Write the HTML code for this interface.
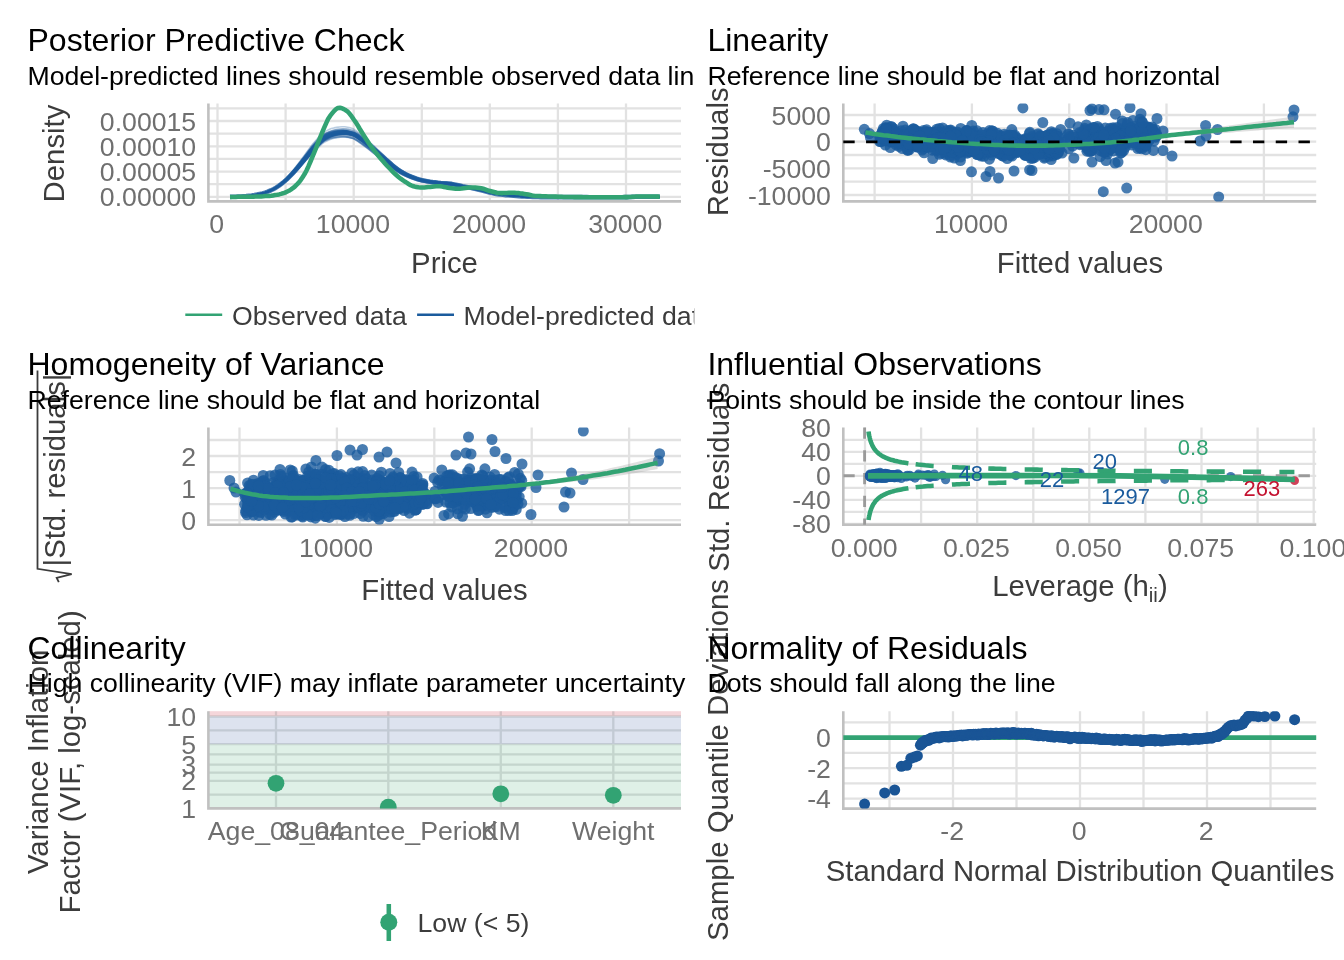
<!DOCTYPE html>
<html><head><meta charset="utf-8"><title>Model check</title>
<style>html,body{margin:0;padding:0;background:#fff}svg{display:block;will-change:transform}text{font-family:"Liberation Sans",Arial,Helvetica,sans-serif}</style>
</head><body>
<svg width="1344" height="960" viewBox="0 0 1344 960">
<rect width="1344" height="960" fill="#fff"/>
<defs><clipPath id="colL"><rect x="0" y="0" width="694.3" height="960"/></clipPath></defs>
<clipPath id="c1"><rect x="208.4" y="103.6" width="472.6" height="97.80000000000001"/></clipPath>
<path d="M217.5 103.6V201.4M285.6 103.6V201.4M353.7 103.6V201.4M421.8 103.6V201.4M489.8 103.6V201.4M557.9 103.6V201.4M626 103.6V201.4M208.4 196.9H681M208.4 184.2H681M208.4 171.6H681M208.4 158.9H681M208.4 146.3H681M208.4 133.7H681M208.4 121H681M208.4 108.4H681" stroke="#e2e2e2" stroke-width="2.3" fill="none"/>
<path d="M208.4 103.6V202.70000000000002M207.1 201.4H681" stroke="#c0c0c0" stroke-width="2.6" fill="none"/>
<g clip-path="url(#c1)" fill="none" stroke-linejoin="round" stroke-linecap="butt">
<path d="M230 196.8 L232.7 196.8 L235.4 196.7 L238.1 196.6 L240.8 196.4 L243.5 196.2 L246.2 196 L248.9 195.8 L251.6 195.5 L254.3 195.1 L257 194.6 L259.8 194 L262.5 193.3 L265.2 192.6 L267.9 191.6 L270.6 190.5 L273.3 189.2 L276 187.7 L278.7 185.9 L281.5 183.9 L284.2 181.7 L286.9 179.3 L289.6 176.7 L292.4 173.8 L295.1 170.9 L297.8 167.8 L300.5 164.5 L303.3 161.2 L306 157.9 L308.7 154.6 L311.5 151.2 L314.2 148.1 L316.9 145.2 L319.6 142.4 L322.4 139.8 L325.1 137.8 L327.8 136.3 L330.5 135.1 L333.2 134.2 L335.9 133.5 L338.6 133.1 L341.3 132.8 L344 132.6 L346.7 132.6 L349.4 133.1 L352.1 133.7 L354.8 134.6 L357.5 136.2 L360.2 138.1 L362.9 140.1 L365.6 142.2 L368.3 144.3 L371 146.6 L373.6 148.9 L376.3 151.2 L379 153.6 L381.7 156 L384.4 158.4 L387.1 160.7 L389.8 163 L392.4 165.3 L395.1 167.5 L397.8 169.5 L400.5 171.3 L403.2 172.8 L405.9 174.3 L408.6 175.5 L411.3 176.7 L414 177.8 L416.7 178.7 L419.4 179.5 L422.1 180.2 L424.8 180.7 L427.5 181.2 L430.2 181.7 L432.9 182 L435.6 182.4 L438.3 182.7 L441 182.9 L443.7 183.1 L446.4 183.3 L449.1 183.5 L451.8 183.9 L454.5 184.4 L457.2 184.9 L459.9 185.5 L462.6 186.1 L465.3 186.6 L467.9 187.1 L470.6 187.7 L473.3 188.3 L476 188.9 L478.7 189.6 L481.4 190.3 L484.1 191 L486.8 191.8 L489.5 192.5 L492.2 193.1 L494.9 193.6 L497.6 194.1 L500.3 194.5 L503 194.8 L505.7 195.1 L508.4 195.3 L511.1 195.5 L513.8 195.7 L516.5 195.9 L519.2 196.1 L521.9 196.3 L524.6 196.5 L527.3 196.6 L530 196.7 L532.7 196.8 L535.4 196.9 L538.2 197 L540.9 197.1 L543.6 197.1 L546.3 197.1 L549 197.1 L551.7 197.1 L554.4 197.1 L557.1 197.1 L559.8 197.1 L562.5 197.1 L565.2 197.1 L567.9 197.1 L570.6 197.1 L573.3 197.1 L576 197.1 L578.7 197.1 L581.4 197.1 L584.1 197.1 L586.8 197.1 L589.5 197.2 L592.2 197.2 L594.9 197.2 L597.6 197.2 L600.3 197.3 L603 197.3 L605.7 197.3 L608.4 197.3 L611.1 197.3 L613.8 197.3 L616.5 197.2 L619.2 197.2 L621.9 197.2 L624.6 197.1 L627.4 197.1 L630.1 197 L632.8 196.9 L635.5 196.8 L638.2 196.7 L640.9 196.7 L643.6 196.7 L646.3 196.7 L649 196.7 L651.7 196.7 L654.4 196.7 L657.1 196.7 L659.8 196.7" stroke="#1a5b9d" stroke-opacity="0.3" stroke-width="1.6"/>
<path d="M230 196.9 L232.7 196.8 L235.4 196.8 L238.1 196.6 L240.8 196.5 L243.5 196.3 L246.2 196.1 L248.9 195.8 L251.6 195.5 L254.3 195.1 L257 194.6 L259.7 194.1 L262.3 193.4 L265 192.7 L267.7 191.7 L270.4 190.6 L273 189.3 L275.7 187.9 L278.4 186.1 L281 184.1 L283.7 182 L286.3 179.7 L288.9 177 L291.6 174.2 L294.2 171.4 L296.8 168.3 L299.4 165.1 L302 161.8 L304.7 158.6 L307.3 155.3 L309.9 152 L312.5 148.8 L315.1 146 L317.8 143.2 L320.4 140.7 L323 138.6 L325.7 137.2 L328.4 136 L331.1 135 L333.7 134.3 L336.4 133.9 L339.1 133.6 L341.8 133.4 L344.5 133.5 L347.2 133.9 L350 134.5 L352.7 135.3 L355.4 136.9 L358.2 138.9 L360.9 140.8 L363.7 142.8 L366.5 145 L369.2 147.2 L372 149.5 L374.8 151.8 L377.5 154.1 L380.3 156.5 L383.1 158.8 L385.8 161.1 L388.6 163.4 L391.3 165.7 L394.1 167.9 L396.9 169.9 L399.6 171.6 L402.4 173.2 L405.1 174.6 L407.8 175.8 L410.6 177 L413.3 178 L416 179 L418.8 179.8 L421.5 180.4 L424.2 181 L426.9 181.5 L429.6 181.9 L432.3 182.3 L435.1 182.6 L437.8 182.9 L440.5 183.2 L443.2 183.4 L445.9 183.6 L448.6 183.8 L451.3 184.1 L454 184.6 L456.7 185.2 L459.5 185.8 L462.2 186.3 L464.9 186.8 L467.6 187.4 L470.3 187.9 L473.1 188.5 L475.8 189.1 L478.5 189.8 L481.2 190.4 L483.9 191.1 L486.7 191.9 L489.4 192.6 L492.1 193.2 L494.8 193.7 L497.5 194.2 L500.2 194.6 L503 194.9 L505.7 195.1 L508.4 195.4 L511.1 195.6 L513.8 195.8 L516.5 196 L519.2 196.2 L521.9 196.4 L524.6 196.5 L527.3 196.7 L530 196.8 L532.7 196.9 L535.5 196.9 L538.2 197 L540.9 197.1 L543.6 197.1 L546.3 197.1 L549 197.1 L551.7 197.1 L554.4 197.1 L557.1 197.1 L559.8 197.1 L562.5 197.1 L565.2 197.1 L567.9 197.1 L570.6 197.1 L573.3 197.1 L576 197.1 L578.7 197.1 L581.4 197.1 L584.1 197.1 L586.8 197.1 L589.5 197.2 L592.2 197.2 L594.9 197.2 L597.6 197.2 L600.3 197.3 L603 197.3 L605.7 197.3 L608.4 197.3 L611.1 197.3 L613.8 197.3 L616.6 197.2 L619.3 197.2 L622 197.2 L624.7 197.1 L627.4 197.1 L630.1 197 L632.8 196.9 L635.5 196.8 L638.2 196.7 L640.9 196.7 L643.6 196.7 L646.3 196.7 L649 196.7 L651.7 196.7 L654.4 196.7 L657.1 196.7 L659.8 196.7" stroke="#1a5b9d" stroke-opacity="0.3" stroke-width="1.6"/>
<path d="M230 196.9 L232.7 196.9 L235.4 196.8 L238.1 196.7 L240.8 196.5 L243.5 196.3 L246.2 196.1 L248.9 195.9 L251.6 195.6 L254.3 195.2 L257 194.7 L259.7 194.1 L262.4 193.5 L265.1 192.7 L267.8 191.8 L270.4 190.7 L273.1 189.4 L275.8 187.9 L278.5 186.2 L281.1 184.2 L283.8 182 L286.5 179.7 L289.1 177 L291.8 174.2 L294.4 171.3 L297.1 168.2 L299.7 165 L302.4 161.7 L305 158.4 L307.7 155.1 L310.3 151.7 L313 148.6 L315.6 145.7 L318.3 142.9 L321 140.3 L323.6 138.2 L326.3 136.7 L329 135.5 L331.7 134.6 L334.4 133.9 L337.1 133.4 L339.8 133.1 L342.5 132.9 L345.2 132.9 L347.9 133.3 L350.6 134 L353.3 134.8 L356 136.4 L358.8 138.4 L361.5 140.3 L364.2 142.4 L367 144.6 L369.7 146.9 L372.5 149.1 L375.2 151.5 L378 153.9 L380.7 156.2 L383.4 158.6 L386.2 161 L388.9 163.3 L391.7 165.6 L394.4 167.8 L397.1 169.8 L399.9 171.6 L402.6 173.1 L405.3 174.6 L408 175.8 L410.8 177 L413.5 178.1 L416.2 179 L418.9 179.8 L421.6 180.5 L424.4 181.1 L427.1 181.6 L429.8 182 L432.5 182.4 L435.2 182.7 L437.9 183 L440.6 183.3 L443.3 183.5 L446 183.7 L448.7 184 L451.4 184.3 L454.2 184.8 L456.9 185.4 L459.6 185.9 L462.3 186.5 L465 187 L467.7 187.5 L470.4 188.1 L473.1 188.6 L475.9 189.3 L478.6 189.9 L481.3 190.6 L484 191.3 L486.7 192 L489.4 192.7 L492.1 193.3 L494.8 193.8 L497.6 194.2 L500.3 194.6 L503 194.9 L505.7 195.2 L508.4 195.4 L511.1 195.6 L513.8 195.8 L516.5 196 L519.2 196.2 L521.9 196.4 L524.6 196.6 L527.3 196.7 L530 196.8 L532.7 196.9 L535.5 196.9 L538.2 197 L540.9 197.1 L543.6 197.1 L546.3 197.1 L549 197.1 L551.7 197.1 L554.4 197.1 L557.1 197 L559.8 197 L562.5 197.1 L565.2 197.1 L567.9 197.1 L570.6 197.1 L573.3 197.1 L576 197.1 L578.7 197.1 L581.4 197.1 L584.1 197.1 L586.8 197.1 L589.5 197.2 L592.2 197.2 L594.9 197.2 L597.6 197.2 L600.3 197.3 L603 197.3 L605.7 197.3 L608.4 197.3 L611.1 197.3 L613.8 197.3 L616.5 197.2 L619.3 197.2 L622 197.2 L624.7 197.1 L627.4 197.1 L630.1 197 L632.8 196.9 L635.5 196.8 L638.2 196.7 L640.9 196.7 L643.6 196.7 L646.3 196.7 L649 196.7 L651.7 196.7 L654.4 196.7 L657.1 196.7 L659.8 196.7" stroke="#1a5b9d" stroke-opacity="0.3" stroke-width="1.6"/>
<path d="M230 196.9 L232.7 196.8 L235.4 196.8 L238.1 196.6 L240.8 196.5 L243.5 196.3 L246.2 196.1 L248.9 195.8 L251.6 195.5 L254.3 195.1 L257 194.6 L259.7 194 L262.3 193.3 L265 192.6 L267.7 191.6 L270.4 190.5 L273.1 189.2 L275.7 187.7 L278.4 185.9 L281 183.9 L283.7 181.7 L286.3 179.3 L289 176.6 L291.6 173.8 L294.2 170.8 L296.9 167.7 L299.5 164.4 L302.1 161.1 L304.7 157.8 L307.3 154.4 L310 151 L312.6 147.8 L315.2 145 L317.8 142.1 L320.5 139.5 L323.1 137.4 L325.8 135.9 L328.5 134.7 L331.2 133.7 L333.8 133 L336.5 132.6 L339.2 132.3 L341.9 132.1 L344.6 132.1 L347.3 132.5 L350.1 133.2 L352.8 134 L355.5 135.6 L358.3 137.6 L361 139.6 L363.8 141.7 L366.5 143.9 L369.3 146.2 L372.1 148.5 L374.8 150.8 L377.6 153.2 L380.4 155.6 L383.1 158 L385.9 160.4 L388.6 162.7 L391.4 165 L394.2 167.3 L396.9 169.3 L399.7 171.1 L402.4 172.7 L405.1 174.1 L407.9 175.4 L410.6 176.6 L413.3 177.6 L416.1 178.6 L418.8 179.4 L421.5 180.1 L424.2 180.7 L426.9 181.2 L429.7 181.6 L432.4 182 L435.1 182.3 L437.8 182.6 L440.5 182.9 L443.2 183.1 L445.9 183.3 L448.6 183.5 L451.3 183.9 L454 184.4 L456.8 185 L459.5 185.6 L462.2 186.1 L464.9 186.6 L467.6 187.2 L470.3 187.7 L473.1 188.3 L475.8 189 L478.5 189.6 L481.2 190.3 L483.9 191 L486.7 191.8 L489.4 192.5 L492.1 193.1 L494.8 193.7 L497.5 194.1 L500.3 194.5 L503 194.8 L505.7 195.1 L508.4 195.3 L511.1 195.5 L513.8 195.7 L516.5 195.9 L519.2 196.2 L521.9 196.4 L524.6 196.5 L527.3 196.7 L530 196.8 L532.7 196.9 L535.5 196.9 L538.2 197 L540.9 197.1 L543.6 197.1 L546.3 197.1 L549 197.1 L551.7 197.1 L554.4 197.1 L557.1 197.1 L559.8 197.1 L562.5 197.1 L565.2 197.1 L567.9 197.1 L570.6 197.1 L573.3 197.1 L576 197.1 L578.7 197.1 L581.4 197.1 L584.1 197.1 L586.8 197.1 L589.5 197.2 L592.2 197.2 L594.9 197.2 L597.6 197.3 L600.3 197.3 L603 197.3 L605.7 197.3 L608.4 197.3 L611.1 197.3 L613.8 197.3 L616.6 197.2 L619.3 197.2 L622 197.2 L624.7 197.1 L627.4 197.1 L630.1 197 L632.8 196.9 L635.5 196.8 L638.2 196.7 L640.9 196.7 L643.6 196.7 L646.3 196.7 L649 196.7 L651.7 196.7 L654.4 196.7 L657.1 196.7 L659.8 196.7" stroke="#1a5b9d" stroke-opacity="0.3" stroke-width="1.6"/>
<path d="M230 196.9 L232.7 196.8 L235.4 196.8 L238.1 196.6 L240.8 196.4 L243.5 196.2 L246.2 196 L248.9 195.8 L251.6 195.4 L254.3 195 L257 194.5 L259.7 193.9 L262.4 193.3 L265.1 192.5 L267.8 191.6 L270.5 190.4 L273.2 189.2 L275.8 187.7 L278.5 185.9 L281.2 183.9 L283.9 181.8 L286.6 179.5 L289.2 176.8 L291.9 174 L294.6 171.2 L297.2 168.1 L299.9 164.9 L302.5 161.6 L305.2 158.4 L307.9 155.2 L310.5 151.9 L313.2 148.8 L315.9 146.1 L318.5 143.4 L321.2 140.9 L323.9 138.9 L326.6 137.6 L329.3 136.5 L331.9 135.7 L334.6 135.1 L337.3 134.8 L340 134.6 L342.7 134.6 L345.4 134.8 L348.2 135.3 L350.9 136 L353.6 137 L356.3 138.7 L359 140.7 L361.8 142.7 L364.5 144.8 L367.2 147 L369.9 149.2 L372.7 151.5 L375.4 153.8 L378.1 156.2 L380.9 158.5 L383.6 160.8 L386.3 163.1 L389.1 165.3 L391.8 167.5 L394.5 169.6 L397.3 171.6 L400 173.2 L402.7 174.8 L405.4 176.1 L408.1 177.3 L410.9 178.4 L413.6 179.4 L416.3 180.3 L419 181.1 L421.7 181.7 L424.4 182.2 L427.1 182.7 L429.8 183.1 L432.6 183.4 L435.3 183.7 L438 184 L440.7 184.2 L443.4 184.4 L446.1 184.5 L448.8 184.7 L451.5 185 L454.2 185.4 L456.9 185.9 L459.6 186.5 L462.3 187 L465 187.4 L467.8 187.9 L470.5 188.4 L473.2 188.9 L475.9 189.5 L478.6 190.1 L481.3 190.7 L484 191.3 L486.7 192 L489.4 192.7 L492.2 193.3 L494.9 193.7 L497.6 194.1 L500.3 194.5 L503 194.8 L505.7 195 L508.4 195.2 L511.1 195.4 L513.8 195.6 L516.5 195.8 L519.2 196 L521.9 196.2 L524.6 196.3 L527.3 196.4 L530 196.5 L532.7 196.6 L535.4 196.7 L538.2 196.8 L540.9 196.8 L543.6 196.8 L546.3 196.8 L549 196.8 L551.7 196.8 L554.4 196.8 L557.1 196.8 L559.8 196.8 L562.5 197.1 L565.2 197.1 L567.9 197.1 L570.6 197.1 L573.3 197.1 L576 197.1 L578.7 197.1 L581.4 197.1 L584.1 197.1 L586.8 197.1 L589.5 197.2 L592.2 197.2 L594.9 197.2 L597.6 197.2 L600.3 197.3 L603 197.3 L605.7 197.3 L608.4 197.3 L611.1 197.3 L613.8 197.2 L616.5 197.2 L619.2 197.2 L622 197.2 L624.7 197.1 L627.4 197.1 L630.1 197 L632.8 196.9 L635.5 196.8 L638.2 196.7 L640.9 196.7 L643.6 196.7 L646.3 196.7 L649 196.7 L651.7 196.7 L654.4 196.7 L657.1 196.7 L659.8 196.7" stroke="#1a5b9d" stroke-opacity="0.3" stroke-width="1.6"/>
<path d="M230 196.8 L232.7 196.8 L235.4 196.7 L238.1 196.6 L240.8 196.4 L243.5 196.2 L246.2 196 L248.9 195.8 L251.6 195.5 L254.3 195.1 L257 194.6 L259.7 194 L262.4 193.4 L265.1 192.7 L267.8 191.7 L270.5 190.6 L273.2 189.4 L275.9 188 L278.6 186.3 L281.3 184.3 L284 182.3 L286.7 180 L289.3 177.5 L292 174.8 L294.7 172 L297.4 169 L300.1 165.9 L302.8 162.8 L305.4 159.7 L308.1 156.5 L310.8 153.4 L313.5 150.4 L316.2 147.7 L318.9 145.1 L321.5 142.7 L324.2 140.8 L326.9 139.5 L329.6 138.4 L332.3 137.6 L335 137.1 L337.7 136.7 L340.4 136.5 L343.1 136.4 L345.8 136.6 L348.5 137.1 L351.2 137.7 L353.9 138.6 L356.7 140.2 L359.4 142.2 L362.1 144 L364.8 146 L367.5 148.1 L370.2 150.3 L373 152.5 L375.7 154.7 L378.4 157 L381.1 159.2 L383.8 161.4 L386.6 163.6 L389.3 165.8 L392 167.9 L394.7 170 L397.4 171.9 L400.1 173.5 L402.8 175 L405.6 176.3 L408.3 177.5 L411 178.5 L413.7 179.5 L416.4 180.4 L419.1 181.1 L421.8 181.7 L424.5 182.2 L427.2 182.7 L429.9 183 L432.6 183.4 L435.3 183.7 L438 183.9 L440.8 184.1 L443.5 184.3 L446.2 184.5 L448.9 184.7 L451.6 184.9 L454.3 185.4 L457 185.9 L459.7 186.4 L462.4 186.9 L465.1 187.4 L467.8 187.9 L470.5 188.4 L473.2 188.9 L475.9 189.5 L478.6 190.1 L481.3 190.7 L484.1 191.3 L486.8 192 L489.5 192.7 L492.2 193.3 L494.9 193.7 L497.6 194.2 L500.3 194.5 L503 194.8 L505.7 195.1 L508.4 195.3 L511.1 195.5 L513.8 195.7 L516.5 195.8 L519.2 196 L521.9 196.2 L524.6 196.4 L527.3 196.5 L530 196.6 L532.7 196.7 L535.4 196.8 L538.2 196.8 L540.9 196.9 L543.6 196.9 L546.3 196.9 L549 196.9 L551.7 196.9 L554.4 196.9 L557.1 196.9 L559.8 196.9 L562.5 197.1 L565.2 197.1 L567.9 197.1 L570.6 197.1 L573.3 197.1 L576 197.1 L578.7 197.1 L581.4 197.1 L584.1 197.1 L586.8 197.1 L589.5 197.2 L592.2 197.2 L594.9 197.2 L597.6 197.2 L600.3 197.2 L603 197.3 L605.7 197.3 L608.4 197.3 L611.1 197.3 L613.8 197.2 L616.5 197.2 L619.2 197.2 L622 197.1 L624.7 197.1 L627.4 197.1 L630.1 197 L632.8 196.9 L635.5 196.8 L638.2 196.7 L640.9 196.7 L643.6 196.7 L646.3 196.7 L649 196.7 L651.7 196.7 L654.4 196.7 L657.1 196.7 L659.8 196.7" stroke="#1a5b9d" stroke-opacity="0.3" stroke-width="1.6"/>
<path d="M230 197 L232.7 197 L235.4 196.9 L238.1 196.7 L240.8 196.6 L243.5 196.3 L246.2 196.1 L248.9 195.8 L251.6 195.5 L254.3 195.1 L257 194.5 L259.7 193.9 L262.4 193.2 L265.1 192.4 L267.8 191.4 L270.5 190.2 L273.2 188.8 L275.9 187.3 L278.6 185.4 L281.3 183.3 L284 181 L286.7 178.5 L289.4 175.7 L292.1 172.7 L294.7 169.6 L297.4 166.3 L300.1 162.9 L302.8 159.4 L305.5 155.9 L308.2 152.4 L310.9 148.9 L313.6 145.5 L316.2 142.6 L318.9 139.6 L321.6 136.9 L324.3 134.8 L327 133.3 L329.7 132.1 L332.4 131.2 L335.1 130.6 L337.8 130.2 L340.5 130 L343.2 129.9 L345.9 130.1 L348.6 130.7 L351.3 131.5 L354 132.5 L356.7 134.3 L359.5 136.5 L362.2 138.6 L364.9 140.9 L367.6 143.3 L370.3 145.7 L373 148.2 L375.7 150.7 L378.5 153.3 L381.2 155.8 L383.9 158.3 L386.6 160.8 L389.3 163.2 L392 165.6 L394.7 167.9 L397.5 170 L400.2 171.8 L402.9 173.4 L405.6 174.9 L408.3 176.2 L411 177.4 L413.7 178.5 L416.4 179.4 L419.1 180.3 L421.8 180.9 L424.5 181.5 L427.2 182 L430 182.5 L432.7 182.9 L435.4 183.2 L438.1 183.5 L440.8 183.7 L443.5 184 L446.2 184.1 L448.9 184.3 L451.6 184.6 L454.3 185.1 L457 185.7 L459.7 186.2 L462.4 186.7 L465.1 187.2 L467.8 187.7 L470.5 188.2 L473.2 188.8 L475.9 189.4 L478.6 190 L481.4 190.6 L484.1 191.3 L486.8 192 L489.5 192.7 L492.2 193.2 L494.9 193.7 L497.6 194.2 L500.3 194.5 L503 194.8 L505.7 195.1 L508.4 195.3 L511.1 195.5 L513.8 195.6 L516.5 195.8 L519.2 196 L521.9 196.2 L524.6 196.3 L527.3 196.5 L530 196.5 L532.7 196.6 L535.4 196.7 L538.2 196.7 L540.9 196.8 L543.6 196.8 L546.3 196.8 L549 196.8 L551.7 196.8 L554.4 196.8 L557.1 196.8 L559.8 196.8 L562.5 197.1 L565.2 197.1 L567.9 197.1 L570.6 197.1 L573.3 197.1 L576 197.1 L578.7 197.1 L581.4 197.1 L584.1 197.1 L586.8 197.2 L589.5 197.2 L592.2 197.2 L594.9 197.2 L597.6 197.3 L600.3 197.3 L603 197.3 L605.7 197.3 L608.4 197.3 L611.1 197.3 L613.8 197.3 L616.5 197.2 L619.2 197.2 L621.9 197.2 L624.7 197.1 L627.4 197.1 L630.1 197 L632.8 196.9 L635.5 196.8 L638.2 196.7 L640.9 196.7 L643.6 196.7 L646.3 196.7 L649 196.7 L651.7 196.7 L654.4 196.7 L657.1 196.7 L659.8 196.7" stroke="#1a5b9d" stroke-opacity="0.3" stroke-width="1.6"/>
<path d="M230 196.7 L232.7 196.6 L235.4 196.6 L238.1 196.4 L240.8 196.3 L243.5 196.1 L246.2 195.8 L248.9 195.6 L251.6 195.3 L254.3 194.9 L257 194.4 L259.7 193.8 L262.4 193.2 L265.2 192.4 L267.9 191.5 L270.6 190.3 L273.3 189 L276 187.6 L278.7 185.8 L281.4 183.8 L284.1 181.6 L286.8 179.3 L289.5 176.7 L292.2 173.9 L295 171 L297.7 168 L300.4 164.8 L303.1 161.5 L305.8 158.3 L308.5 155.1 L311.2 151.8 L313.9 148.7 L316.7 146 L319.4 143.3 L322.1 140.8 L324.8 138.8 L327.5 137.4 L330.2 136.3 L332.9 135.4 L335.6 134.8 L338.3 134.5 L341 134.2 L343.7 134 L346.4 134.1 L349.1 134.5 L351.8 135.2 L354.5 136 L357.2 137.6 L359.9 139.5 L362.6 141.4 L365.3 143.4 L368 145.5 L370.7 147.7 L373.4 149.9 L376.1 152.2 L378.8 154.5 L381.5 156.8 L384.2 159.1 L386.9 161.4 L389.6 163.6 L392.3 165.8 L395 167.9 L397.7 169.9 L400.4 171.6 L403.1 173.1 L405.8 174.5 L408.5 175.7 L411.2 176.8 L413.9 177.8 L416.6 178.8 L419.3 179.5 L422 180.1 L424.7 180.7 L427.4 181.1 L430.1 181.5 L432.8 181.9 L435.5 182.2 L438.2 182.5 L440.9 182.7 L443.6 182.9 L446.3 183.1 L449 183.3 L451.7 183.6 L454.4 184.1 L457.1 184.6 L459.8 185.2 L462.5 185.8 L465.2 186.3 L467.9 186.8 L470.6 187.4 L473.3 188 L476 188.6 L478.7 189.3 L481.4 190 L484.1 190.7 L486.8 191.5 L489.5 192.2 L492.2 192.9 L494.9 193.4 L497.6 193.9 L500.3 194.3 L503 194.6 L505.7 194.9 L508.4 195.2 L511.1 195.4 L513.8 195.6 L516.5 195.8 L519.2 196 L521.9 196.2 L524.6 196.4 L527.3 196.6 L530 196.7 L532.7 196.8 L535.4 196.9 L538.2 197 L540.9 197 L543.6 197.1 L546.3 197.1 L549 197.1 L551.7 197.1 L554.4 197.1 L557.1 197.1 L559.8 197.2 L562.5 197.1 L565.2 197.1 L567.9 197.1 L570.6 197.1 L573.3 197.1 L576 197.1 L578.7 197.1 L581.4 197.1 L584.1 197.1 L586.8 197.1 L589.5 197.2 L592.2 197.2 L594.9 197.2 L597.6 197.2 L600.3 197.3 L603 197.3 L605.7 197.3 L608.4 197.3 L611.1 197.3 L613.8 197.3 L616.5 197.2 L619.2 197.2 L621.9 197.2 L624.7 197.1 L627.4 197.1 L630.1 197 L632.8 196.9 L635.5 196.8 L638.2 196.7 L640.9 196.7 L643.6 196.7 L646.3 196.7 L649 196.7 L651.7 196.7 L654.4 196.7 L657.1 196.7 L659.8 196.7" stroke="#1a5b9d" stroke-opacity="0.3" stroke-width="1.6"/>
<path d="M230 196.8 L232.7 196.7 L235.4 196.7 L238.1 196.5 L240.8 196.3 L243.5 196.1 L246.2 195.9 L248.9 195.7 L251.6 195.4 L254.3 195 L257 194.5 L259.7 193.9 L262.3 193.2 L265 192.4 L267.7 191.5 L270.4 190.3 L273 189 L275.7 187.5 L278.4 185.7 L281 183.7 L283.7 181.5 L286.3 179.1 L288.9 176.5 L291.6 173.6 L294.2 170.7 L296.8 167.6 L299.4 164.3 L302.1 161 L304.7 157.7 L307.3 154.4 L309.9 151 L312.5 147.9 L315.1 145.1 L317.8 142.3 L320.4 139.7 L323.1 137.7 L325.7 136.3 L328.4 135.1 L331.1 134.2 L333.8 133.5 L336.5 133.2 L339.1 132.9 L341.8 132.7 L344.5 132.8 L347.3 133.2 L350 133.9 L352.7 134.8 L355.5 136.4 L358.2 138.4 L361 140.3 L363.7 142.4 L366.5 144.6 L369.2 146.8 L372 149.1 L374.8 151.4 L377.5 153.8 L380.3 156.2 L383.1 158.5 L385.8 160.9 L388.6 163.1 L391.4 165.4 L394.1 167.6 L396.9 169.6 L399.6 171.3 L402.4 172.9 L405.1 174.3 L407.8 175.6 L410.6 176.7 L413.3 177.8 L416 178.7 L418.8 179.5 L421.5 180.1 L424.2 180.7 L426.9 181.2 L429.6 181.6 L432.3 182 L435.1 182.3 L437.8 182.6 L440.5 182.8 L443.2 183 L445.9 183.2 L448.6 183.4 L451.3 183.7 L454 184.2 L456.7 184.8 L459.5 185.4 L462.2 185.9 L464.9 186.5 L467.6 187 L470.3 187.5 L473.1 188.1 L475.8 188.8 L478.5 189.5 L481.2 190.1 L483.9 190.9 L486.7 191.6 L489.4 192.4 L492.1 193 L494.8 193.5 L497.5 194 L500.2 194.4 L503 194.7 L505.7 195 L508.4 195.2 L511.1 195.4 L513.8 195.6 L516.5 195.8 L519.2 196.1 L521.9 196.3 L524.6 196.4 L527.3 196.6 L530 196.7 L532.7 196.8 L535.5 196.9 L538.2 197 L540.9 197 L543.6 197 L546.3 197.1 L549 197.1 L551.7 197.1 L554.4 197.1 L557.1 197.1 L559.8 197.1 L562.5 197.1 L565.2 197.1 L567.9 197.1 L570.6 197.1 L573.3 197.1 L576 197.1 L578.7 197.1 L581.4 197.1 L584.1 197.1 L586.8 197.1 L589.5 197.2 L592.2 197.2 L594.9 197.2 L597.6 197.2 L600.3 197.3 L603 197.3 L605.7 197.3 L608.4 197.3 L611.1 197.3 L613.8 197.3 L616.6 197.2 L619.3 197.2 L622 197.2 L624.7 197.1 L627.4 197.1 L630.1 197 L632.8 196.9 L635.5 196.8 L638.2 196.7 L640.9 196.7 L643.6 196.7 L646.3 196.7 L649 196.7 L651.7 196.7 L654.4 196.7 L657.1 196.7 L659.8 196.7" stroke="#1a5b9d" stroke-opacity="0.3" stroke-width="1.6"/>
<path d="M230 197 L232.7 197 L235.4 196.9 L238.1 196.8 L240.8 196.6 L243.5 196.4 L246.2 196.2 L248.9 196 L251.6 195.7 L254.3 195.3 L257 194.8 L259.7 194.2 L262.4 193.6 L265.1 192.9 L267.8 192 L270.5 190.9 L273.2 189.6 L275.9 188.2 L278.6 186.5 L281.3 184.5 L284 182.4 L286.7 180.1 L289.5 177.5 L292.2 174.8 L294.9 171.9 L297.6 168.9 L300.3 165.7 L303 162.4 L305.7 159.2 L308.4 155.9 L311.1 152.6 L313.8 149.4 L316.5 146.6 L319.2 143.8 L321.9 141.2 L324.6 139.1 L327.3 137.6 L330 136.4 L332.7 135.4 L335.4 134.6 L338.1 134.2 L340.8 133.8 L343.5 133.5 L346.2 133.5 L348.9 133.9 L351.6 134.5 L354.3 135.3 L357 136.8 L359.7 138.7 L362.4 140.6 L365.1 142.7 L367.8 144.8 L370.5 147 L373.2 149.3 L375.9 151.6 L378.6 153.9 L381.3 156.3 L384 158.7 L386.7 161 L389.5 163.3 L392.2 165.5 L394.9 167.7 L397.6 169.8 L400.3 171.5 L403 173.1 L405.7 174.5 L408.4 175.8 L411.1 177 L413.8 178 L416.5 179 L419.2 179.8 L421.9 180.5 L424.6 181 L427.3 181.6 L430 182 L432.7 182.4 L435.4 182.7 L438.1 183.1 L440.8 183.3 L443.5 183.6 L446.2 183.8 L448.9 184 L451.6 184.4 L454.3 184.8 L457 185.4 L459.8 186 L462.5 186.6 L465.2 187.1 L467.9 187.6 L470.6 188.2 L473.3 188.8 L476 189.4 L478.7 190 L481.4 190.7 L484.1 191.4 L486.8 192.1 L489.5 192.8 L492.2 193.4 L494.9 193.9 L497.6 194.4 L500.3 194.7 L503 195.1 L505.7 195.3 L508.4 195.5 L511.1 195.7 L513.8 195.9 L516.5 196.1 L519.2 196.3 L521.9 196.5 L524.6 196.7 L527.3 196.8 L530 196.9 L532.7 197 L535.4 197 L538.2 197.1 L540.9 197.1 L543.6 197.1 L546.3 197.1 L549 197.1 L551.7 197.1 L554.4 197.1 L557.1 197.1 L559.8 197.1 L562.5 197.1 L565.2 197.1 L567.9 197.1 L570.6 197.1 L573.3 197.1 L576 197.1 L578.7 197.1 L581.4 197.1 L584.1 197.1 L586.8 197.1 L589.5 197.2 L592.2 197.2 L594.9 197.2 L597.6 197.2 L600.3 197.3 L603 197.3 L605.7 197.3 L608.4 197.3 L611.1 197.3 L613.8 197.3 L616.5 197.2 L619.2 197.2 L621.9 197.2 L624.7 197.1 L627.4 197.1 L630.1 197 L632.8 196.9 L635.5 196.8 L638.2 196.7 L640.9 196.7 L643.6 196.7 L646.3 196.7 L649 196.7 L651.7 196.7 L654.4 196.7 L657.1 196.7 L659.8 196.7" stroke="#1a5b9d" stroke-opacity="0.3" stroke-width="1.6"/>
<path d="M230 196.9 L232.7 196.8 L235.4 196.8 L238.1 196.6 L240.8 196.5 L243.5 196.3 L246.2 196 L248.9 195.8 L251.6 195.5 L254.3 195.1 L257 194.6 L259.7 194 L262.4 193.4 L265.2 192.6 L267.9 191.7 L270.6 190.5 L273.3 189.2 L276 187.8 L278.7 186 L281.4 184 L284.1 181.8 L286.8 179.5 L289.5 176.8 L292.2 174 L295 171.1 L297.7 168 L300.4 164.7 L303.1 161.4 L305.8 158.1 L308.5 154.8 L311.2 151.4 L313.9 148.2 L316.7 145.4 L319.4 142.6 L322.1 140 L324.8 137.9 L327.5 136.4 L330.2 135.2 L332.9 134.3 L335.6 133.6 L338.3 133.2 L341 132.8 L343.7 132.6 L346.4 132.7 L349.1 133.1 L351.8 133.7 L354.5 134.6 L357.2 136.2 L359.9 138.1 L362.6 140.1 L365.3 142.1 L368 144.3 L370.7 146.6 L373.4 148.9 L376.1 151.2 L378.8 153.6 L381.5 156 L384.2 158.4 L386.9 160.7 L389.6 163 L392.3 165.3 L395 167.5 L397.7 169.5 L400.4 171.3 L403.1 172.9 L405.8 174.3 L408.5 175.6 L411.2 176.7 L413.9 177.8 L416.6 178.7 L419.3 179.5 L422 180.2 L424.7 180.8 L427.4 181.3 L430.1 181.7 L432.8 182.1 L435.5 182.4 L438.2 182.7 L440.9 183 L443.6 183.2 L446.3 183.4 L449 183.6 L451.7 183.9 L454.4 184.4 L457.1 185 L459.8 185.6 L462.5 186.2 L465.2 186.7 L467.9 187.2 L470.6 187.8 L473.3 188.4 L476 189 L478.7 189.7 L481.4 190.4 L484.1 191.1 L486.8 191.8 L489.5 192.5 L492.2 193.2 L494.9 193.7 L497.6 194.1 L500.3 194.5 L503 194.9 L505.7 195.1 L508.4 195.3 L511.1 195.6 L513.8 195.8 L516.5 196 L519.2 196.2 L521.9 196.4 L524.6 196.5 L527.3 196.7 L530 196.8 L532.7 196.9 L535.4 196.9 L538.2 197 L540.9 197.1 L543.6 197.1 L546.3 197.1 L549 197.1 L551.7 197.1 L554.4 197.1 L557.1 197.1 L559.8 197.1 L562.5 197.1 L565.2 197.1 L567.9 197.1 L570.6 197.1 L573.3 197.1 L576 197.1 L578.7 197.1 L581.4 197.1 L584.1 197.1 L586.8 197.1 L589.5 197.2 L592.2 197.2 L594.9 197.2 L597.6 197.2 L600.3 197.3 L603 197.3 L605.7 197.3 L608.4 197.3 L611.1 197.3 L613.8 197.3 L616.5 197.2 L619.2 197.2 L621.9 197.2 L624.7 197.1 L627.4 197.1 L630.1 197 L632.8 196.9 L635.5 196.8 L638.2 196.7 L640.9 196.7 L643.6 196.7 L646.3 196.7 L649 196.7 L651.7 196.7 L654.4 196.7 L657.1 196.7 L659.8 196.7" stroke="#1a5b9d" stroke-opacity="0.3" stroke-width="1.6"/>
<path d="M230 196.9 L232.7 196.9 L235.4 196.8 L238.1 196.7 L240.8 196.6 L243.5 196.4 L246.2 196.2 L249 196 L251.7 195.7 L254.4 195.3 L257.1 194.8 L259.8 194.2 L262.6 193.6 L265.3 192.9 L268 191.9 L270.8 190.8 L273.5 189.6 L276.3 188.1 L279.1 186.4 L281.8 184.4 L284.6 182.3 L287.4 179.9 L290.2 177.3 L293 174.5 L295.8 171.6 L298.6 168.6 L301.5 165.3 L304.3 162 L307.1 158.7 L309.9 155.4 L312.7 152 L315.6 148.8 L318.4 145.9 L321.2 143.1 L324 140.4 L326.8 138.2 L329.5 136.7 L332.3 135.4 L335 134.3 L337.7 133.5 L340.4 133 L343.2 132.5 L345.9 132.2 L348.6 132.2 L351.3 132.5 L353.9 133 L356.6 133.7 L359.3 135.3 L361.9 137.2 L364.5 139 L367.1 141 L369.8 143.2 L372.4 145.4 L375 147.7 L377.6 150 L380.2 152.4 L382.9 154.8 L385.5 157.2 L388.1 159.6 L390.7 161.9 L393.3 164.2 L396 166.5 L398.6 168.5 L401.2 170.3 L403.9 171.9 L406.5 173.4 L409.2 174.7 L411.8 175.9 L414.5 177 L417.2 178 L419.8 178.9 L422.5 179.5 L425.2 180.2 L427.9 180.7 L430.6 181.1 L433.3 181.6 L436 181.9 L438.7 182.3 L441.3 182.6 L444 182.8 L446.7 183 L449.4 183.3 L452.1 183.6 L454.8 184.2 L457.5 184.8 L460.2 185.4 L462.9 186 L465.5 186.6 L468.2 187.2 L470.9 187.7 L473.6 188.4 L476.3 189 L478.9 189.7 L481.6 190.4 L484.3 191.2 L487 191.9 L489.7 192.7 L492.3 193.3 L495 193.8 L497.7 194.3 L500.4 194.7 L503.1 195 L505.8 195.3 L508.5 195.5 L511.2 195.7 L513.9 196 L516.6 196.2 L519.3 196.4 L522 196.6 L524.7 196.7 L527.3 196.9 L530 197 L532.7 197.1 L535.4 197.1 L538.1 197.2 L540.8 197.3 L543.6 197.3 L546.3 197.3 L549 197.3 L551.7 197.3 L554.4 197.3 L557.1 197.3 L559.8 197.2 L562.5 197.1 L565.2 197.1 L567.9 197.1 L570.6 197.1 L573.3 197.1 L576 197.1 L578.7 197.1 L581.4 197.1 L584.1 197.1 L586.8 197.1 L589.5 197.2 L592.2 197.2 L594.9 197.2 L597.6 197.3 L600.3 197.3 L603 197.3 L605.7 197.3 L608.4 197.3 L611.1 197.3 L613.8 197.3 L616.5 197.2 L619.2 197.2 L621.9 197.2 L624.6 197.1 L627.3 197.1 L630.1 197 L632.8 196.9 L635.5 196.8 L638.2 196.7 L640.9 196.7 L643.6 196.7 L646.3 196.7 L649 196.7 L651.7 196.7 L654.4 196.7 L657.1 196.7 L659.8 196.7" stroke="#1a5b9d" stroke-opacity="0.3" stroke-width="1.6"/>
<path d="M230 196.7 L232.7 196.7 L235.4 196.6 L238.1 196.4 L240.8 196.2 L243.5 196 L246.2 195.8 L248.9 195.5 L251.6 195.2 L254.3 194.8 L257 194.3 L259.7 193.6 L262.4 193 L265.1 192.2 L267.8 191.2 L270.4 190 L273.1 188.7 L275.8 187.1 L278.5 185.3 L281.1 183.2 L283.8 181 L286.5 178.6 L289.1 175.9 L291.8 173 L294.4 170 L297.1 166.9 L299.7 163.5 L302.4 160.2 L305 156.9 L307.7 153.6 L310.3 150.2 L313 147.1 L315.6 144.3 L318.3 141.5 L320.9 139 L323.6 137 L326.3 135.7 L329 134.6 L331.6 133.8 L334.3 133.2 L337 133 L339.7 132.8 L342.4 132.7 L345.1 132.9 L347.8 133.5 L350.6 134.2 L353.3 135.2 L356 136.9 L358.7 139 L361.5 141 L364.2 143.1 L367 145.4 L369.7 147.6 L372.4 149.9 L375.2 152.3 L377.9 154.7 L380.7 157.1 L383.4 159.4 L386.2 161.7 L388.9 164 L391.6 166.2 L394.4 168.4 L397.1 170.4 L399.9 172.1 L402.6 173.6 L405.3 175 L408 176.3 L410.8 177.4 L413.5 178.4 L416.2 179.3 L418.9 180.1 L421.6 180.7 L424.3 181.2 L427.1 181.7 L429.8 182.1 L432.5 182.4 L435.2 182.7 L437.9 182.9 L440.6 183.2 L443.3 183.3 L446 183.5 L448.7 183.7 L451.4 183.9 L454.1 184.4 L456.9 185 L459.6 185.5 L462.3 186 L465 186.5 L467.7 187 L470.4 187.5 L473.1 188.1 L475.8 188.7 L478.6 189.4 L481.3 190 L484 190.8 L486.7 191.5 L489.4 192.2 L492.1 192.8 L494.8 193.3 L497.6 193.8 L500.3 194.2 L503 194.5 L505.7 194.8 L508.4 195 L511.1 195.2 L513.8 195.4 L516.5 195.6 L519.2 195.9 L521.9 196.1 L524.6 196.2 L527.3 196.4 L530 196.5 L532.7 196.6 L535.5 196.7 L538.2 196.8 L540.9 196.8 L543.6 196.9 L546.3 196.9 L549 196.9 L551.7 196.9 L554.4 196.9 L557.1 196.9 L559.8 196.9 L562.5 197.1 L565.2 197.1 L567.9 197.1 L570.6 197.1 L573.3 197.1 L576 197.1 L578.7 197.1 L581.4 197.1 L584.1 197.1 L586.8 197.1 L589.5 197.2 L592.2 197.2 L594.9 197.2 L597.6 197.2 L600.3 197.3 L603 197.3 L605.7 197.3 L608.4 197.3 L611.1 197.3 L613.8 197.3 L616.5 197.2 L619.3 197.2 L622 197.2 L624.7 197.1 L627.4 197.1 L630.1 197 L632.8 196.9 L635.5 196.8 L638.2 196.7 L640.9 196.7 L643.6 196.7 L646.3 196.7 L649 196.7 L651.7 196.7 L654.4 196.7 L657.1 196.7 L659.8 196.7" stroke="#1a5b9d" stroke-opacity="0.3" stroke-width="1.6"/>
<path d="M230 196.9 L232.7 196.9 L235.4 196.8 L238.1 196.7 L240.8 196.6 L243.5 196.4 L246.2 196.2 L248.9 195.9 L251.6 195.7 L254.3 195.3 L257 194.8 L259.7 194.2 L262.4 193.6 L265.1 192.9 L267.9 192 L270.6 190.9 L273.3 189.7 L276 188.2 L278.7 186.5 L281.4 184.6 L284.1 182.5 L286.8 180.3 L289.5 177.7 L292.2 175 L294.9 172.2 L297.6 169.2 L300.3 166.1 L303.1 162.8 L305.8 159.7 L308.5 156.4 L311.2 153.2 L313.9 150.1 L316.6 147.3 L319.3 144.6 L322 142 L324.7 140 L327.4 138.5 L330.1 137.3 L332.8 136.4 L335.5 135.7 L338.3 135.2 L341 134.9 L343.7 134.6 L346.4 134.7 L349.1 135 L351.8 135.6 L354.5 136.4 L357.2 137.9 L359.9 139.8 L362.6 141.7 L365.3 143.7 L368 145.8 L370.7 148 L373.4 150.2 L376.1 152.5 L378.8 154.8 L381.5 157.1 L384.2 159.4 L386.9 161.7 L389.6 163.9 L392.2 166.1 L394.9 168.3 L397.6 170.3 L400.3 172 L403 173.5 L405.7 174.9 L408.4 176.2 L411.1 177.3 L413.8 178.4 L416.5 179.3 L419.3 180.1 L422 180.7 L424.7 181.3 L427.4 181.8 L430.1 182.2 L432.8 182.6 L435.5 183 L438.2 183.3 L440.9 183.5 L443.6 183.8 L446.3 184 L449 184.2 L451.7 184.5 L454.4 185 L457.1 185.6 L459.8 186.2 L462.5 186.7 L465.2 187.2 L467.9 187.7 L470.6 188.3 L473.3 188.8 L476 189.4 L478.7 190.1 L481.4 190.7 L484.1 191.4 L486.8 192.1 L489.5 192.8 L492.2 193.4 L494.9 193.9 L497.6 194.3 L500.3 194.7 L503 195 L505.7 195.3 L508.4 195.5 L511.1 195.7 L513.8 195.9 L516.5 196.1 L519.2 196.3 L521.9 196.5 L524.6 196.6 L527.3 196.7 L530 196.8 L532.7 196.9 L535.4 197 L538.2 197.1 L540.9 197.1 L543.6 197.1 L546.3 197.1 L549 197.1 L551.7 197.1 L554.4 197.1 L557.1 197.1 L559.8 197.1 L562.5 197.1 L565.2 197.1 L567.9 197.1 L570.6 197.1 L573.3 197.1 L576 197.1 L578.7 197.1 L581.4 197.1 L584.1 197.1 L586.8 197.1 L589.5 197.2 L592.2 197.2 L594.9 197.2 L597.6 197.2 L600.3 197.3 L603 197.3 L605.7 197.3 L608.4 197.3 L611.1 197.3 L613.8 197.2 L616.5 197.2 L619.2 197.2 L621.9 197.2 L624.7 197.1 L627.4 197.1 L630.1 197 L632.8 196.9 L635.5 196.8 L638.2 196.7 L640.9 196.7 L643.6 196.7 L646.3 196.7 L649 196.7 L651.7 196.7 L654.4 196.7 L657.1 196.7 L659.8 196.7" stroke="#1a5b9d" stroke-opacity="0.3" stroke-width="1.6"/>
<path d="M230 196.8 L232.7 196.8 L235.4 196.7 L238.1 196.6 L240.8 196.4 L243.5 196.2 L246.2 195.9 L248.9 195.7 L251.6 195.4 L254.3 195 L257 194.4 L259.7 193.8 L262.4 193.1 L265.1 192.4 L267.8 191.4 L270.5 190.2 L273.2 188.9 L275.9 187.3 L278.6 185.5 L281.3 183.4 L284 181.2 L286.7 178.7 L289.4 176 L292.1 173 L294.8 170 L297.5 166.8 L300.2 163.5 L302.9 160 L305.6 156.7 L308.3 153.2 L311 149.8 L313.7 146.6 L316.4 143.6 L319.1 140.8 L321.8 138.2 L324.5 136 L327.2 134.6 L329.9 133.4 L332.6 132.4 L335.3 131.8 L338 131.4 L340.7 131.1 L343.4 131 L346.1 131.1 L348.8 131.5 L351.5 132.2 L354.2 133.1 L356.9 134.8 L359.6 136.9 L362.4 138.9 L365.1 141 L367.8 143.3 L370.5 145.6 L373.2 148 L375.9 150.4 L378.6 152.9 L381.3 155.3 L384 157.7 L386.7 160.1 L389.4 162.5 L392.1 164.8 L394.8 167.1 L397.5 169.1 L400.2 170.9 L403 172.5 L405.7 174 L408.4 175.3 L411.1 176.4 L413.8 177.5 L416.5 178.5 L419.2 179.3 L421.9 180 L424.6 180.5 L427.3 181 L430 181.5 L432.7 181.8 L435.4 182.2 L438.1 182.5 L440.8 182.7 L443.5 182.9 L446.2 183.1 L448.9 183.3 L451.6 183.6 L454.3 184.1 L457 184.7 L459.7 185.3 L462.4 185.9 L465.2 186.4 L467.9 186.9 L470.6 187.5 L473.3 188.1 L476 188.8 L478.7 189.4 L481.4 190.1 L484.1 190.8 L486.8 191.6 L489.5 192.3 L492.2 193 L494.9 193.5 L497.6 194 L500.3 194.4 L503 194.7 L505.7 195 L508.4 195.2 L511.1 195.4 L513.8 195.6 L516.5 195.8 L519.2 196 L521.9 196.2 L524.6 196.4 L527.3 196.6 L530 196.7 L532.7 196.8 L535.4 196.9 L538.2 196.9 L540.9 197 L543.6 197 L546.3 197 L549 197 L551.7 197 L554.4 197 L557.1 197 L559.8 197 L562.5 197.1 L565.2 197.1 L567.9 197.1 L570.6 197.1 L573.3 197.1 L576 197.1 L578.7 197.1 L581.4 197.1 L584.1 197.1 L586.8 197.2 L589.5 197.2 L592.2 197.2 L594.9 197.2 L597.6 197.3 L600.3 197.3 L603 197.3 L605.7 197.3 L608.4 197.3 L611.1 197.3 L613.8 197.3 L616.5 197.2 L619.2 197.2 L621.9 197.2 L624.7 197.1 L627.4 197.1 L630.1 197 L632.8 196.9 L635.5 196.8 L638.2 196.7 L640.9 196.7 L643.6 196.7 L646.3 196.7 L649 196.7 L651.7 196.7 L654.4 196.7 L657.1 196.7 L659.8 196.7" stroke="#1a5b9d" stroke-opacity="0.3" stroke-width="1.6"/>
<path d="M230 196.8 L232.7 196.8 L235.4 196.7 L238.1 196.6 L240.8 196.4 L243.5 196.2 L246.2 196 L248.9 195.8 L251.6 195.5 L254.3 195.1 L257 194.6 L259.7 194 L262.5 193.4 L265.2 192.6 L267.9 191.7 L270.6 190.6 L273.3 189.3 L276 187.8 L278.7 186.1 L281.4 184.1 L284.1 182 L286.9 179.7 L289.6 177.1 L292.3 174.3 L295 171.4 L297.7 168.4 L300.5 165.2 L303.2 161.9 L305.9 158.7 L308.6 155.5 L311.3 152.2 L314.1 149.1 L316.8 146.3 L319.5 143.6 L322.2 141.1 L324.9 139.1 L327.6 137.7 L330.4 136.5 L333.1 135.6 L335.8 135 L338.5 134.6 L341.2 134.3 L343.9 134.1 L346.6 134.2 L349.3 134.6 L352 135.3 L354.7 136.2 L357.4 137.7 L360.1 139.7 L362.8 141.6 L365.5 143.6 L368.1 145.8 L370.8 148 L373.5 150.2 L376.2 152.5 L378.9 154.8 L381.6 157.1 L384.3 159.4 L387 161.7 L389.7 163.9 L392.4 166.2 L395 168.3 L397.7 170.3 L400.4 172 L403.1 173.5 L405.8 174.9 L408.5 176.2 L411.2 177.3 L413.9 178.3 L416.6 179.2 L419.3 180 L422 180.6 L424.7 181.2 L427.4 181.7 L430.1 182.1 L432.8 182.4 L435.5 182.8 L438.2 183 L440.9 183.3 L443.6 183.5 L446.3 183.7 L449 183.9 L451.7 184.2 L454.4 184.7 L457.1 185.2 L459.8 185.8 L462.5 186.3 L465.2 186.9 L467.9 187.4 L470.6 187.9 L473.3 188.5 L476 189.1 L478.7 189.8 L481.4 190.4 L484.1 191.1 L486.8 191.8 L489.5 192.6 L492.2 193.2 L494.9 193.7 L497.6 194.1 L500.3 194.5 L503 194.8 L505.7 195.1 L508.4 195.3 L511.1 195.5 L513.8 195.7 L516.5 195.9 L519.2 196.1 L521.9 196.3 L524.6 196.5 L527.3 196.6 L530 196.7 L532.7 196.8 L535.4 196.9 L538.2 197 L540.9 197 L543.6 197 L546.3 197 L549 197 L551.7 197.1 L554.4 197.1 L557.1 197.1 L559.8 197.1 L562.5 197.1 L565.2 197.1 L567.9 197.1 L570.6 197.1 L573.3 197.1 L576 197.1 L578.7 197.1 L581.4 197.1 L584.1 197.1 L586.8 197.1 L589.5 197.2 L592.2 197.2 L594.9 197.2 L597.6 197.2 L600.3 197.3 L603 197.3 L605.7 197.3 L608.4 197.3 L611.1 197.3 L613.8 197.2 L616.5 197.2 L619.2 197.2 L621.9 197.2 L624.7 197.1 L627.4 197.1 L630.1 197 L632.8 196.9 L635.5 196.8 L638.2 196.7 L640.9 196.7 L643.6 196.7 L646.3 196.7 L649 196.7 L651.7 196.7 L654.4 196.7 L657.1 196.7 L659.8 196.7" stroke="#1a5b9d" stroke-opacity="0.3" stroke-width="1.6"/>
<path d="M230 196.9 L232.7 196.8 L235.4 196.7 L238.1 196.6 L240.8 196.5 L243.5 196.3 L246.2 196.1 L248.9 195.8 L251.6 195.5 L254.3 195.1 L257 194.7 L259.7 194.1 L262.4 193.5 L265.1 192.7 L267.8 191.8 L270.4 190.7 L273.1 189.5 L275.8 188.1 L278.5 186.3 L281.2 184.4 L283.8 182.3 L286.5 180 L289.2 177.5 L291.8 174.7 L294.5 171.9 L297.1 168.9 L299.8 165.8 L302.4 162.6 L305.1 159.5 L307.7 156.2 L310.4 153 L313 150 L315.7 147.2 L318.4 144.5 L321 142 L323.7 140 L326.4 138.6 L329.1 137.5 L331.7 136.6 L334.4 135.9 L337.1 135.5 L339.8 135.2 L342.5 135.1 L345.2 135.1 L347.9 135.5 L350.7 136.1 L353.4 137 L356.1 138.5 L358.8 140.5 L361.6 142.3 L364.3 144.3 L367 146.4 L369.8 148.6 L372.5 150.8 L375.3 153.1 L378 155.4 L380.7 157.6 L383.5 159.9 L386.2 162.2 L389 164.4 L391.7 166.6 L394.4 168.7 L397.2 170.7 L399.9 172.4 L402.6 173.9 L405.4 175.2 L408.1 176.5 L410.8 177.6 L413.5 178.6 L416.2 179.5 L418.9 180.3 L421.7 180.9 L424.4 181.5 L427.1 181.9 L429.8 182.3 L432.5 182.7 L435.2 183 L437.9 183.3 L440.6 183.6 L443.3 183.8 L446 183.9 L448.7 184.2 L451.5 184.5 L454.2 184.9 L456.9 185.5 L459.6 186.1 L462.3 186.6 L465 187.1 L467.7 187.6 L470.4 188.1 L473.1 188.7 L475.9 189.3 L478.6 189.9 L481.3 190.6 L484 191.3 L486.7 192 L489.4 192.7 L492.1 193.3 L494.9 193.8 L497.6 194.2 L500.3 194.6 L503 194.9 L505.7 195.2 L508.4 195.4 L511.1 195.6 L513.8 195.8 L516.5 196 L519.2 196.2 L521.9 196.4 L524.6 196.5 L527.3 196.6 L530 196.7 L532.7 196.8 L535.5 196.9 L538.2 197 L540.9 197 L543.6 197.1 L546.3 197.1 L549 197.1 L551.7 197.1 L554.4 197.1 L557.1 197.1 L559.8 197.1 L562.5 197.1 L565.2 197.1 L567.9 197.1 L570.6 197.1 L573.3 197.1 L576 197.1 L578.7 197.1 L581.4 197.1 L584.1 197.1 L586.8 197.1 L589.5 197.2 L592.2 197.2 L594.9 197.2 L597.6 197.2 L600.3 197.3 L603 197.3 L605.7 197.3 L608.4 197.3 L611.1 197.3 L613.8 197.2 L616.5 197.2 L619.2 197.2 L622 197.2 L624.7 197.1 L627.4 197.1 L630.1 197 L632.8 196.9 L635.5 196.8 L638.2 196.7 L640.9 196.7 L643.6 196.7 L646.3 196.7 L649 196.7 L651.7 196.7 L654.4 196.7 L657.1 196.7 L659.8 196.7" stroke="#1a5b9d" stroke-opacity="0.3" stroke-width="1.6"/>
<path d="M230 196.8 L232.7 196.7 L235.4 196.7 L238.1 196.5 L240.8 196.4 L243.5 196.2 L246.2 195.9 L248.9 195.7 L251.6 195.4 L254.3 195 L256.9 194.4 L259.6 193.8 L262.3 193.1 L265 192.4 L267.7 191.4 L270.3 190.2 L273 188.9 L275.6 187.3 L278.3 185.5 L280.9 183.4 L283.5 181.2 L286.1 178.7 L288.8 176 L291.4 173.1 L294 170 L296.6 166.8 L299.1 163.5 L301.7 160.1 L304.3 156.7 L306.9 153.3 L309.5 149.8 L312.1 146.6 L314.7 143.6 L317.3 140.7 L319.9 138.1 L322.5 135.9 L325.2 134.5 L327.8 133.2 L330.5 132.3 L333.2 131.6 L335.9 131.1 L338.6 130.8 L341.3 130.6 L344 130.7 L346.7 131.1 L349.4 131.7 L352.1 132.6 L354.9 134.2 L357.7 136.2 L360.4 138.2 L363.2 140.3 L366 142.6 L368.8 144.9 L371.6 147.2 L374.3 149.6 L377.1 152.1 L379.9 154.5 L382.7 156.9 L385.5 159.3 L388.3 161.7 L391.1 164 L393.8 166.3 L396.6 168.4 L399.4 170.2 L402.1 171.8 L404.9 173.3 L407.6 174.6 L410.4 175.8 L413.1 176.9 L415.9 177.9 L418.6 178.7 L421.3 179.4 L424.1 179.9 L426.8 180.5 L429.5 180.9 L432.2 181.3 L434.9 181.6 L437.6 181.9 L440.3 182.2 L443.1 182.4 L445.8 182.6 L448.5 182.8 L451.2 183.2 L453.9 183.7 L456.6 184.3 L459.4 184.9 L462.1 185.5 L464.8 186 L467.5 186.6 L470.3 187.2 L473 187.8 L475.7 188.5 L478.4 189.2 L481.2 189.9 L483.9 190.7 L486.6 191.5 L489.3 192.2 L492.1 192.9 L494.8 193.4 L497.5 193.9 L500.2 194.3 L502.9 194.7 L505.7 195 L508.4 195.2 L511.1 195.4 L513.8 195.6 L516.5 195.9 L519.2 196.1 L521.9 196.3 L524.6 196.5 L527.3 196.6 L530 196.8 L532.7 196.9 L535.5 197 L538.2 197 L540.9 197.1 L543.6 197.1 L546.3 197.1 L549 197.1 L551.7 197.1 L554.4 197.1 L557.1 197.2 L559.8 197.2 L562.5 197.1 L565.2 197.1 L567.9 197.1 L570.6 197.1 L573.3 197.1 L576 197.1 L578.7 197.1 L581.4 197.1 L584.1 197.1 L586.8 197.2 L589.5 197.2 L592.2 197.2 L594.9 197.2 L597.6 197.3 L600.3 197.3 L603 197.3 L605.7 197.3 L608.4 197.3 L611.1 197.3 L613.9 197.3 L616.6 197.2 L619.3 197.2 L622 197.2 L624.7 197.1 L627.4 197.1 L630.1 197 L632.8 196.9 L635.5 196.8 L638.2 196.7 L640.9 196.7 L643.6 196.7 L646.3 196.7 L649 196.7 L651.7 196.7 L654.4 196.7 L657.1 196.7 L659.8 196.7" stroke="#1a5b9d" stroke-opacity="0.3" stroke-width="1.6"/>
<path d="M230 196.9 L232.7 196.9 L235.4 196.8 L238.1 196.7 L240.8 196.5 L243.5 196.3 L246.2 196.1 L248.9 195.9 L251.6 195.6 L254.3 195.2 L257 194.8 L259.7 194.2 L262.4 193.6 L265.1 192.9 L267.8 192 L270.5 190.9 L273.2 189.7 L275.8 188.4 L278.5 186.7 L281.2 184.8 L283.9 182.8 L286.5 180.6 L289.2 178.1 L291.9 175.4 L294.6 172.7 L297.2 169.8 L299.9 166.8 L302.5 163.6 L305.2 160.6 L307.9 157.4 L310.5 154.3 L313.2 151.3 L315.9 148.7 L318.5 146 L321.2 143.6 L323.9 141.6 L326.6 140.3 L329.2 139.1 L331.9 138.2 L334.6 137.6 L337.3 137.2 L340 136.9 L342.7 136.7 L345.4 136.8 L348.1 137.1 L350.9 137.7 L353.6 138.6 L356.3 140.1 L359 141.9 L361.7 143.7 L364.5 145.7 L367.2 147.7 L369.9 149.8 L372.7 152 L375.4 154.2 L378.1 156.4 L380.9 158.6 L383.6 160.9 L386.3 163.1 L389.1 165.2 L391.8 167.4 L394.5 169.4 L397.3 171.3 L400 173 L402.7 174.5 L405.4 175.8 L408.1 177 L410.9 178.1 L413.6 179.1 L416.3 180 L419 180.7 L421.7 181.3 L424.4 181.9 L427.1 182.4 L429.8 182.8 L432.5 183.1 L435.3 183.4 L438 183.7 L440.7 184 L443.4 184.2 L446.1 184.3 L448.8 184.6 L451.5 184.9 L454.2 185.3 L456.9 185.9 L459.6 186.4 L462.3 186.9 L465 187.4 L467.8 187.9 L470.5 188.4 L473.2 189 L475.9 189.6 L478.6 190.2 L481.3 190.8 L484 191.5 L486.7 192.2 L489.4 192.9 L492.2 193.4 L494.9 193.9 L497.6 194.3 L500.3 194.7 L503 195 L505.7 195.2 L508.4 195.5 L511.1 195.6 L513.8 195.8 L516.5 196 L519.2 196.2 L521.9 196.4 L524.6 196.6 L527.3 196.7 L530 196.8 L532.7 196.9 L535.4 196.9 L538.2 197 L540.9 197 L543.6 197.1 L546.3 197.1 L549 197.1 L551.7 197.1 L554.4 197.1 L557.1 197.1 L559.8 197.1 L562.5 197.1 L565.2 197.1 L567.9 197.1 L570.6 197.1 L573.3 197.1 L576 197.1 L578.7 197.1 L581.4 197.1 L584.1 197.1 L586.8 197.1 L589.5 197.2 L592.2 197.2 L594.9 197.2 L597.6 197.2 L600.3 197.2 L603 197.3 L605.7 197.3 L608.4 197.3 L611.1 197.3 L613.8 197.2 L616.5 197.2 L619.2 197.2 L622 197.1 L624.7 197.1 L627.4 197.1 L630.1 197 L632.8 196.9 L635.5 196.8 L638.2 196.7 L640.9 196.7 L643.6 196.7 L646.3 196.7 L649 196.7 L651.7 196.7 L654.4 196.7 L657.1 196.7 L659.8 196.7" stroke="#1a5b9d" stroke-opacity="0.3" stroke-width="1.6"/>
<path d="M230 196.8 L232.7 196.8 L235.4 196.7 L238.1 196.6 L240.8 196.4 L243.5 196.2 L246.2 196 L248.9 195.7 L251.6 195.4 L254.3 195 L257 194.5 L259.7 193.9 L262.4 193.2 L265.1 192.4 L267.8 191.4 L270.5 190.3 L273.2 188.9 L275.9 187.4 L278.6 185.6 L281.2 183.5 L283.9 181.3 L286.6 178.8 L289.3 176.1 L292 173.2 L294.6 170.2 L297.3 167 L300 163.7 L302.7 160.2 L305.3 156.9 L308 153.5 L310.7 150 L313.4 146.8 L316 143.9 L318.7 141 L321.4 138.3 L324.1 136.2 L326.8 134.8 L329.5 133.5 L332.2 132.6 L334.9 131.9 L337.6 131.5 L340.3 131.2 L343 131 L345.7 131.1 L348.4 131.5 L351.1 132.2 L353.8 133.1 L356.5 134.7 L359.2 136.8 L362 138.8 L364.7 140.9 L367.4 143.1 L370.1 145.5 L372.8 147.8 L375.6 150.2 L378.3 152.7 L381 155.1 L383.7 157.5 L386.5 159.9 L389.2 162.3 L391.9 164.6 L394.6 166.9 L397.4 169 L400.1 170.7 L402.8 172.3 L405.5 173.8 L408.2 175.1 L410.9 176.3 L413.6 177.4 L416.4 178.3 L419.1 179.2 L421.8 179.8 L424.5 180.4 L427.2 180.9 L429.9 181.4 L432.6 181.7 L435.3 182.1 L438 182.4 L440.7 182.6 L443.4 182.8 L446.1 183 L448.8 183.3 L451.5 183.6 L454.2 184.1 L457 184.7 L459.7 185.3 L462.4 185.8 L465.1 186.4 L467.8 186.9 L470.5 187.5 L473.2 188.1 L475.9 188.8 L478.6 189.4 L481.3 190.1 L484 190.8 L486.7 191.6 L489.5 192.4 L492.2 193 L494.9 193.5 L497.6 194 L500.3 194.4 L503 194.7 L505.7 195 L508.4 195.2 L511.1 195.5 L513.8 195.7 L516.5 195.9 L519.2 196.1 L521.9 196.3 L524.6 196.5 L527.3 196.6 L530 196.7 L532.7 196.8 L535.4 196.9 L538.2 197 L540.9 197 L543.6 197.1 L546.3 197.1 L549 197.1 L551.7 197.1 L554.4 197.1 L557.1 197.1 L559.8 197.1 L562.5 197.1 L565.2 197.1 L567.9 197.1 L570.6 197.1 L573.3 197.1 L576 197.1 L578.7 197.1 L581.4 197.1 L584.1 197.1 L586.8 197.2 L589.5 197.2 L592.2 197.2 L594.9 197.2 L597.6 197.3 L600.3 197.3 L603 197.3 L605.7 197.3 L608.4 197.3 L611.1 197.3 L613.8 197.3 L616.5 197.2 L619.2 197.2 L622 197.2 L624.7 197.1 L627.4 197.1 L630.1 197 L632.8 196.9 L635.5 196.8 L638.2 196.7 L640.9 196.7 L643.6 196.7 L646.3 196.7 L649 196.7 L651.7 196.7 L654.4 196.7 L657.1 196.7 L659.8 196.7" stroke="#1a5b9d" stroke-opacity="0.3" stroke-width="1.6"/>
<path d="M230 196.8 L232.7 196.8 L235.4 196.7 L238.1 196.6 L240.8 196.4 L243.5 196.2 L246.2 196 L248.9 195.7 L251.6 195.4 L254.3 195 L257 194.4 L259.7 193.8 L262.4 193.1 L265.1 192.3 L267.8 191.3 L270.5 190.1 L273.2 188.7 L275.8 187.2 L278.5 185.3 L281.2 183.2 L283.9 180.9 L286.6 178.4 L289.2 175.6 L291.9 172.6 L294.6 169.5 L297.2 166.2 L299.9 162.8 L302.6 159.3 L305.2 155.8 L307.9 152.3 L310.6 148.8 L313.2 145.4 L315.9 142.4 L318.6 139.5 L321.3 136.7 L323.9 134.5 L326.6 133 L329.3 131.8 L332 130.8 L334.7 130.1 L337.4 129.6 L340.1 129.3 L342.8 129.1 L345.5 129.2 L348.2 129.6 L350.9 130.3 L353.6 131.2 L356.3 132.9 L359.1 135 L361.8 137.1 L364.5 139.2 L367.3 141.6 L370 143.9 L372.7 146.3 L375.4 148.8 L378.2 151.3 L380.9 153.8 L383.6 156.3 L386.4 158.8 L389.1 161.2 L391.8 163.6 L394.6 166 L397.3 168.1 L400 169.9 L402.7 171.6 L405.4 173.1 L408.2 174.4 L410.9 175.7 L413.6 176.8 L416.3 177.8 L419 178.6 L421.7 179.3 L424.4 179.9 L427.1 180.4 L429.9 180.9 L432.6 181.3 L435.3 181.6 L438 181.9 L440.7 182.2 L443.4 182.4 L446.1 182.6 L448.8 182.9 L451.5 183.2 L454.2 183.7 L456.9 184.3 L459.6 185 L462.3 185.5 L465.1 186.1 L467.8 186.6 L470.5 187.2 L473.2 187.9 L475.9 188.5 L478.6 189.2 L481.3 189.9 L484 190.7 L486.7 191.5 L489.4 192.2 L492.2 192.9 L494.9 193.4 L497.6 193.9 L500.3 194.3 L503 194.7 L505.7 195 L508.4 195.2 L511.1 195.4 L513.8 195.6 L516.5 195.9 L519.2 196.1 L521.9 196.3 L524.6 196.5 L527.3 196.6 L530 196.7 L532.7 196.8 L535.4 196.9 L538.2 197 L540.9 197 L543.6 197.1 L546.3 197.1 L549 197.1 L551.7 197.1 L554.4 197.1 L557.1 197.1 L559.8 197.1 L562.5 197.1 L565.2 197.1 L567.9 197.1 L570.6 197.1 L573.3 197.1 L576 197.1 L578.7 197.1 L581.4 197.1 L584.1 197.1 L586.8 197.2 L589.5 197.2 L592.2 197.2 L594.9 197.2 L597.6 197.3 L600.3 197.3 L603 197.3 L605.7 197.3 L608.4 197.3 L611.1 197.3 L613.8 197.3 L616.5 197.3 L619.2 197.2 L622 197.2 L624.7 197.1 L627.4 197.1 L630.1 197 L632.8 196.9 L635.5 196.8 L638.2 196.7 L640.9 196.7 L643.6 196.7 L646.3 196.7 L649 196.7 L651.7 196.7 L654.4 196.7 L657.1 196.7 L659.8 196.7" stroke="#1a5b9d" stroke-opacity="0.3" stroke-width="1.6"/>
<path d="M230 196.8 L232.7 196.7 L235.4 196.7 L238.1 196.5 L240.8 196.4 L243.5 196.2 L246.2 196 L248.9 195.8 L251.6 195.5 L254.3 195.1 L257 194.6 L259.7 194 L262.4 193.4 L265.1 192.6 L267.8 191.7 L270.5 190.6 L273.2 189.3 L275.9 187.9 L278.6 186.1 L281.3 184.2 L284 182 L286.7 179.7 L289.4 177.1 L292 174.3 L294.7 171.5 L297.4 168.4 L300.1 165.3 L302.8 162 L305.5 158.8 L308.2 155.5 L310.9 152.2 L313.5 149.1 L316.2 146.3 L318.9 143.6 L321.6 141.1 L324.3 139 L327 137.6 L329.7 136.4 L332.4 135.4 L335.1 134.7 L337.8 134.3 L340.5 133.9 L343.2 133.7 L345.9 133.7 L348.6 134 L351.3 134.6 L354 135.4 L356.7 136.9 L359.4 138.8 L362.2 140.7 L364.9 142.7 L367.6 144.8 L370.3 147 L373 149.2 L375.7 151.5 L378.4 153.8 L381.2 156.1 L383.9 158.4 L386.6 160.7 L389.3 162.9 L392 165.2 L394.7 167.4 L397.4 169.4 L400.2 171.1 L402.9 172.7 L405.6 174.1 L408.3 175.3 L411 176.5 L413.7 177.5 L416.4 178.5 L419.1 179.2 L421.8 179.9 L424.5 180.5 L427.2 181 L429.9 181.4 L432.7 181.7 L435.4 182.1 L438.1 182.4 L440.8 182.6 L443.5 182.9 L446.2 183.1 L448.9 183.3 L451.6 183.6 L454.3 184.1 L457 184.7 L459.7 185.3 L462.4 185.9 L465.1 186.4 L467.8 187 L470.5 187.5 L473.2 188.2 L475.9 188.8 L478.6 189.5 L481.4 190.2 L484.1 190.9 L486.8 191.7 L489.5 192.4 L492.2 193.1 L494.9 193.6 L497.6 194.1 L500.3 194.5 L503 194.8 L505.7 195.1 L508.4 195.3 L511.1 195.5 L513.8 195.8 L516.5 196 L519.2 196.2 L521.9 196.4 L524.6 196.6 L527.3 196.7 L530 196.8 L532.7 196.9 L535.4 197 L538.2 197.1 L540.9 197.2 L543.6 197.2 L546.3 197.2 L549 197.2 L551.7 197.2 L554.4 197.2 L557.1 197.2 L559.8 197.2 L562.5 197.1 L565.2 197.1 L567.9 197.1 L570.6 197.1 L573.3 197.1 L576 197.1 L578.7 197.1 L581.4 197.1 L584.1 197.1 L586.8 197.1 L589.5 197.2 L592.2 197.2 L594.9 197.2 L597.6 197.2 L600.3 197.3 L603 197.3 L605.7 197.3 L608.4 197.3 L611.1 197.3 L613.8 197.3 L616.5 197.2 L619.2 197.2 L621.9 197.2 L624.7 197.1 L627.4 197.1 L630.1 197 L632.8 196.9 L635.5 196.8 L638.2 196.7 L640.9 196.7 L643.6 196.7 L646.3 196.7 L649 196.7 L651.7 196.7 L654.4 196.7 L657.1 196.7 L659.8 196.7" stroke="#1a5b9d" stroke-opacity="0.3" stroke-width="1.6"/>
<path d="M230 196.8 L232.7 196.8 L235.4 196.7 L238.1 196.6 L240.8 196.4 L243.5 196.2 L246.2 196 L249 195.8 L251.7 195.5 L254.4 195.1 L257.1 194.6 L259.8 194 L262.5 193.4 L265.3 192.7 L268 191.8 L270.7 190.6 L273.5 189.4 L276.2 187.9 L279 186.2 L281.8 184.2 L284.5 182.1 L287.3 179.8 L290.1 177.2 L292.9 174.4 L295.7 171.6 L298.5 168.6 L301.3 165.4 L304.1 162.1 L306.9 158.9 L309.7 155.7 L312.5 152.4 L315.3 149.3 L318.1 146.5 L320.9 143.8 L323.7 141.2 L326.5 139.2 L329.2 137.8 L331.9 136.6 L334.7 135.6 L337.4 134.9 L340.1 134.5 L342.8 134.2 L345.5 134 L348.2 134 L350.9 134.4 L353.6 134.9 L356.3 135.8 L358.9 137.3 L361.6 139.2 L364.2 141.1 L366.9 143.1 L369.5 145.2 L372.1 147.4 L374.8 149.6 L377.4 151.9 L380 154.2 L382.7 156.5 L385.3 158.8 L387.9 161.1 L390.5 163.3 L393.2 165.6 L395.8 167.8 L398.4 169.8 L401.1 171.5 L403.7 173 L406.4 174.4 L409.1 175.7 L411.7 176.8 L414.4 177.9 L417.1 178.8 L419.8 179.6 L422.4 180.2 L425.1 180.8 L427.8 181.3 L430.5 181.7 L433.2 182.1 L435.9 182.4 L438.6 182.7 L441.3 183 L444 183.2 L446.7 183.4 L449.4 183.6 L452.1 183.9 L454.7 184.4 L457.4 185 L460.1 185.6 L462.8 186.1 L465.5 186.7 L468.2 187.2 L470.9 187.8 L473.5 188.4 L476.2 189 L478.9 189.7 L481.6 190.3 L484.3 191.1 L487 191.8 L489.6 192.5 L492.3 193.1 L495 193.7 L497.7 194.1 L500.4 194.5 L503.1 194.9 L505.8 195.1 L508.5 195.4 L511.2 195.6 L513.9 195.8 L516.6 196 L519.3 196.2 L522 196.4 L524.6 196.6 L527.3 196.7 L530 196.8 L532.7 196.9 L535.4 197 L538.1 197.1 L540.9 197.1 L543.6 197.1 L546.3 197.1 L549 197.1 L551.7 197.2 L554.4 197.2 L557.1 197.2 L559.8 197.2 L562.5 197.1 L565.2 197.1 L567.9 197.1 L570.6 197.1 L573.3 197.1 L576 197.1 L578.7 197.1 L581.4 197.1 L584.1 197.1 L586.8 197.1 L589.5 197.2 L592.2 197.2 L594.9 197.2 L597.6 197.2 L600.3 197.3 L603 197.3 L605.7 197.3 L608.4 197.3 L611.1 197.3 L613.8 197.3 L616.5 197.2 L619.2 197.2 L621.9 197.2 L624.6 197.1 L627.3 197.1 L630.1 197 L632.8 196.9 L635.5 196.8 L638.2 196.7 L640.9 196.7 L643.6 196.7 L646.3 196.7 L649 196.7 L651.7 196.7 L654.4 196.7 L657.1 196.7 L659.8 196.7" stroke="#1a5b9d" stroke-opacity="0.3" stroke-width="1.6"/>
<path d="M230 196.7 L232.7 196.7 L235.4 196.6 L238.1 196.5 L240.8 196.3 L243.5 196.1 L246.2 195.9 L248.9 195.7 L251.6 195.3 L254.3 194.9 L257 194.4 L259.7 193.8 L262.4 193.1 L265.1 192.4 L267.8 191.4 L270.5 190.2 L273.2 188.9 L275.9 187.4 L278.6 185.6 L281.2 183.5 L283.9 181.3 L286.6 178.9 L289.3 176.2 L292 173.3 L294.6 170.4 L297.3 167.2 L300 163.9 L302.7 160.6 L305.3 157.3 L308 153.9 L310.7 150.5 L313.4 147.3 L316 144.5 L318.7 141.7 L321.4 139.1 L324.1 137 L326.8 135.6 L329.5 134.4 L332.1 133.4 L334.8 132.8 L337.5 132.4 L340.2 132.1 L342.9 131.9 L345.6 132 L348.4 132.4 L351.1 133.1 L353.8 133.9 L356.5 135.6 L359.2 137.6 L361.9 139.5 L364.7 141.6 L367.4 143.8 L370.1 146.1 L372.8 148.3 L375.6 150.7 L378.3 153.1 L381 155.5 L383.7 157.9 L386.4 160.2 L389.2 162.5 L391.9 164.8 L394.6 167 L397.3 169.1 L400.1 170.8 L402.8 172.4 L405.5 173.8 L408.2 175.1 L410.9 176.3 L413.6 177.3 L416.3 178.3 L419.1 179.1 L421.8 179.7 L424.5 180.3 L427.2 180.8 L429.9 181.2 L432.6 181.6 L435.3 181.9 L438 182.2 L440.7 182.4 L443.4 182.6 L446.1 182.8 L448.8 183 L451.5 183.4 L454.2 183.9 L457 184.5 L459.7 185.1 L462.4 185.6 L465.1 186.2 L467.8 186.7 L470.5 187.3 L473.2 187.9 L475.9 188.6 L478.6 189.2 L481.3 189.9 L484 190.7 L486.7 191.5 L489.5 192.2 L492.2 192.9 L494.9 193.4 L497.6 193.9 L500.3 194.3 L503 194.7 L505.7 194.9 L508.4 195.2 L511.1 195.4 L513.8 195.6 L516.5 195.8 L519.2 196.1 L521.9 196.3 L524.6 196.5 L527.3 196.6 L530 196.7 L532.7 196.8 L535.4 196.9 L538.2 197 L540.9 197.1 L543.6 197.1 L546.3 197.1 L549 197.1 L551.7 197.1 L554.4 197.1 L557.1 197.1 L559.8 197.1 L562.5 197.1 L565.2 197.1 L567.9 197.1 L570.6 197.1 L573.3 197.1 L576 197.1 L578.7 197.1 L581.4 197.1 L584.1 197.1 L586.8 197.1 L589.5 197.2 L592.2 197.2 L594.9 197.2 L597.6 197.3 L600.3 197.3 L603 197.3 L605.7 197.3 L608.4 197.3 L611.1 197.3 L613.8 197.3 L616.5 197.2 L619.2 197.2 L622 197.2 L624.7 197.1 L627.4 197.1 L630.1 197 L632.8 196.9 L635.5 196.8 L638.2 196.7 L640.9 196.7 L643.6 196.7 L646.3 196.7 L649 196.7 L651.7 196.7 L654.4 196.7 L657.1 196.7 L659.8 196.7" stroke="#1a5b9d" stroke-opacity="0.3" stroke-width="1.6"/>
<path d="M230 196.9 L232.7 196.9 L235.4 196.8 L238.1 196.7 L240.8 196.5 L243.5 196.3 L246.2 196.1 L248.9 195.8 L251.6 195.5 L254.3 195.1 L257 194.6 L259.6 194 L262.3 193.3 L265 192.6 L267.7 191.6 L270.3 190.5 L273 189.1 L275.6 187.6 L278.3 185.8 L280.9 183.8 L283.5 181.6 L286.2 179.1 L288.8 176.4 L291.4 173.5 L294 170.5 L296.6 167.4 L299.2 164 L301.8 160.6 L304.3 157.2 L306.9 153.8 L309.5 150.3 L312.1 147.1 L314.7 144.1 L317.3 141.2 L319.9 138.6 L322.6 136.4 L325.2 134.9 L327.9 133.6 L330.6 132.6 L333.2 131.9 L335.9 131.4 L338.6 131 L341.3 130.8 L344 130.9 L346.7 131.2 L349.5 131.9 L352.2 132.8 L354.9 134.4 L357.7 136.4 L360.5 138.4 L363.3 140.5 L366 142.7 L368.8 145 L371.6 147.4 L374.4 149.8 L377.2 152.3 L380 154.7 L382.7 157.2 L385.5 159.6 L388.3 161.9 L391.1 164.3 L393.9 166.6 L396.6 168.7 L399.4 170.5 L402.2 172.1 L404.9 173.6 L407.7 174.9 L410.4 176.1 L413.2 177.2 L415.9 178.2 L418.6 179 L421.3 179.7 L424.1 180.3 L426.8 180.8 L429.5 181.3 L432.2 181.7 L434.9 182 L437.6 182.4 L440.4 182.6 L443.1 182.9 L445.8 183.1 L448.5 183.3 L451.2 183.7 L453.9 184.2 L456.7 184.8 L459.4 185.4 L462.1 186 L464.8 186.5 L467.5 187.1 L470.3 187.6 L473 188.2 L475.7 188.9 L478.4 189.6 L481.2 190.3 L483.9 191 L486.6 191.8 L489.3 192.5 L492.1 193.1 L494.8 193.7 L497.5 194.1 L500.2 194.5 L502.9 194.9 L505.7 195.1 L508.4 195.4 L511.1 195.6 L513.8 195.8 L516.5 196 L519.2 196.2 L521.9 196.4 L524.6 196.6 L527.3 196.7 L530 196.8 L532.7 196.9 L535.5 197 L538.2 197.1 L540.9 197.1 L543.6 197.1 L546.3 197.1 L549 197.1 L551.7 197.1 L554.4 197.1 L557.1 197.1 L559.8 197.1 L562.5 197.1 L565.2 197.1 L567.9 197.1 L570.6 197.1 L573.3 197.1 L576 197.1 L578.7 197.1 L581.4 197.1 L584.1 197.1 L586.8 197.2 L589.5 197.2 L592.2 197.2 L594.9 197.2 L597.6 197.3 L600.3 197.3 L603 197.3 L605.7 197.3 L608.4 197.3 L611.1 197.3 L613.9 197.3 L616.6 197.2 L619.3 197.2 L622 197.2 L624.7 197.1 L627.4 197.1 L630.1 197 L632.8 196.9 L635.5 196.8 L638.2 196.7 L640.9 196.7 L643.6 196.7 L646.3 196.7 L649 196.7 L651.7 196.7 L654.4 196.7 L657.1 196.7 L659.8 196.7" stroke="#1a5b9d" stroke-opacity="0.3" stroke-width="1.6"/>
<path d="M230 196.9 L232.7 196.9 L235.4 196.8 L238.1 196.7 L240.8 196.5 L243.5 196.4 L246.2 196.2 L248.9 196 L251.6 195.7 L254.3 195.3 L257 194.9 L259.7 194.3 L262.4 193.7 L265.1 193.1 L267.8 192.2 L270.5 191.1 L273.2 190 L275.9 188.6 L278.6 187 L281.3 185.1 L283.9 183.2 L286.6 181 L289.3 178.5 L292 175.9 L294.7 173.2 L297.3 170.4 L300 167.4 L302.7 164.3 L305.4 161.3 L308 158.2 L310.7 155 L313.4 152.1 L316.1 149.4 L318.8 146.8 L321.4 144.4 L324.1 142.4 L326.8 141 L329.5 139.8 L332.2 138.8 L334.9 138.1 L337.6 137.7 L340.3 137.3 L343 137.1 L345.7 137.1 L348.4 137.4 L351.1 137.9 L353.8 138.6 L356.5 140.1 L359.3 141.8 L362 143.6 L364.7 145.5 L367.4 147.5 L370.2 149.6 L372.9 151.7 L375.6 153.8 L378.3 156 L381 158.2 L383.8 160.5 L386.5 162.7 L389.2 164.8 L391.9 166.9 L394.6 169 L397.4 170.9 L400.1 172.6 L402.8 174.1 L405.5 175.4 L408.2 176.6 L410.9 177.7 L413.7 178.7 L416.4 179.6 L419.1 180.4 L421.8 181 L424.5 181.6 L427.2 182 L429.9 182.5 L432.6 182.8 L435.3 183.2 L438 183.4 L440.7 183.7 L443.4 183.9 L446.1 184.1 L448.8 184.4 L451.5 184.7 L454.3 185.2 L457 185.7 L459.7 186.3 L462.4 186.8 L465.1 187.3 L467.8 187.9 L470.5 188.4 L473.2 189 L475.9 189.6 L478.6 190.2 L481.3 190.8 L484 191.5 L486.8 192.2 L489.5 192.9 L492.2 193.5 L494.9 194 L497.6 194.4 L500.3 194.8 L503 195.1 L505.7 195.3 L508.4 195.6 L511.1 195.8 L513.8 195.9 L516.5 196.1 L519.2 196.3 L521.9 196.5 L524.6 196.7 L527.3 196.8 L530 196.9 L532.7 197 L535.4 197.1 L538.2 197.1 L540.9 197.2 L543.6 197.2 L546.3 197.2 L549 197.2 L551.7 197.2 L554.4 197.2 L557.1 197.2 L559.8 197.2 L562.5 197.1 L565.2 197.1 L567.9 197.1 L570.6 197.1 L573.3 197.1 L576 197.1 L578.7 197.1 L581.4 197.1 L584.1 197.1 L586.8 197.1 L589.5 197.2 L592.2 197.2 L594.9 197.2 L597.6 197.2 L600.3 197.2 L603 197.3 L605.7 197.3 L608.4 197.3 L611.1 197.3 L613.8 197.2 L616.5 197.2 L619.2 197.2 L622 197.2 L624.7 197.1 L627.4 197.1 L630.1 197 L632.8 196.9 L635.5 196.8 L638.2 196.7 L640.9 196.7 L643.6 196.7 L646.3 196.7 L649 196.7 L651.7 196.7 L654.4 196.7 L657.1 196.7 L659.8 196.7" stroke="#1a5b9d" stroke-opacity="0.3" stroke-width="1.6"/>
<path d="M230 197 L232.7 196.9 L235.4 196.8 L238.1 196.7 L240.8 196.5 L243.5 196.3 L246.2 196.1 L248.9 195.8 L251.6 195.5 L254.3 195.1 L257 194.5 L259.7 193.9 L262.4 193.2 L265 192.4 L267.7 191.3 L270.4 190.1 L273.1 188.7 L275.7 187.1 L278.4 185.2 L281.1 183 L283.7 180.7 L286.4 178.1 L289 175.3 L291.7 172.2 L294.3 169 L296.9 165.6 L299.6 162.1 L302.2 158.5 L304.8 154.9 L307.5 151.2 L310.1 147.6 L312.7 144.1 L315.4 141 L318 137.9 L320.6 135 L323.3 132.7 L326 131.1 L328.6 129.7 L331.3 128.6 L334 127.9 L336.7 127.4 L339.4 127 L342.1 126.7 L344.8 126.8 L347.5 127.2 L350.2 127.8 L353 128.8 L355.7 130.5 L358.4 132.6 L361.2 134.7 L363.9 137 L366.7 139.4 L369.4 141.8 L372.2 144.3 L374.9 146.9 L377.7 149.5 L380.5 152.1 L383.2 154.7 L386 157.3 L388.7 159.8 L391.5 162.3 L394.2 164.8 L397 167 L399.7 168.9 L402.5 170.6 L405.2 172.2 L407.9 173.6 L410.7 174.9 L413.4 176.1 L416.1 177.1 L418.8 178 L421.5 178.8 L424.3 179.4 L427 180 L429.7 180.4 L432.4 180.9 L435.1 181.2 L437.8 181.6 L440.5 181.9 L443.2 182.1 L445.9 182.4 L448.7 182.6 L451.4 183 L454.1 183.5 L456.8 184.2 L459.5 184.8 L462.2 185.4 L464.9 186 L467.7 186.6 L470.4 187.2 L473.1 187.8 L475.8 188.5 L478.5 189.2 L481.2 190 L484 190.7 L486.7 191.5 L489.4 192.3 L492.1 193 L494.8 193.5 L497.5 194 L500.3 194.4 L503 194.8 L505.7 195.1 L508.4 195.3 L511.1 195.5 L513.8 195.7 L516.5 196 L519.2 196.2 L521.9 196.4 L524.6 196.6 L527.3 196.7 L530 196.8 L532.7 196.9 L535.5 197 L538.2 197.1 L540.9 197.1 L543.6 197.1 L546.3 197.1 L549 197.1 L551.7 197.1 L554.4 197.1 L557.1 197.1 L559.8 197.1 L562.5 197.1 L565.2 197.1 L567.9 197.1 L570.6 197.1 L573.3 197.1 L576 197.1 L578.7 197.1 L581.4 197.1 L584.1 197.1 L586.8 197.2 L589.5 197.2 L592.2 197.2 L594.9 197.3 L597.6 197.3 L600.3 197.3 L603 197.3 L605.7 197.3 L608.4 197.3 L611.1 197.3 L613.8 197.3 L616.5 197.3 L619.3 197.2 L622 197.2 L624.7 197.1 L627.4 197.1 L630.1 197 L632.8 196.9 L635.5 196.8 L638.2 196.7 L640.9 196.6 L643.6 196.6 L646.3 196.6 L649 196.6 L651.7 196.6 L654.4 196.6 L657.1 196.6 L659.8 196.6" stroke="#1a5b9d" stroke-opacity="0.3" stroke-width="1.6"/>
<path d="M230 196.9 L232.7 196.9 L235.4 196.8 L238.1 196.6 L240.8 196.5 L243.5 196.3 L246.2 196 L248.9 195.8 L251.6 195.5 L254.3 195.1 L257 194.6 L259.7 194 L262.4 193.3 L265.1 192.5 L267.8 191.5 L270.5 190.4 L273.2 189.1 L275.9 187.5 L278.6 185.7 L281.3 183.7 L284 181.4 L286.7 179 L289.4 176.3 L292.1 173.4 L294.8 170.4 L297.4 167.2 L300.1 163.9 L302.8 160.5 L305.5 157.1 L308.2 153.7 L310.9 150.2 L313.6 147 L316.3 144 L318.9 141.2 L321.6 138.5 L324.3 136.4 L327 134.9 L329.7 133.7 L332.4 132.7 L335.1 132 L337.8 131.5 L340.5 131.2 L343.2 131 L345.9 131.1 L348.6 131.5 L351.3 132.2 L354 133.1 L356.8 134.7 L359.5 136.8 L362.2 138.8 L364.9 140.9 L367.6 143.1 L370.3 145.5 L373 147.8 L375.8 150.2 L378.5 152.7 L381.2 155.1 L383.9 157.5 L386.6 160 L389.3 162.3 L392 164.6 L394.7 166.9 L397.5 169 L400.2 170.8 L402.9 172.4 L405.6 173.9 L408.3 175.2 L411 176.4 L413.7 177.5 L416.4 178.4 L419.1 179.3 L421.8 179.9 L424.5 180.5 L427.3 181 L430 181.5 L432.7 181.9 L435.4 182.2 L438.1 182.5 L440.8 182.8 L443.5 183 L446.2 183.2 L448.9 183.4 L451.6 183.8 L454.3 184.3 L457 184.9 L459.7 185.5 L462.4 186 L465.1 186.6 L467.8 187.1 L470.5 187.7 L473.2 188.3 L475.9 188.9 L478.7 189.6 L481.4 190.3 L484.1 191 L486.8 191.7 L489.5 192.5 L492.2 193.1 L494.9 193.6 L497.6 194.1 L500.3 194.5 L503 194.8 L505.7 195.1 L508.4 195.3 L511.1 195.5 L513.8 195.7 L516.5 195.9 L519.2 196.1 L521.9 196.3 L524.6 196.5 L527.3 196.6 L530 196.7 L532.7 196.8 L535.4 196.9 L538.2 197 L540.9 197 L543.6 197.1 L546.3 197.1 L549 197.1 L551.7 197.1 L554.4 197.1 L557.1 197.1 L559.8 197.1 L562.5 197.1 L565.2 197.1 L567.9 197.1 L570.6 197.1 L573.3 197.1 L576 197.1 L578.7 197.1 L581.4 197.1 L584.1 197.1 L586.8 197.2 L589.5 197.2 L592.2 197.2 L594.9 197.2 L597.6 197.3 L600.3 197.3 L603 197.3 L605.7 197.3 L608.4 197.3 L611.1 197.3 L613.8 197.3 L616.5 197.2 L619.2 197.2 L621.9 197.2 L624.7 197.1 L627.4 197.1 L630.1 197 L632.8 196.9 L635.5 196.8 L638.2 196.7 L640.9 196.7 L643.6 196.7 L646.3 196.7 L649 196.7 L651.7 196.7 L654.4 196.7 L657.1 196.7 L659.8 196.7" stroke="#1a5b9d" stroke-opacity="0.3" stroke-width="1.6"/>
<path d="M230 196.9 L232.7 196.9 L235.4 196.8 L238.1 196.6 L240.8 196.5 L243.5 196.3 L246.2 196 L248.9 195.8 L251.6 195.5 L254.3 195.1 L257 194.6 L259.7 194 L262.3 193.3 L265 192.5 L267.7 191.6 L270.4 190.4 L273 189.1 L275.7 187.6 L278.4 185.7 L281 183.7 L283.6 181.5 L286.3 179.1 L288.9 176.3 L291.5 173.4 L294.2 170.5 L296.8 167.3 L299.4 163.9 L302 160.5 L304.6 157.2 L307.2 153.8 L309.8 150.3 L312.4 147.1 L315.1 144.1 L317.7 141.3 L320.3 138.6 L323 136.5 L325.6 135 L328.3 133.7 L331 132.7 L333.7 132 L336.4 131.6 L339.1 131.3 L341.7 131.1 L344.5 131.1 L347.2 131.5 L349.9 132.2 L352.6 133.1 L355.4 134.7 L358.1 136.7 L360.9 138.7 L363.6 140.8 L366.4 143.1 L369.2 145.4 L371.9 147.7 L374.7 150.1 L377.5 152.6 L380.2 155 L383 157.4 L385.8 159.9 L388.5 162.2 L391.3 164.5 L394.1 166.8 L396.8 168.9 L399.6 170.7 L402.3 172.3 L405.1 173.8 L407.8 175.1 L410.5 176.3 L413.3 177.4 L416 178.3 L418.7 179.2 L421.5 179.8 L424.2 180.4 L426.9 181 L429.6 181.4 L432.3 181.8 L435 182.1 L437.7 182.4 L440.5 182.7 L443.2 182.9 L445.9 183.1 L448.6 183.4 L451.3 183.7 L454 184.2 L456.7 184.8 L459.5 185.4 L462.2 186 L464.9 186.5 L467.6 187.1 L470.3 187.6 L473 188.2 L475.8 188.9 L478.5 189.6 L481.2 190.2 L483.9 191 L486.7 191.7 L489.4 192.5 L492.1 193.1 L494.8 193.6 L497.5 194.1 L500.2 194.5 L503 194.8 L505.7 195.1 L508.4 195.3 L511.1 195.5 L513.8 195.7 L516.5 195.9 L519.2 196.2 L521.9 196.4 L524.6 196.5 L527.3 196.7 L530 196.8 L532.7 196.9 L535.5 196.9 L538.2 197 L540.9 197.1 L543.6 197.1 L546.3 197.1 L549 197.1 L551.7 197.1 L554.4 197.1 L557.1 197.1 L559.8 197.1 L562.5 197.1 L565.2 197.1 L567.9 197.1 L570.6 197.1 L573.3 197.1 L576 197.1 L578.7 197.1 L581.4 197.1 L584.1 197.1 L586.8 197.2 L589.5 197.2 L592.2 197.2 L594.9 197.2 L597.6 197.3 L600.3 197.3 L603 197.3 L605.7 197.3 L608.4 197.3 L611.1 197.3 L613.8 197.3 L616.6 197.2 L619.3 197.2 L622 197.2 L624.7 197.1 L627.4 197.1 L630.1 197 L632.8 196.9 L635.5 196.8 L638.2 196.7 L640.9 196.7 L643.6 196.7 L646.3 196.7 L649 196.7 L651.7 196.7 L654.4 196.7 L657.1 196.7 L659.8 196.7" stroke="#1a5b9d" stroke-opacity="0.3" stroke-width="1.6"/>
<path d="M230 197 L232.7 197 L235.4 196.9 L238.1 196.7 L240.8 196.6 L243.5 196.4 L246.2 196.2 L248.9 195.9 L251.6 195.6 L254.3 195.2 L257 194.7 L259.8 194.2 L262.5 193.5 L265.2 192.8 L267.9 191.9 L270.6 190.8 L273.3 189.5 L276 188.1 L278.7 186.3 L281.4 184.4 L284.2 182.3 L286.9 179.9 L289.6 177.3 L292.3 174.6 L295.1 171.7 L297.8 168.7 L300.5 165.4 L303.2 162.2 L306 158.9 L308.7 155.6 L311.4 152.3 L314.1 149.2 L316.9 146.4 L319.6 143.6 L322.3 141 L325 139 L327.7 137.5 L330.4 136.3 L333.2 135.4 L335.9 134.7 L338.6 134.3 L341.3 133.9 L344 133.8 L346.7 133.8 L349.4 134.2 L352.1 134.9 L354.8 135.7 L357.5 137.3 L360.2 139.3 L362.8 141.2 L365.5 143.3 L368.2 145.4 L370.9 147.7 L373.6 149.9 L376.3 152.3 L379 154.6 L381.7 157 L384.3 159.3 L387 161.7 L389.7 163.9 L392.4 166.2 L395.1 168.4 L397.8 170.4 L400.5 172.1 L403.2 173.7 L405.9 175.1 L408.6 176.3 L411.2 177.5 L413.9 178.5 L416.6 179.5 L419.3 180.3 L422 180.9 L424.7 181.5 L427.4 182 L430.1 182.4 L432.8 182.8 L435.5 183.1 L438.2 183.4 L440.9 183.7 L443.6 183.9 L446.3 184.1 L449 184.3 L451.7 184.7 L454.4 185.1 L457.1 185.7 L459.8 186.3 L462.5 186.8 L465.2 187.3 L467.9 187.8 L470.6 188.3 L473.3 188.9 L476 189.5 L478.7 190.1 L481.4 190.8 L484.1 191.4 L486.8 192.2 L489.5 192.8 L492.2 193.4 L494.9 193.9 L497.6 194.3 L500.3 194.7 L503 195 L505.7 195.3 L508.4 195.5 L511.1 195.7 L513.8 195.8 L516.5 196 L519.2 196.2 L521.9 196.4 L524.6 196.6 L527.3 196.7 L530 196.8 L532.7 196.8 L535.4 196.9 L538.2 197 L540.9 197 L543.6 197 L546.3 197 L549 197 L551.7 197 L554.4 197 L557.1 197 L559.8 197 L562.5 197.1 L565.2 197.1 L567.9 197.1 L570.6 197.1 L573.3 197.1 L576 197.1 L578.7 197.1 L581.4 197.1 L584.1 197.1 L586.8 197.1 L589.5 197.2 L592.2 197.2 L594.9 197.2 L597.6 197.2 L600.3 197.3 L603 197.3 L605.7 197.3 L608.4 197.3 L611.1 197.3 L613.8 197.3 L616.5 197.2 L619.2 197.2 L621.9 197.2 L624.6 197.1 L627.4 197.1 L630.1 197 L632.8 196.9 L635.5 196.8 L638.2 196.7 L640.9 196.7 L643.6 196.7 L646.3 196.7 L649 196.7 L651.7 196.7 L654.4 196.7 L657.1 196.7 L659.8 196.7" stroke="#1a5b9d" stroke-opacity="0.3" stroke-width="1.6"/>
<path d="M230 196.9 L232.7 196.9 L235.4 196.8 L238.1 196.7 L240.8 196.5 L243.5 196.3 L246.2 196.1 L248.9 195.9 L251.6 195.6 L254.3 195.2 L257 194.6 L259.7 194.1 L262.4 193.4 L265.2 192.7 L267.9 191.7 L270.6 190.6 L273.3 189.3 L276 187.8 L278.7 186 L281.4 184 L284.1 181.9 L286.8 179.5 L289.5 176.8 L292.2 174 L294.9 171.1 L297.6 168 L300.4 164.7 L303.1 161.3 L305.8 158 L308.5 154.7 L311.2 151.3 L313.9 148.1 L316.6 145.2 L319.3 142.4 L322 139.7 L324.7 137.6 L327.5 136.1 L330.2 134.8 L332.9 133.8 L335.6 133.1 L338.3 132.6 L341 132.3 L343.7 132 L346.4 132 L349.1 132.4 L351.8 133 L354.5 133.8 L357.2 135.4 L359.9 137.4 L362.6 139.3 L365.3 141.3 L368 143.5 L370.7 145.8 L373.4 148.1 L376.1 150.4 L378.8 152.8 L381.5 155.2 L384.2 157.6 L386.9 160 L389.6 162.3 L392.3 164.6 L395 166.9 L397.7 169 L400.4 170.7 L403.1 172.3 L405.8 173.8 L408.5 175.1 L411.2 176.3 L413.9 177.3 L416.6 178.3 L419.3 179.1 L422 179.8 L424.7 180.4 L427.4 180.9 L430.1 181.4 L432.8 181.8 L435.5 182.1 L438.2 182.4 L440.9 182.7 L443.6 182.9 L446.3 183.1 L449 183.4 L451.7 183.7 L454.4 184.2 L457.1 184.8 L459.8 185.5 L462.5 186 L465.2 186.6 L467.9 187.1 L470.6 187.7 L473.3 188.3 L476 188.9 L478.7 189.6 L481.4 190.3 L484.1 191 L486.8 191.8 L489.5 192.5 L492.2 193.2 L494.9 193.7 L497.6 194.2 L500.3 194.6 L503 194.9 L505.7 195.2 L508.4 195.4 L511.1 195.6 L513.8 195.8 L516.5 196 L519.2 196.2 L521.9 196.4 L524.6 196.6 L527.3 196.7 L530 196.8 L532.7 196.9 L535.4 197 L538.2 197.1 L540.9 197.1 L543.6 197.2 L546.3 197.2 L549 197.2 L551.7 197.2 L554.4 197.2 L557.1 197.2 L559.8 197.2 L562.5 197.1 L565.2 197.1 L567.9 197.1 L570.6 197.1 L573.3 197.1 L576 197.1 L578.7 197.1 L581.4 197.1 L584.1 197.1 L586.8 197.1 L589.5 197.2 L592.2 197.2 L594.9 197.2 L597.6 197.3 L600.3 197.3 L603 197.3 L605.7 197.3 L608.4 197.3 L611.1 197.3 L613.8 197.3 L616.5 197.2 L619.2 197.2 L621.9 197.2 L624.7 197.1 L627.4 197.1 L630.1 197 L632.8 196.9 L635.5 196.8 L638.2 196.7 L640.9 196.7 L643.6 196.7 L646.3 196.7 L649 196.7 L651.7 196.7 L654.4 196.7 L657.1 196.7 L659.8 196.7" stroke="#1a5b9d" stroke-opacity="0.3" stroke-width="1.6"/>
<path d="M230 196.9 L232.7 196.9 L235.4 196.8 L238.1 196.7 L240.8 196.5 L243.5 196.3 L246.2 196.1 L248.9 195.9 L251.6 195.6 L254.3 195.2 L257 194.8 L259.6 194.2 L262.3 193.6 L265 192.9 L267.7 192 L270.4 190.9 L273 189.7 L275.7 188.3 L278.3 186.7 L281 184.8 L283.6 182.8 L286.2 180.5 L288.9 178 L291.5 175.4 L294.1 172.6 L296.7 169.7 L299.3 166.6 L301.9 163.5 L304.5 160.4 L307.1 157.3 L309.7 154.1 L312.3 151.1 L314.9 148.4 L317.6 145.8 L320.2 143.3 L322.8 141.4 L325.5 140 L328.1 138.9 L330.8 138 L333.5 137.3 L336.2 136.9 L338.9 136.6 L341.6 136.5 L344.3 136.5 L347 136.9 L349.7 137.5 L352.5 138.4 L355.2 139.9 L358 141.7 L360.7 143.6 L363.5 145.5 L366.3 147.6 L369 149.7 L371.8 151.9 L374.6 154.1 L377.4 156.4 L380.1 158.6 L382.9 160.9 L385.7 163.1 L388.5 165.2 L391.2 167.4 L394 169.5 L396.8 171.4 L399.5 173 L402.3 174.5 L405 175.9 L407.8 177.1 L410.5 178.2 L413.2 179.2 L416 180 L418.7 180.8 L421.4 181.4 L424.1 182 L426.9 182.4 L429.6 182.8 L432.3 183.2 L435 183.5 L437.7 183.8 L440.4 184.1 L443.1 184.3 L445.8 184.4 L448.5 184.6 L451.3 184.9 L454 185.4 L456.7 186 L459.4 186.5 L462.1 187 L464.9 187.5 L467.6 188 L470.3 188.5 L473 189.1 L475.7 189.6 L478.5 190.2 L481.2 190.9 L483.9 191.5 L486.6 192.2 L489.4 192.9 L492.1 193.4 L494.8 193.9 L497.5 194.3 L500.2 194.7 L503 195 L505.7 195.3 L508.4 195.5 L511.1 195.7 L513.8 195.8 L516.5 196 L519.2 196.2 L521.9 196.4 L524.6 196.5 L527.3 196.7 L530 196.8 L532.7 196.8 L535.5 196.9 L538.2 197 L540.9 197 L543.6 197 L546.3 197 L549 197 L551.7 197 L554.4 197 L557.1 197 L559.8 197 L562.5 197.1 L565.2 197.1 L567.9 197.1 L570.6 197.1 L573.3 197.1 L576 197.1 L578.7 197.1 L581.4 197.1 L584.1 197.1 L586.8 197.1 L589.5 197.2 L592.2 197.2 L594.9 197.2 L597.6 197.2 L600.3 197.2 L603 197.3 L605.7 197.3 L608.4 197.3 L611.1 197.3 L613.8 197.2 L616.6 197.2 L619.3 197.2 L622 197.1 L624.7 197.1 L627.4 197.1 L630.1 197 L632.8 196.9 L635.5 196.8 L638.2 196.7 L640.9 196.7 L643.6 196.7 L646.3 196.7 L649 196.7 L651.7 196.7 L654.4 196.7 L657.1 196.7 L659.8 196.7" stroke="#1a5b9d" stroke-opacity="0.3" stroke-width="1.6"/>
<path d="M230 196.8 L232.7 196.8 L235.4 196.7 L238.1 196.6 L240.8 196.4 L243.5 196.2 L246.2 195.9 L248.9 195.7 L251.6 195.4 L254.2 194.9 L256.9 194.4 L259.6 193.8 L262.3 193.1 L264.9 192.3 L267.6 191.3 L270.2 190.1 L272.9 188.8 L275.5 187.2 L278.1 185.4 L280.8 183.3 L283.4 181 L285.9 178.6 L288.5 175.8 L291.1 172.9 L293.7 169.8 L296.2 166.6 L298.8 163.2 L301.3 159.8 L303.9 156.4 L306.4 152.9 L309 149.5 L311.5 146.2 L314.1 143.2 L316.7 140.4 L319.2 137.7 L321.8 135.6 L324.5 134.1 L327.1 132.9 L329.8 132 L332.5 131.3 L335.1 131 L337.8 130.7 L340.5 130.5 L343.2 130.6 L346 131.1 L348.7 131.8 L351.4 132.8 L354.2 134.5 L357 136.5 L359.8 138.6 L362.6 140.7 L365.4 143 L368.2 145.4 L371 147.7 L373.8 150.2 L376.6 152.6 L379.5 155.1 L382.3 157.5 L385.1 160 L387.9 162.3 L390.7 164.7 L393.5 166.9 L396.3 169 L399.1 170.8 L401.9 172.4 L404.6 173.9 L407.4 175.2 L410.2 176.4 L412.9 177.5 L415.7 178.4 L418.4 179.2 L421.1 179.9 L423.9 180.5 L426.6 181 L429.3 181.4 L432 181.8 L434.8 182.1 L437.5 182.4 L440.2 182.7 L442.9 182.9 L445.6 183.1 L448.3 183.3 L451 183.6 L453.8 184.1 L456.5 184.7 L459.2 185.3 L462 185.8 L464.7 186.4 L467.4 186.9 L470.2 187.5 L472.9 188.1 L475.6 188.7 L478.3 189.4 L481.1 190.1 L483.8 190.8 L486.6 191.6 L489.3 192.3 L492 192.9 L494.8 193.5 L497.5 193.9 L500.2 194.3 L502.9 194.7 L505.6 195 L508.3 195.2 L511.1 195.4 L513.8 195.6 L516.5 195.8 L519.2 196 L521.9 196.2 L524.6 196.4 L527.3 196.5 L530 196.7 L532.7 196.8 L535.5 196.8 L538.2 196.9 L540.9 197 L543.6 197 L546.3 197 L549 197 L551.7 197 L554.4 197 L557.1 197 L559.8 197 L562.5 197.1 L565.2 197.1 L567.9 197.1 L570.6 197.1 L573.3 197.1 L576 197.1 L578.7 197.1 L581.4 197.1 L584.1 197.1 L586.8 197.2 L589.5 197.2 L592.2 197.2 L594.9 197.2 L597.6 197.3 L600.3 197.3 L603 197.3 L605.7 197.3 L608.5 197.3 L611.2 197.3 L613.9 197.3 L616.6 197.2 L619.3 197.2 L622 197.2 L624.7 197.1 L627.4 197.1 L630.1 197 L632.8 196.9 L635.5 196.8 L638.2 196.7 L640.9 196.7 L643.6 196.7 L646.3 196.7 L649 196.7 L651.7 196.7 L654.4 196.7 L657.1 196.7 L659.8 196.7" stroke="#1a5b9d" stroke-opacity="0.3" stroke-width="1.6"/>
<path d="M230 196.8 L232.7 196.8 L235.4 196.7 L238.1 196.6 L240.8 196.4 L243.5 196.2 L246.2 196 L248.9 195.8 L251.6 195.5 L254.3 195.1 L257 194.6 L259.7 194 L262.4 193.4 L265.2 192.6 L267.9 191.7 L270.6 190.5 L273.3 189.3 L276 187.8 L278.7 186 L281.4 184 L284.1 181.8 L286.8 179.4 L289.5 176.8 L292.3 173.9 L295 171 L297.7 167.9 L300.4 164.6 L303.1 161.3 L305.8 158 L308.5 154.6 L311.3 151.2 L314 148 L316.7 145.1 L319.4 142.2 L322.1 139.6 L324.8 137.4 L327.5 135.9 L330.2 134.6 L332.9 133.6 L335.6 132.8 L338.3 132.3 L341.1 131.9 L343.8 131.6 L346.5 131.5 L349.2 131.9 L351.9 132.4 L354.6 133.2 L357.3 134.7 L360 136.6 L362.7 138.5 L365.3 140.6 L368 142.7 L370.7 145 L373.4 147.2 L376.1 149.6 L378.8 152 L381.5 154.3 L384.2 156.7 L386.9 159.1 L389.6 161.4 L392.3 163.8 L395 166.1 L397.7 168.1 L400.4 169.9 L403.1 171.5 L405.8 173 L408.5 174.3 L411.2 175.5 L413.9 176.6 L416.6 177.6 L419.3 178.4 L422 179.1 L424.7 179.7 L427.4 180.2 L430.1 180.7 L432.8 181.1 L435.5 181.4 L438.2 181.8 L440.9 182.1 L443.6 182.3 L446.3 182.5 L449 182.8 L451.7 183.1 L454.4 183.6 L457.1 184.3 L459.8 184.9 L462.5 185.5 L465.2 186.1 L467.9 186.7 L470.6 187.3 L473.3 187.9 L476 188.6 L478.7 189.3 L481.4 190 L484.1 190.8 L486.8 191.6 L489.5 192.4 L492.2 193 L494.9 193.6 L497.6 194.1 L500.3 194.5 L503 194.8 L505.7 195.1 L508.4 195.4 L511.1 195.6 L513.8 195.8 L516.5 196 L519.2 196.3 L521.9 196.5 L524.6 196.7 L527.3 196.8 L530 196.9 L532.7 197 L535.4 197.1 L538.2 197.2 L540.9 197.2 L543.6 197.3 L546.3 197.3 L549 197.3 L551.7 197.3 L554.4 197.3 L557.1 197.3 L559.8 197.3 L562.5 197.1 L565.2 197.1 L567.9 197.1 L570.6 197.1 L573.3 197.1 L576 197.1 L578.7 197.1 L581.4 197.1 L584.1 197.1 L586.8 197.1 L589.5 197.2 L592.2 197.2 L594.9 197.2 L597.6 197.3 L600.3 197.3 L603 197.3 L605.7 197.3 L608.4 197.3 L611.1 197.3 L613.8 197.3 L616.5 197.2 L619.2 197.2 L621.9 197.2 L624.7 197.1 L627.4 197.1 L630.1 197 L632.8 196.9 L635.5 196.8 L638.2 196.7 L640.9 196.7 L643.6 196.7 L646.3 196.7 L649 196.7 L651.7 196.7 L654.4 196.7 L657.1 196.7 L659.8 196.7" stroke="#1a5b9d" stroke-opacity="0.3" stroke-width="1.6"/>
<path d="M230 196.9 L232.7 196.9 L235.4 196.8 L238.1 196.6 L240.8 196.5 L243.5 196.2 L246.2 196 L248.9 195.8 L251.6 195.4 L254.3 195 L257 194.5 L259.7 193.9 L262.4 193.2 L265.1 192.4 L267.8 191.4 L270.5 190.2 L273.2 188.8 L275.9 187.2 L278.6 185.3 L281.3 183.2 L284 180.9 L286.7 178.4 L289.4 175.6 L292.1 172.6 L294.8 169.5 L297.5 166.2 L300.2 162.8 L302.9 159.2 L305.6 155.8 L308.3 152.2 L311 148.7 L313.7 145.3 L316.4 142.3 L319.1 139.3 L321.8 136.5 L324.5 134.3 L327.2 132.8 L329.9 131.5 L332.6 130.5 L335.3 129.8 L338 129.3 L340.7 129 L343.4 128.8 L346.1 128.9 L348.8 129.3 L351.5 130 L354.2 130.9 L356.9 132.6 L359.6 134.7 L362.4 136.8 L365.1 139 L367.8 141.3 L370.5 143.7 L373.2 146.2 L375.9 148.7 L378.6 151.2 L381.3 153.7 L384 156.2 L386.7 158.7 L389.4 161.2 L392.1 163.6 L394.8 166 L397.5 168.1 L400.2 169.9 L403 171.6 L405.7 173.1 L408.4 174.5 L411.1 175.7 L413.8 176.8 L416.5 177.8 L419.2 178.7 L421.9 179.4 L424.6 180 L427.3 180.5 L430 181 L432.7 181.4 L435.4 181.7 L438.1 182.1 L440.8 182.3 L443.5 182.6 L446.2 182.8 L448.9 183 L451.6 183.4 L454.3 183.9 L457 184.5 L459.7 185.1 L462.4 185.7 L465.2 186.2 L467.9 186.8 L470.6 187.4 L473.3 188 L476 188.7 L478.7 189.4 L481.4 190.1 L484.1 190.8 L486.8 191.6 L489.5 192.3 L492.2 193 L494.9 193.5 L497.6 194 L500.3 194.4 L503 194.7 L505.7 195 L508.4 195.3 L511.1 195.5 L513.8 195.7 L516.5 195.9 L519.2 196.1 L521.9 196.3 L524.6 196.5 L527.3 196.6 L530 196.7 L532.7 196.8 L535.4 196.9 L538.2 197 L540.9 197 L543.6 197.1 L546.3 197.1 L549 197.1 L551.7 197.1 L554.4 197.1 L557.1 197.1 L559.8 197.1 L562.5 197.1 L565.2 197.1 L567.9 197.1 L570.6 197.1 L573.3 197.1 L576 197.1 L578.7 197.1 L581.4 197.1 L584.1 197.1 L586.8 197.2 L589.5 197.2 L592.2 197.2 L594.9 197.2 L597.6 197.3 L600.3 197.3 L603 197.3 L605.7 197.3 L608.4 197.3 L611.1 197.3 L613.8 197.3 L616.5 197.3 L619.2 197.2 L621.9 197.2 L624.7 197.1 L627.4 197.1 L630.1 197 L632.8 196.9 L635.5 196.8 L638.2 196.7 L640.9 196.7 L643.6 196.7 L646.3 196.7 L649 196.7 L651.7 196.7 L654.4 196.7 L657.1 196.7 L659.8 196.7" stroke="#1a5b9d" stroke-opacity="0.3" stroke-width="1.6"/>
<path d="M230 196.9 L232.7 196.9 L235.4 196.8 L238.1 196.7 L240.8 196.5 L243.5 196.3 L246.2 196.1 L249 195.9 L251.7 195.6 L254.4 195.2 L257.1 194.7 L259.8 194.1 L262.5 193.5 L265.3 192.7 L268 191.8 L270.7 190.7 L273.5 189.4 L276.2 188 L279 186.2 L281.7 184.3 L284.5 182.2 L287.3 179.8 L290.1 177.2 L292.8 174.5 L295.6 171.6 L298.4 168.6 L301.2 165.4 L304 162.1 L306.8 158.9 L309.6 155.6 L312.4 152.3 L315.2 149.2 L318 146.4 L320.8 143.7 L323.6 141.1 L326.3 139.1 L329.1 137.6 L331.8 136.5 L334.6 135.5 L337.3 134.9 L340 134.5 L342.7 134.2 L345.4 134 L348.1 134.1 L350.8 134.5 L353.5 135.1 L356.2 136 L358.8 137.6 L361.5 139.5 L364.1 141.5 L366.8 143.5 L369.4 145.7 L372 147.9 L374.7 150.1 L377.3 152.5 L379.9 154.8 L382.6 157.1 L385.2 159.5 L387.8 161.8 L390.5 164 L393.1 166.3 L395.8 168.5 L398.4 170.4 L401 172.2 L403.7 173.7 L406.4 175.1 L409 176.4 L411.7 177.5 L414.4 178.5 L417 179.5 L419.7 180.2 L422.4 180.9 L425.1 181.5 L427.8 181.9 L430.5 182.4 L433.2 182.7 L435.9 183.1 L438.6 183.4 L441.2 183.6 L443.9 183.8 L446.6 184 L449.3 184.2 L452 184.5 L454.7 185 L457.4 185.6 L460.1 186.2 L462.8 186.7 L465.5 187.2 L468.2 187.7 L470.8 188.2 L473.5 188.8 L476.2 189.4 L478.9 190 L481.6 190.7 L484.3 191.3 L486.9 192.1 L489.6 192.7 L492.3 193.3 L495 193.8 L497.7 194.3 L500.4 194.6 L503.1 194.9 L505.8 195.2 L508.5 195.4 L511.2 195.6 L513.9 195.8 L516.6 196 L519.3 196.2 L521.9 196.4 L524.6 196.5 L527.3 196.6 L530 196.7 L532.7 196.8 L535.4 196.9 L538.1 197 L540.9 197 L543.6 197 L546.3 197 L549 197 L551.7 197 L554.4 197 L557.1 197 L559.8 197 L562.5 197.1 L565.2 197.1 L567.9 197.1 L570.6 197.1 L573.3 197.1 L576 197.1 L578.7 197.1 L581.4 197.1 L584.1 197.1 L586.8 197.1 L589.5 197.2 L592.2 197.2 L594.9 197.2 L597.6 197.2 L600.3 197.3 L603 197.3 L605.7 197.3 L608.4 197.3 L611.1 197.3 L613.8 197.3 L616.5 197.2 L619.2 197.2 L621.9 197.2 L624.6 197.1 L627.3 197.1 L630.1 197 L632.8 196.9 L635.5 196.8 L638.2 196.7 L640.9 196.7 L643.6 196.7 L646.3 196.7 L649 196.7 L651.7 196.7 L654.4 196.7 L657.1 196.7 L659.8 196.7" stroke="#1a5b9d" stroke-opacity="0.3" stroke-width="1.6"/>
<path d="M230 196.9 L232.7 196.8 L235.4 196.8 L238.1 196.6 L240.8 196.5 L243.5 196.3 L246.2 196.1 L248.9 195.8 L251.6 195.5 L254.3 195.1 L257 194.6 L259.7 194 L262.4 193.4 L265.1 192.6 L267.8 191.6 L270.5 190.5 L273.2 189.2 L276 187.7 L278.7 185.9 L281.4 183.9 L284.1 181.8 L286.8 179.4 L289.5 176.7 L292.2 173.9 L294.9 170.9 L297.6 167.8 L300.3 164.5 L303 161.2 L305.7 157.9 L308.4 154.6 L311.1 151.2 L313.8 148 L316.5 145.1 L319.2 142.3 L321.9 139.7 L324.6 137.6 L327.3 136.1 L330 134.9 L332.7 134 L335.4 133.3 L338.1 132.8 L340.8 132.5 L343.5 132.3 L346.2 132.4 L348.9 132.8 L351.6 133.4 L354.3 134.3 L357 135.9 L359.7 137.9 L362.5 139.8 L365.2 141.9 L367.9 144.1 L370.6 146.4 L373.3 148.6 L376 151 L378.7 153.4 L381.4 155.8 L384.1 158.2 L386.8 160.6 L389.5 162.8 L392.2 165.2 L394.9 167.4 L397.6 169.4 L400.3 171.2 L403 172.8 L405.7 174.2 L408.4 175.5 L411.1 176.7 L413.8 177.7 L416.5 178.7 L419.2 179.5 L421.9 180.2 L424.6 180.7 L427.3 181.2 L430 181.7 L432.7 182.1 L435.4 182.4 L438.1 182.7 L440.8 183 L443.5 183.2 L446.2 183.4 L449 183.6 L451.7 183.9 L454.4 184.4 L457.1 185 L459.8 185.6 L462.5 186.2 L465.2 186.7 L467.9 187.2 L470.6 187.8 L473.3 188.4 L476 189 L478.7 189.7 L481.4 190.3 L484.1 191.1 L486.8 191.8 L489.5 192.5 L492.2 193.1 L494.9 193.7 L497.6 194.1 L500.3 194.5 L503 194.8 L505.7 195.1 L508.4 195.3 L511.1 195.5 L513.8 195.7 L516.5 195.9 L519.2 196.2 L521.9 196.4 L524.6 196.5 L527.3 196.7 L530 196.8 L532.7 196.9 L535.4 196.9 L538.2 197 L540.9 197.1 L543.6 197.1 L546.3 197.1 L549 197.1 L551.7 197.1 L554.4 197.1 L557.1 197.1 L559.8 197.1 L562.5 197.1 L565.2 197.1 L567.9 197.1 L570.6 197.1 L573.3 197.1 L576 197.1 L578.7 197.1 L581.4 197.1 L584.1 197.1 L586.8 197.1 L589.5 197.2 L592.2 197.2 L594.9 197.2 L597.6 197.2 L600.3 197.3 L603 197.3 L605.7 197.3 L608.4 197.3 L611.1 197.3 L613.8 197.3 L616.5 197.2 L619.2 197.2 L621.9 197.2 L624.7 197.1 L627.4 197.1 L630.1 197 L632.8 196.9 L635.5 196.8 L638.2 196.7 L640.9 196.7 L643.6 196.7 L646.3 196.7 L649 196.7 L651.7 196.7 L654.4 196.7 L657.1 196.7 L659.8 196.7" stroke="#1a5b9d" stroke-opacity="0.8" stroke-width="4.6"/>
<path d="M230 196.9 L232 196.9 L233.9 196.9 L235.9 196.9 L237.9 196.8 L239.8 196.8 L241.8 196.8 L243.7 196.8 L245.7 196.8 L247.7 196.7 L249.6 196.7 L251.6 196.7 L253.6 196.7 L255.5 196.6 L257.5 196.5 L259.4 196.5 L261.4 196.4 L263.4 196.3 L265.3 196.1 L267.3 196 L269.3 195.9 L271.2 195.7 L273.2 195.4 L275.1 195.1 L277.1 194.8 L279.1 194.4 L281 193.9 L283 193.3 L285 192.6 L286.9 191.7 L288.9 190.8 L290.8 189.6 L292.8 188.2 L294.8 186.6 L296.7 184.7 L298.7 182.6 L300.7 180.1 L302.6 177.2 L304.6 174.1 L306.5 170.5 L308.5 166.2 L310.5 161.5 L312.4 156.8 L314.4 152 L316.4 147.1 L318.3 142 L320.3 137.1 L322.2 132.4 L324.2 127.7 L326.2 123.1 L328.1 119 L330.1 115.9 L332.1 113.4 L334 111.1 L336 109.2 L337.9 108 L339.9 107.7 L341.9 108.2 L343.8 109.1 L345.8 110.3 L347.8 111.7 L349.7 113.8 L351.7 116.4 L353.6 119.3 L355.6 122.1 L357.6 125.2 L359.5 128.5 L361.5 131.8 L363.5 135 L365.4 138 L367.4 141.1 L369.3 144 L371.3 146.8 L373.3 149.4 L375.2 151.9 L377.2 154.3 L379.2 156.7 L381.1 159 L383.1 161.3 L385 163.5 L387 165.7 L389 167.8 L390.9 169.8 L392.9 171.9 L394.9 173.8 L396.8 175.5 L398.8 177.2 L400.7 178.7 L402.7 180.1 L404.7 181.5 L406.6 182.7 L408.6 184 L410.6 185.2 L412.5 186 L414.5 186.5 L416.4 186.9 L418.4 187.3 L420.4 187.5 L422.3 187.5 L424.3 187.4 L426.3 187.2 L428.2 187 L430.2 186.9 L432.1 186.7 L434.1 186.5 L436.1 186.3 L438 186.3 L440 186.3 L442 186.6 L443.9 186.9 L445.9 187.3 L447.8 187.8 L449.8 188.1 L451.8 188.3 L453.7 188.5 L455.7 188.7 L457.7 188.7 L459.6 188.7 L461.6 188.6 L463.5 188.3 L465.5 188 L467.5 187.8 L469.4 187.6 L471.4 187.5 L473.4 187.5 L475.3 187.6 L477.3 187.7 L479.2 187.9 L481.2 188.2 L483.2 188.7 L485.1 189.4 L487.1 190.1 L489.1 190.8 L491 191.3 L493 191.8 L494.9 192.3 L496.9 192.8 L498.9 193 L500.8 193.1 L502.8 193.1 L504.8 193 L506.7 192.9 L508.7 192.8 L510.6 192.7 L512.6 192.7 L514.6 192.8 L516.5 192.9 L518.5 193.1 L520.5 193.4 L522.4 193.6 L524.4 193.9 L526.3 194.2 L528.3 194.6 L530.3 195 L532.2 195.4 L534.2 195.7 L536.2 195.9 L538.1 196 L540.1 196.1 L542 196.2 L544 196.2 L546 196.3 L547.9 196.4 L549.9 196.4 L551.9 196.5 L553.8 196.6 L555.8 196.6 L557.7 196.7 L559.7 196.7 L561.7 196.8 L563.6 196.9 L565.6 196.9 L567.6 197 L569.5 197 L571.5 197 L573.4 197.1 L575.4 197.1 L577.4 197.1 L579.3 197.1 L581.3 197.1 L583.3 197.2 L585.2 197.2 L587.2 197.2 L589.1 197.2 L591.1 197.2 L593.1 197.2 L595 197.3 L597 197.3 L599 197.3 L600.9 197.3 L602.9 197.3 L604.8 197.3 L606.8 197.3 L608.8 197.3 L610.7 197.3 L612.7 197.3 L614.7 197.3 L616.6 197.2 L618.6 197.2 L620.5 197.2 L622.5 197.2 L624.5 197.1 L626.4 197.1 L628.4 197.1 L630.4 197 L632.3 196.8 L634.3 196.7 L636.2 196.6 L638.2 196.5 L640.2 196.5 L642.1 196.5 L644.1 196.5 L646.1 196.5 L648 196.5 L650 196.5 L651.9 196.5 L653.9 196.5 L655.9 196.6 L657.8 196.6 L659.8 196.7" stroke="#32a373" stroke-width="4.55"/>
</g>
<text x="196.2" y="206.4" font-size="26.67" fill="#6f6f6f" text-anchor="end">0.00000</text>
<text x="196.2" y="181.1" font-size="26.67" fill="#6f6f6f" text-anchor="end">0.00005</text>
<text x="196.2" y="155.8" font-size="26.67" fill="#6f6f6f" text-anchor="end">0.00010</text>
<text x="196.2" y="130.5" font-size="26.67" fill="#6f6f6f" text-anchor="end">0.00015</text>
<text x="216.7" y="232.5" font-size="26.67" fill="#6f6f6f" text-anchor="middle">0</text>
<text x="352.9" y="232.5" font-size="26.67" fill="#6f6f6f" text-anchor="middle">10000</text>
<text x="489" y="232.5" font-size="26.67" fill="#6f6f6f" text-anchor="middle">20000</text>
<text x="625.2" y="232.5" font-size="26.67" fill="#6f6f6f" text-anchor="middle">30000</text>
<text x="444.5" y="273" font-size="29.33" fill="#3c3c3c" text-anchor="middle">Price</text>
<text transform="translate(63.8 153.5) rotate(-90)" font-size="29.33" fill="#3c3c3c" text-anchor="middle">Density</text>
<text x="27.5" y="51.2" font-size="32" fill="#000" text-anchor="start">Posterior Predictive Check</text>
<text x="27.5" y="84.6" font-size="26.67" fill="#000" text-anchor="start" clip-path="url(#colL)">Model-predicted lines should resemble observed data line</text>
<path d="M185.3 314.8H222.2" stroke="#32a373" stroke-width="2.6"/>
<text x="232" y="325" font-size="26.67" fill="#3c3c3c" text-anchor="start">Observed data</text>
<path d="M417.1 314.8H454" stroke="#1a5b9d" stroke-width="2.6"/>
<text x="463.5" y="325" font-size="26.67" fill="#3c3c3c" text-anchor="start" clip-path="url(#colL)">Model-predicted data</text>
<clipPath id="c2"><rect x="843.3" y="103.6" width="472.9000000000001" height="97.80000000000001"/></clipPath>
<path d="M874.6 103.6V201.4M971.9 103.6V201.4M1069.2 103.6V201.4M1166.5 103.6V201.4M1263.9 103.6V201.4M843.3 115H1316.2M843.3 128.4H1316.2M843.3 141.7H1316.2M843.3 155H1316.2M843.3 168.3H1316.2M843.3 181.7H1316.2M843.3 195H1316.2" stroke="#e2e2e2" stroke-width="2.3" fill="none"/>
<path d="M843.3 103.6V202.70000000000002M842.0 201.4H1316.2" stroke="#c0c0c0" stroke-width="2.6" fill="none"/>
<g clip-path="url(#c2)" fill="#1a5b9d" fill-opacity="0.8"><circle cx="1069" cy="134.4" r="5.5"/><circle cx="1068.2" cy="133.8" r="5.5"/><circle cx="1117.7" cy="131.4" r="5.5"/><circle cx="947.1" cy="135.5" r="5.5"/><circle cx="1077.4" cy="140.7" r="5.5"/><circle cx="992.4" cy="130.9" r="5.5"/><circle cx="1001.6" cy="141.3" r="5.5"/><circle cx="1093.7" cy="127.4" r="5.5"/><circle cx="985.1" cy="140.9" r="5.5"/><circle cx="935.8" cy="138.6" r="5.5"/><circle cx="955.6" cy="139.1" r="5.5"/><circle cx="1057.5" cy="141.4" r="5.5"/><circle cx="971.8" cy="125.5" r="5.5"/><circle cx="970.5" cy="143.2" r="5.5"/><circle cx="906.9" cy="143" r="5.5"/><circle cx="1070" cy="123.2" r="5.5"/><circle cx="900.2" cy="135" r="5.5"/><circle cx="1101.2" cy="145.8" r="5.5"/><circle cx="1050.7" cy="138.7" r="5.5"/><circle cx="941.5" cy="134.6" r="5.5"/><circle cx="961.5" cy="151.1" r="5.5"/><circle cx="1055.4" cy="142.8" r="5.5"/><circle cx="1002.1" cy="147.7" r="5.5"/><circle cx="1031.1" cy="147.3" r="5.5"/><circle cx="946.5" cy="137.9" r="5.5"/><circle cx="1110.2" cy="132.9" r="5.5"/><circle cx="1028.6" cy="147.9" r="5.5"/><circle cx="937.9" cy="137.5" r="5.5"/><circle cx="1099.1" cy="128.4" r="5.5"/><circle cx="1000.6" cy="141.2" r="5.5"/><circle cx="979" cy="154.5" r="5.5"/><circle cx="927" cy="142.8" r="5.5"/><circle cx="960.9" cy="139.7" r="5.5"/><circle cx="982.3" cy="144.2" r="5.5"/><circle cx="1047.6" cy="151" r="5.5"/><circle cx="1126.1" cy="131.1" r="5.5"/><circle cx="1016.2" cy="150.7" r="5.5"/><circle cx="949.2" cy="138.3" r="5.5"/><circle cx="937.7" cy="137.9" r="5.5"/><circle cx="940.8" cy="133.3" r="5.5"/><circle cx="951.6" cy="142.7" r="5.5"/><circle cx="1144.3" cy="143.2" r="5.5"/><circle cx="960.9" cy="152.2" r="5.5"/><circle cx="938.8" cy="132.4" r="5.5"/><circle cx="977" cy="154.3" r="5.5"/><circle cx="1031.3" cy="145.6" r="5.5"/><circle cx="940.7" cy="136.9" r="5.5"/><circle cx="947.3" cy="147.5" r="5.5"/><circle cx="1052.5" cy="135.8" r="5.5"/><circle cx="1046.9" cy="143.4" r="5.5"/><circle cx="1145.6" cy="139" r="5.5"/><circle cx="915.8" cy="142.4" r="5.5"/><circle cx="1108.4" cy="139.7" r="5.5"/><circle cx="1128.1" cy="136.1" r="5.5"/><circle cx="893.5" cy="137.3" r="5.5"/><circle cx="1018.6" cy="152.2" r="5.5"/><circle cx="992.3" cy="130.9" r="5.5"/><circle cx="954.9" cy="140.7" r="5.5"/><circle cx="1054.1" cy="138.3" r="5.5"/><circle cx="952" cy="135" r="5.5"/><circle cx="987.4" cy="138.9" r="5.5"/><circle cx="1027.1" cy="148.6" r="5.5"/><circle cx="975.1" cy="147.1" r="5.5"/><circle cx="939.6" cy="135.5" r="5.5"/><circle cx="966.9" cy="143.2" r="5.5"/><circle cx="922" cy="135.7" r="5.5"/><circle cx="964" cy="144.5" r="5.5"/><circle cx="885.4" cy="145.1" r="5.5"/><circle cx="1022.9" cy="107.9" r="5.5"/><circle cx="983.9" cy="156.3" r="5.5"/><circle cx="928.4" cy="136.2" r="5.5"/><circle cx="950.9" cy="142.5" r="5.5"/><circle cx="1057.9" cy="136.5" r="5.5"/><circle cx="956.7" cy="139.3" r="5.5"/><circle cx="882.2" cy="131.6" r="5.5"/><circle cx="971.4" cy="148" r="5.5"/><circle cx="1042.9" cy="144.5" r="5.5"/><circle cx="1018.3" cy="150.9" r="5.5"/><circle cx="970.1" cy="146.8" r="5.5"/><circle cx="1140.4" cy="127.7" r="5.5"/><circle cx="927.7" cy="133.1" r="5.5"/><circle cx="947.1" cy="147" r="5.5"/><circle cx="950.9" cy="145.2" r="5.5"/><circle cx="1088.8" cy="146.3" r="5.5"/><circle cx="884.2" cy="138" r="5.5"/><circle cx="988" cy="145.4" r="5.5"/><circle cx="1082.8" cy="141" r="5.5"/><circle cx="901.8" cy="137.6" r="5.5"/><circle cx="1139.5" cy="137.1" r="5.5"/><circle cx="979.7" cy="154.5" r="5.5"/><circle cx="1047" cy="139.1" r="5.5"/><circle cx="1120.5" cy="142.7" r="5.5"/><circle cx="1093.7" cy="137.5" r="5.5"/><circle cx="927.8" cy="142.2" r="5.5"/><circle cx="1046" cy="136.8" r="5.5"/><circle cx="916.3" cy="140.2" r="5.5"/><circle cx="890.8" cy="142.2" r="5.5"/><circle cx="1069" cy="148.8" r="5.5"/><circle cx="1003.5" cy="156.2" r="5.5"/><circle cx="886.6" cy="136.5" r="5.5"/><circle cx="928.1" cy="143.1" r="5.5"/><circle cx="984.2" cy="146.9" r="5.5"/><circle cx="976.5" cy="142.5" r="5.5"/><circle cx="1153.4" cy="150.4" r="5.5"/><circle cx="1145.2" cy="137.9" r="5.5"/><circle cx="963.5" cy="147.9" r="5.5"/><circle cx="974.6" cy="140.5" r="5.5"/><circle cx="957.1" cy="135" r="5.5"/><circle cx="955.7" cy="144.5" r="5.5"/><circle cx="962.5" cy="144.4" r="5.5"/><circle cx="1136.8" cy="133.5" r="5.5"/><circle cx="1001.4" cy="148.5" r="5.5"/><circle cx="1099" cy="109.5" r="5.5"/><circle cx="1025.1" cy="146.5" r="5.5"/><circle cx="997.5" cy="133.3" r="5.5"/><circle cx="902" cy="134.9" r="5.5"/><circle cx="925.8" cy="136.8" r="5.5"/><circle cx="922.4" cy="142.4" r="5.5"/><circle cx="907.6" cy="141.8" r="5.5"/><circle cx="932.1" cy="134.7" r="5.5"/><circle cx="1053.6" cy="152.1" r="5.5"/><circle cx="963.2" cy="146.6" r="5.5"/><circle cx="987.5" cy="148.8" r="5.5"/><circle cx="1152.8" cy="129.6" r="5.5"/><circle cx="1025.3" cy="155.4" r="5.5"/><circle cx="883.9" cy="129.8" r="5.5"/><circle cx="926.5" cy="140" r="5.5"/><circle cx="893.1" cy="130.9" r="5.5"/><circle cx="967.7" cy="145.9" r="5.5"/><circle cx="1053" cy="141.1" r="5.5"/><circle cx="917.2" cy="131.2" r="5.5"/><circle cx="1072.6" cy="146" r="5.5"/><circle cx="1073" cy="142.5" r="5.5"/><circle cx="1027.1" cy="152.1" r="5.5"/><circle cx="1048.5" cy="145.2" r="5.5"/><circle cx="927.2" cy="138" r="5.5"/><circle cx="908.6" cy="136.3" r="5.5"/><circle cx="953.6" cy="152" r="5.5"/><circle cx="963.1" cy="141.4" r="5.5"/><circle cx="927.2" cy="132.9" r="5.5"/><circle cx="937.5" cy="145.5" r="5.5"/><circle cx="951.9" cy="137.4" r="5.5"/><circle cx="975.3" cy="138.1" r="5.5"/><circle cx="969.3" cy="136.5" r="5.5"/><circle cx="884.6" cy="137" r="5.5"/><circle cx="1090.6" cy="134.6" r="5.5"/><circle cx="1018.6" cy="145.8" r="5.5"/><circle cx="1079.8" cy="144.7" r="5.5"/><circle cx="1089.1" cy="149" r="5.5"/><circle cx="954.3" cy="133.3" r="5.5"/><circle cx="1081" cy="140.6" r="5.5"/><circle cx="1113.4" cy="128.9" r="5.5"/><circle cx="1042.8" cy="142.7" r="5.5"/><circle cx="1131.9" cy="140.3" r="5.5"/><circle cx="956.5" cy="147.8" r="5.5"/><circle cx="1034.9" cy="150" r="5.5"/><circle cx="1049.1" cy="156.3" r="5.5"/><circle cx="1111.9" cy="139.1" r="5.5"/><circle cx="949.4" cy="140.2" r="5.5"/><circle cx="925.1" cy="136.6" r="5.5"/><circle cx="945.3" cy="141.3" r="5.5"/><circle cx="978.7" cy="146.7" r="5.5"/><circle cx="949.6" cy="143.9" r="5.5"/><circle cx="903.7" cy="136.2" r="5.5"/><circle cx="962.2" cy="144.5" r="5.5"/><circle cx="1022" cy="146.1" r="5.5"/><circle cx="903.9" cy="143.1" r="5.5"/><circle cx="911.8" cy="144.4" r="5.5"/><circle cx="882.1" cy="135.5" r="5.5"/><circle cx="914.8" cy="144" r="5.5"/><circle cx="1105.1" cy="141" r="5.5"/><circle cx="967.4" cy="142.9" r="5.5"/><circle cx="1014.8" cy="143.9" r="5.5"/><circle cx="936.4" cy="138" r="5.5"/><circle cx="966.5" cy="130.6" r="5.5"/><circle cx="923.1" cy="139" r="5.5"/><circle cx="973.6" cy="146.1" r="5.5"/><circle cx="1107" cy="149.8" r="5.5"/><circle cx="974" cy="142.7" r="5.5"/><circle cx="1070.1" cy="141.5" r="5.5"/><circle cx="992.5" cy="139.9" r="5.5"/><circle cx="964.8" cy="142.4" r="5.5"/><circle cx="931.4" cy="133.6" r="5.5"/><circle cx="996.6" cy="143.5" r="5.5"/><circle cx="998" cy="147.2" r="5.5"/><circle cx="1107.4" cy="140.3" r="5.5"/><circle cx="940" cy="135.8" r="5.5"/><circle cx="914.4" cy="141.8" r="5.5"/><circle cx="914.8" cy="138.2" r="5.5"/><circle cx="1087" cy="147.8" r="5.5"/><circle cx="974.1" cy="137.1" r="5.5"/><circle cx="916.9" cy="138.1" r="5.5"/><circle cx="924.1" cy="152.8" r="5.5"/><circle cx="967.5" cy="147.7" r="5.5"/><circle cx="1030.4" cy="139.5" r="5.5"/><circle cx="1022.5" cy="146.5" r="5.5"/><circle cx="920.5" cy="138.4" r="5.5"/><circle cx="940.2" cy="134" r="5.5"/><circle cx="893.5" cy="140.2" r="5.5"/><circle cx="1048.2" cy="141.1" r="5.5"/><circle cx="975.7" cy="144.4" r="5.5"/><circle cx="912.1" cy="142.4" r="5.5"/><circle cx="1002" cy="142.9" r="5.5"/><circle cx="940.8" cy="132.3" r="5.5"/><circle cx="1172" cy="156" r="5.5"/><circle cx="990.5" cy="148.7" r="5.5"/><circle cx="1030.9" cy="158.3" r="5.5"/><circle cx="937.9" cy="146.5" r="5.5"/><circle cx="1131" cy="134.7" r="5.5"/><circle cx="941" cy="148.4" r="5.5"/><circle cx="932.7" cy="137" r="5.5"/><circle cx="1026.8" cy="152.2" r="5.5"/><circle cx="962.3" cy="148.7" r="5.5"/><circle cx="949.8" cy="142.5" r="5.5"/><circle cx="979.1" cy="146.6" r="5.5"/><circle cx="959.5" cy="138.3" r="5.5"/><circle cx="1003.9" cy="144.6" r="5.5"/><circle cx="989" cy="138.1" r="5.5"/><circle cx="920.3" cy="143.3" r="5.5"/><circle cx="881.7" cy="134.5" r="5.5"/><circle cx="1108.8" cy="135.5" r="5.5"/><circle cx="955.2" cy="142.7" r="5.5"/><circle cx="1004.4" cy="151.9" r="5.5"/><circle cx="915" cy="138.7" r="5.5"/><circle cx="1108" cy="131.5" r="5.5"/><circle cx="903.4" cy="144.9" r="5.5"/><circle cx="999.1" cy="150.8" r="5.5"/><circle cx="1050.3" cy="137.3" r="5.5"/><circle cx="927.3" cy="147" r="5.5"/><circle cx="1122.3" cy="123.6" r="5.5"/><circle cx="1018.5" cy="150.3" r="5.5"/><circle cx="931.8" cy="145.9" r="5.5"/><circle cx="1078.9" cy="141.4" r="5.5"/><circle cx="1087.1" cy="148.8" r="5.5"/><circle cx="984.1" cy="135.1" r="5.5"/><circle cx="936.8" cy="150.7" r="5.5"/><circle cx="938.2" cy="141.1" r="5.5"/><circle cx="951.2" cy="134.2" r="5.5"/><circle cx="1157" cy="118.5" r="5.5"/><circle cx="1031.8" cy="147.7" r="5.5"/><circle cx="925.5" cy="135.9" r="5.5"/><circle cx="980.2" cy="147.7" r="5.5"/><circle cx="914.3" cy="144.2" r="5.5"/><circle cx="1057.7" cy="151.2" r="5.5"/><circle cx="989.4" cy="159.2" r="5.5"/><circle cx="939.7" cy="134.2" r="5.5"/><circle cx="1127.1" cy="131.5" r="5.5"/><circle cx="909.6" cy="141" r="5.5"/><circle cx="952.6" cy="146.1" r="5.5"/><circle cx="933.9" cy="142.4" r="5.5"/><circle cx="951.3" cy="138.7" r="5.5"/><circle cx="1009.6" cy="144.3" r="5.5"/><circle cx="909.3" cy="149.8" r="5.5"/><circle cx="981.3" cy="144.3" r="5.5"/><circle cx="920.2" cy="132.6" r="5.5"/><circle cx="1090.8" cy="148.5" r="5.5"/><circle cx="989.1" cy="152.6" r="5.5"/><circle cx="1006" cy="149.1" r="5.5"/><circle cx="912" cy="145.8" r="5.5"/><circle cx="870.5" cy="137.5" r="5.5"/><circle cx="1131.7" cy="139" r="5.5"/><circle cx="933.8" cy="146.5" r="5.5"/><circle cx="1008.2" cy="145.2" r="5.5"/><circle cx="1118.2" cy="147.8" r="5.5"/><circle cx="1056.9" cy="148.5" r="5.5"/><circle cx="986" cy="176.5" r="5.5"/><circle cx="929" cy="136.4" r="5.5"/><circle cx="989.6" cy="130.6" r="5.5"/><circle cx="1047.4" cy="139.9" r="5.5"/><circle cx="1125.8" cy="131.2" r="5.5"/><circle cx="891.8" cy="127.2" r="5.5"/><circle cx="961.6" cy="146.1" r="5.5"/><circle cx="1005.9" cy="140.8" r="5.5"/><circle cx="960.4" cy="160.5" r="5.5"/><circle cx="1002.7" cy="150.8" r="5.5"/><circle cx="1109.5" cy="135.6" r="5.5"/><circle cx="924.2" cy="138.9" r="5.5"/><circle cx="916.8" cy="147.1" r="5.5"/><circle cx="1112.7" cy="131.5" r="5.5"/><circle cx="986.4" cy="146.3" r="5.5"/><circle cx="960.5" cy="137.6" r="5.5"/><circle cx="992.9" cy="148.1" r="5.5"/><circle cx="1136.6" cy="130" r="5.5"/><circle cx="909.6" cy="136.9" r="5.5"/><circle cx="973.9" cy="148.1" r="5.5"/><circle cx="938.5" cy="147.3" r="5.5"/><circle cx="946.3" cy="142" r="5.5"/><circle cx="996.4" cy="144.2" r="5.5"/><circle cx="997.2" cy="142" r="5.5"/><circle cx="925.2" cy="143.9" r="5.5"/><circle cx="954.2" cy="150.3" r="5.5"/><circle cx="1143.8" cy="144.5" r="5.5"/><circle cx="1102.2" cy="133.1" r="5.5"/><circle cx="997.7" cy="148.5" r="5.5"/><circle cx="1085.2" cy="129.8" r="5.5"/><circle cx="1018.1" cy="148.6" r="5.5"/><circle cx="960.7" cy="128.5" r="5.5"/><circle cx="1091" cy="143.1" r="5.5"/><circle cx="1155.1" cy="129.2" r="5.5"/><circle cx="950.2" cy="142.1" r="5.5"/><circle cx="947.3" cy="136.2" r="5.5"/><circle cx="935.4" cy="139.8" r="5.5"/><circle cx="993.2" cy="135.4" r="5.5"/><circle cx="1119.5" cy="134.7" r="5.5"/><circle cx="893.5" cy="138.4" r="5.5"/><circle cx="1016" cy="140.4" r="5.5"/><circle cx="1049.9" cy="143" r="5.5"/><circle cx="989" cy="142" r="5.5"/><circle cx="926.8" cy="139.8" r="5.5"/><circle cx="1037.5" cy="147.1" r="5.5"/><circle cx="1124.6" cy="134.2" r="5.5"/><circle cx="1006.4" cy="140.1" r="5.5"/><circle cx="974.8" cy="135.2" r="5.5"/><circle cx="973.2" cy="134.1" r="5.5"/><circle cx="950.9" cy="144.2" r="5.5"/><circle cx="1151" cy="137.5" r="5.5"/><circle cx="1038.1" cy="134.8" r="5.5"/><circle cx="1149.8" cy="132.3" r="5.5"/><circle cx="1148.3" cy="127.1" r="5.5"/><circle cx="986.1" cy="143" r="5.5"/><circle cx="893.7" cy="128.7" r="5.5"/><circle cx="932.3" cy="150.2" r="5.5"/><circle cx="964.6" cy="150.9" r="5.5"/><circle cx="1024.3" cy="140.3" r="5.5"/><circle cx="1011.8" cy="129.6" r="5.5"/><circle cx="1050.8" cy="144.9" r="5.5"/><circle cx="962.6" cy="147.4" r="5.5"/><circle cx="996.5" cy="143.8" r="5.5"/><circle cx="984.8" cy="137.8" r="5.5"/><circle cx="944.7" cy="140.6" r="5.5"/><circle cx="928.8" cy="141.8" r="5.5"/><circle cx="992.6" cy="151.3" r="5.5"/><circle cx="1126.9" cy="128.5" r="5.5"/><circle cx="965.8" cy="134.1" r="5.5"/><circle cx="949.7" cy="141.5" r="5.5"/><circle cx="1098.7" cy="140.9" r="5.5"/><circle cx="1009" cy="142.4" r="5.5"/><circle cx="1012" cy="156" r="5.5"/><circle cx="948.9" cy="143.3" r="5.5"/><circle cx="1012.7" cy="148.5" r="5.5"/><circle cx="1034.7" cy="157.4" r="5.5"/><circle cx="922.6" cy="133.8" r="5.5"/><circle cx="1133" cy="120.5" r="5.5"/><circle cx="1145.2" cy="127.3" r="5.5"/><circle cx="1097.4" cy="126.4" r="5.5"/><circle cx="951.3" cy="146.1" r="5.5"/><circle cx="909.3" cy="141.4" r="5.5"/><circle cx="1044.9" cy="157.1" r="5.5"/><circle cx="891.2" cy="126.5" r="5.5"/><circle cx="929" cy="135.9" r="5.5"/><circle cx="1011.3" cy="141.9" r="5.5"/><circle cx="1051.1" cy="143.6" r="5.5"/><circle cx="979" cy="137.4" r="5.5"/><circle cx="1106.9" cy="141.9" r="5.5"/><circle cx="926.1" cy="142.9" r="5.5"/><circle cx="946.3" cy="149.6" r="5.5"/><circle cx="927.9" cy="140.1" r="5.5"/><circle cx="1048.5" cy="153.8" r="5.5"/><circle cx="922.9" cy="146.3" r="5.5"/><circle cx="946.9" cy="146.8" r="5.5"/><circle cx="1004.9" cy="146.2" r="5.5"/><circle cx="1147" cy="127.1" r="5.5"/><circle cx="1091.6" cy="139.3" r="5.5"/><circle cx="949.7" cy="151.7" r="5.5"/><circle cx="971.6" cy="141" r="5.5"/><circle cx="951.2" cy="132.1" r="5.5"/><circle cx="1127.1" cy="130.8" r="5.5"/><circle cx="970.4" cy="138.3" r="5.5"/><circle cx="893.5" cy="133.8" r="5.5"/><circle cx="929" cy="143.7" r="5.5"/><circle cx="991" cy="143.3" r="5.5"/><circle cx="1104.9" cy="152.1" r="5.5"/><circle cx="1012.1" cy="144.4" r="5.5"/><circle cx="976" cy="146.1" r="5.5"/><circle cx="952.3" cy="148.2" r="5.5"/><circle cx="937.2" cy="134.8" r="5.5"/><circle cx="1124.1" cy="137.9" r="5.5"/><circle cx="1139.8" cy="134.8" r="5.5"/><circle cx="994.4" cy="139.9" r="5.5"/><circle cx="1014.8" cy="140.4" r="5.5"/><circle cx="1147.8" cy="134.8" r="5.5"/><circle cx="993.1" cy="143.6" r="5.5"/><circle cx="952.4" cy="132.7" r="5.5"/><circle cx="999.6" cy="138.4" r="5.5"/><circle cx="986.6" cy="142.2" r="5.5"/><circle cx="1007.2" cy="141.7" r="5.5"/><circle cx="957.3" cy="132.1" r="5.5"/><circle cx="951.6" cy="147.4" r="5.5"/><circle cx="964" cy="149" r="5.5"/><circle cx="1091.4" cy="136.6" r="5.5"/><circle cx="932.9" cy="141.9" r="5.5"/><circle cx="957.1" cy="142.2" r="5.5"/><circle cx="1130.4" cy="135.6" r="5.5"/><circle cx="948.1" cy="143.1" r="5.5"/><circle cx="1052.9" cy="133.3" r="5.5"/><circle cx="1091.2" cy="144.3" r="5.5"/><circle cx="961.5" cy="146.5" r="5.5"/><circle cx="1106" cy="160.5" r="5.5"/><circle cx="988.6" cy="143.5" r="5.5"/><circle cx="1135.7" cy="138.5" r="5.5"/><circle cx="1124.7" cy="142.2" r="5.5"/><circle cx="1117" cy="127.5" r="5.5"/><circle cx="915.5" cy="138.8" r="5.5"/><circle cx="975.4" cy="140.1" r="5.5"/><circle cx="887.7" cy="137.7" r="5.5"/><circle cx="1090" cy="110.5" r="5.5"/><circle cx="937.8" cy="138.9" r="5.5"/><circle cx="943.6" cy="146.1" r="5.5"/><circle cx="1011" cy="153.1" r="5.5"/><circle cx="1102.3" cy="146.4" r="5.5"/><circle cx="919.1" cy="133.3" r="5.5"/><circle cx="945.6" cy="154.9" r="5.5"/><circle cx="1163" cy="131" r="5.5"/><circle cx="912.2" cy="144.5" r="5.5"/><circle cx="950.3" cy="135" r="5.5"/><circle cx="1127.3" cy="124.8" r="5.5"/><circle cx="1081.7" cy="137.4" r="5.5"/><circle cx="934.4" cy="141.1" r="5.5"/><circle cx="1092.5" cy="150.1" r="5.5"/><circle cx="927.6" cy="132.1" r="5.5"/><circle cx="983.4" cy="137.6" r="5.5"/><circle cx="1163" cy="150.5" r="5.5"/><circle cx="1006" cy="152.2" r="5.5"/><circle cx="907.7" cy="150.4" r="5.5"/><circle cx="972.9" cy="151.5" r="5.5"/><circle cx="1137.3" cy="130.8" r="5.5"/><circle cx="929.1" cy="146" r="5.5"/><circle cx="1090.2" cy="132.7" r="5.5"/><circle cx="900.5" cy="137.4" r="5.5"/><circle cx="1107.5" cy="154" r="5.5"/><circle cx="967.3" cy="145.6" r="5.5"/><circle cx="905.2" cy="143.5" r="5.5"/><circle cx="1004.2" cy="151" r="5.5"/><circle cx="983.8" cy="139.2" r="5.5"/><circle cx="953" cy="141" r="5.5"/><circle cx="1007.4" cy="143.2" r="5.5"/><circle cx="1129.4" cy="139.7" r="5.5"/><circle cx="921.6" cy="142.9" r="5.5"/><circle cx="882.7" cy="135.8" r="5.5"/><circle cx="1156.6" cy="134.1" r="5.5"/><circle cx="990.7" cy="146.5" r="5.5"/><circle cx="1048.8" cy="136.1" r="5.5"/><circle cx="880.7" cy="135" r="5.5"/><circle cx="982.9" cy="144" r="5.5"/><circle cx="1097.8" cy="138.8" r="5.5"/><circle cx="1099.4" cy="132.6" r="5.5"/><circle cx="1018" cy="147.3" r="5.5"/><circle cx="949.9" cy="137.1" r="5.5"/><circle cx="1089.1" cy="144.4" r="5.5"/><circle cx="988.1" cy="134.1" r="5.5"/><circle cx="1114.6" cy="136.1" r="5.5"/><circle cx="937.3" cy="138.3" r="5.5"/><circle cx="1015.8" cy="151.6" r="5.5"/><circle cx="1029.6" cy="169.9" r="5.5"/><circle cx="989" cy="148.9" r="5.5"/><circle cx="948.7" cy="149.7" r="5.5"/><circle cx="1141.8" cy="148.8" r="5.5"/><circle cx="942.4" cy="144.8" r="5.5"/><circle cx="1103.3" cy="191.7" r="5.5"/><circle cx="1293" cy="116.8" r="5.5"/><circle cx="944.4" cy="143.4" r="5.5"/><circle cx="935.3" cy="140.8" r="5.5"/><circle cx="918.8" cy="137" r="5.5"/><circle cx="1006.6" cy="141.7" r="5.5"/><circle cx="950.6" cy="155.4" r="5.5"/><circle cx="1023" cy="145.8" r="5.5"/><circle cx="998.2" cy="137.1" r="5.5"/><circle cx="939.2" cy="142.5" r="5.5"/><circle cx="1029.1" cy="146.9" r="5.5"/><circle cx="1034" cy="148.4" r="5.5"/><circle cx="1152" cy="126.9" r="5.5"/><circle cx="927.5" cy="136.9" r="5.5"/><circle cx="935.5" cy="131.8" r="5.5"/><circle cx="1026.7" cy="141.8" r="5.5"/><circle cx="1088.5" cy="131.5" r="5.5"/><circle cx="993" cy="142.5" r="5.5"/><circle cx="967.5" cy="142.9" r="5.5"/><circle cx="931.4" cy="146.5" r="5.5"/><circle cx="998.9" cy="148" r="5.5"/><circle cx="1149.6" cy="131.8" r="5.5"/><circle cx="879.9" cy="137.2" r="5.5"/><circle cx="971.9" cy="141.4" r="5.5"/><circle cx="944.5" cy="151" r="5.5"/><circle cx="947.6" cy="152.8" r="5.5"/><circle cx="913" cy="135.4" r="5.5"/><circle cx="930.8" cy="144.4" r="5.5"/><circle cx="968.3" cy="142.9" r="5.5"/><circle cx="927.7" cy="147.1" r="5.5"/><circle cx="973.5" cy="140.3" r="5.5"/><circle cx="1007" cy="143.1" r="5.5"/><circle cx="955.3" cy="140.4" r="5.5"/><circle cx="908.9" cy="146.5" r="5.5"/><circle cx="1147.2" cy="133.8" r="5.5"/><circle cx="944.7" cy="143.7" r="5.5"/><circle cx="929.9" cy="143.2" r="5.5"/><circle cx="1039.7" cy="136.1" r="5.5"/><circle cx="1014.7" cy="135.1" r="5.5"/><circle cx="1091.4" cy="151.2" r="5.5"/><circle cx="1010.2" cy="141.2" r="5.5"/><circle cx="934.5" cy="133.8" r="5.5"/><circle cx="1031.7" cy="145.4" r="5.5"/><circle cx="1049" cy="144.4" r="5.5"/><circle cx="892.1" cy="137.1" r="5.5"/><circle cx="1123" cy="128.6" r="5.5"/><circle cx="956.4" cy="154.4" r="5.5"/><circle cx="914.5" cy="129.5" r="5.5"/><circle cx="964.9" cy="149.6" r="5.5"/><circle cx="909.3" cy="131.1" r="5.5"/><circle cx="1119.8" cy="133.9" r="5.5"/><circle cx="1000.4" cy="142.1" r="5.5"/><circle cx="1145" cy="146.5" r="5.5"/><circle cx="1040.5" cy="148.7" r="5.5"/><circle cx="917.8" cy="146.9" r="5.5"/><circle cx="882" cy="132.6" r="5.5"/><circle cx="1044.2" cy="158.2" r="5.5"/><circle cx="1042.5" cy="148.4" r="5.5"/><circle cx="1149.8" cy="139" r="5.5"/><circle cx="952.1" cy="144" r="5.5"/><circle cx="1126.7" cy="128.5" r="5.5"/><circle cx="1006.1" cy="149.3" r="5.5"/><circle cx="916.6" cy="142.3" r="5.5"/><circle cx="920.2" cy="138.4" r="5.5"/><circle cx="1111" cy="139.6" r="5.5"/><circle cx="923.2" cy="148.5" r="5.5"/><circle cx="1086.7" cy="141.2" r="5.5"/><circle cx="943.2" cy="141" r="5.5"/><circle cx="977.2" cy="146.8" r="5.5"/><circle cx="1048.5" cy="148.7" r="5.5"/><circle cx="1001.5" cy="154.6" r="5.5"/><circle cx="1025" cy="154.7" r="5.5"/><circle cx="998.8" cy="150.4" r="5.5"/><circle cx="982.5" cy="144.9" r="5.5"/><circle cx="981" cy="154.1" r="5.5"/><circle cx="1126.7" cy="188.1" r="5.5"/><circle cx="1147.1" cy="132.9" r="5.5"/><circle cx="1053.1" cy="155.9" r="5.5"/><circle cx="1101.4" cy="131.9" r="5.5"/><circle cx="913.8" cy="130.5" r="5.5"/><circle cx="951.5" cy="145.2" r="5.5"/><circle cx="943.3" cy="136.7" r="5.5"/><circle cx="960.8" cy="143.6" r="5.5"/><circle cx="912.9" cy="132.5" r="5.5"/><circle cx="966.8" cy="143.3" r="5.5"/><circle cx="898.7" cy="138.7" r="5.5"/><circle cx="1009" cy="135.4" r="5.5"/><circle cx="1044.4" cy="152.3" r="5.5"/><circle cx="1110.3" cy="133.7" r="5.5"/><circle cx="885.8" cy="127.5" r="5.5"/><circle cx="1092" cy="162" r="5.5"/><circle cx="1139.6" cy="147.7" r="5.5"/><circle cx="888.4" cy="135.8" r="5.5"/><circle cx="953.9" cy="148.8" r="5.5"/><circle cx="910.3" cy="136.3" r="5.5"/><circle cx="1041.2" cy="135.9" r="5.5"/><circle cx="938" cy="138.1" r="5.5"/><circle cx="894.1" cy="131" r="5.5"/><circle cx="905.2" cy="130.1" r="5.5"/><circle cx="1129.6" cy="138.8" r="5.5"/><circle cx="887.4" cy="137.6" r="5.5"/><circle cx="1149.4" cy="130.7" r="5.5"/><circle cx="923" cy="139" r="5.5"/><circle cx="1048.6" cy="150.2" r="5.5"/><circle cx="1115.2" cy="141.9" r="5.5"/><circle cx="922.1" cy="140.9" r="5.5"/><circle cx="1147.1" cy="139.1" r="5.5"/><circle cx="938.7" cy="140.4" r="5.5"/><circle cx="1020.5" cy="144.1" r="5.5"/><circle cx="1090.6" cy="151.1" r="5.5"/><circle cx="932.9" cy="145.1" r="5.5"/><circle cx="1024.5" cy="152.2" r="5.5"/><circle cx="1143.5" cy="140.2" r="5.5"/><circle cx="1053.3" cy="140.6" r="5.5"/><circle cx="1003.7" cy="142.5" r="5.5"/><circle cx="991.2" cy="143.7" r="5.5"/><circle cx="1131.3" cy="127.6" r="5.5"/><circle cx="978.6" cy="145" r="5.5"/><circle cx="1021.5" cy="144" r="5.5"/><circle cx="1120.8" cy="137.9" r="5.5"/><circle cx="896.7" cy="134.2" r="5.5"/><circle cx="900.9" cy="135" r="5.5"/><circle cx="981.5" cy="137.4" r="5.5"/><circle cx="1104.5" cy="137.9" r="5.5"/><circle cx="967" cy="130.6" r="5.5"/><circle cx="954.5" cy="143.7" r="5.5"/><circle cx="1073.5" cy="135.3" r="5.5"/><circle cx="953.3" cy="138.4" r="5.5"/><circle cx="961.9" cy="146.4" r="5.5"/><circle cx="1040.8" cy="152" r="5.5"/><circle cx="992.8" cy="151.2" r="5.5"/><circle cx="974.1" cy="143.5" r="5.5"/><circle cx="987.7" cy="143.8" r="5.5"/><circle cx="950.3" cy="132.2" r="5.5"/><circle cx="927.8" cy="132" r="5.5"/><circle cx="945.6" cy="153.4" r="5.5"/><circle cx="996.3" cy="144.2" r="5.5"/><circle cx="893.2" cy="137" r="5.5"/><circle cx="942.9" cy="141.2" r="5.5"/><circle cx="977.9" cy="136.5" r="5.5"/><circle cx="991.4" cy="147.4" r="5.5"/><circle cx="1107.8" cy="151.4" r="5.5"/><circle cx="965.7" cy="142.5" r="5.5"/><circle cx="997.2" cy="149.2" r="5.5"/><circle cx="992.9" cy="143.2" r="5.5"/><circle cx="1294" cy="110" r="5.5"/><circle cx="949.4" cy="143.7" r="5.5"/><circle cx="1087.2" cy="140.7" r="5.5"/><circle cx="1032.8" cy="144.1" r="5.5"/><circle cx="938" cy="134.4" r="5.5"/><circle cx="886.9" cy="129.1" r="5.5"/><circle cx="906.8" cy="137.3" r="5.5"/><circle cx="1144.3" cy="131.9" r="5.5"/><circle cx="1049.2" cy="142.7" r="5.5"/><circle cx="1083.1" cy="137.4" r="5.5"/><circle cx="1050.4" cy="148.8" r="5.5"/><circle cx="981.1" cy="143.6" r="5.5"/><circle cx="1106.1" cy="136.7" r="5.5"/><circle cx="1053.9" cy="142.9" r="5.5"/><circle cx="905.5" cy="134.2" r="5.5"/><circle cx="956.7" cy="142" r="5.5"/><circle cx="883.4" cy="128.5" r="5.5"/><circle cx="913.5" cy="139.3" r="5.5"/><circle cx="939.2" cy="154.3" r="5.5"/><circle cx="1046.8" cy="143.2" r="5.5"/><circle cx="1092" cy="108.8" r="5.5"/><circle cx="1111.1" cy="148.6" r="5.5"/><circle cx="941.6" cy="142" r="5.5"/><circle cx="987" cy="139.8" r="5.5"/><circle cx="907.9" cy="140.3" r="5.5"/><circle cx="933.4" cy="132.4" r="5.5"/><circle cx="972.3" cy="143.8" r="5.5"/><circle cx="891.8" cy="138.4" r="5.5"/><circle cx="990.1" cy="141.7" r="5.5"/><circle cx="1009.3" cy="146.9" r="5.5"/><circle cx="1149.6" cy="130.1" r="5.5"/><circle cx="935.9" cy="140.9" r="5.5"/><circle cx="943.1" cy="149" r="5.5"/><circle cx="997.6" cy="137.4" r="5.5"/><circle cx="983.1" cy="151.1" r="5.5"/><circle cx="925.4" cy="139.5" r="5.5"/><circle cx="1092.3" cy="132.8" r="5.5"/><circle cx="989.8" cy="144.6" r="5.5"/><circle cx="1143.5" cy="130" r="5.5"/><circle cx="945.9" cy="143.1" r="5.5"/><circle cx="917.8" cy="141.4" r="5.5"/><circle cx="1146.4" cy="141.5" r="5.5"/><circle cx="983.5" cy="147.2" r="5.5"/><circle cx="1014.4" cy="150.6" r="5.5"/><circle cx="899" cy="146.4" r="5.5"/><circle cx="994.9" cy="151.4" r="5.5"/><circle cx="943.9" cy="145.5" r="5.5"/><circle cx="985.7" cy="142.1" r="5.5"/><circle cx="1019.6" cy="146.3" r="5.5"/><circle cx="986.8" cy="141.1" r="5.5"/><circle cx="1129.3" cy="136.8" r="5.5"/><circle cx="1014" cy="171" r="5.5"/><circle cx="896.2" cy="142.3" r="5.5"/><circle cx="910.1" cy="134.2" r="5.5"/><circle cx="915.8" cy="137.9" r="5.5"/><circle cx="1141.9" cy="121.4" r="5.5"/><circle cx="942.3" cy="143.5" r="5.5"/><circle cx="1092.2" cy="137.9" r="5.5"/><circle cx="988.3" cy="145.4" r="5.5"/><circle cx="919.2" cy="139.7" r="5.5"/><circle cx="1099.5" cy="131.3" r="5.5"/><circle cx="1042.8" cy="136.6" r="5.5"/><circle cx="896.6" cy="137.3" r="5.5"/><circle cx="990.6" cy="137.4" r="5.5"/><circle cx="1013.9" cy="150.6" r="5.5"/><circle cx="1042.8" cy="122.5" r="5.5"/><circle cx="926.3" cy="143.4" r="5.5"/><circle cx="964.4" cy="146.8" r="5.5"/><circle cx="903.9" cy="134.5" r="5.5"/><circle cx="949.2" cy="138.9" r="5.5"/><circle cx="1001.5" cy="145.8" r="5.5"/><circle cx="999.8" cy="135.4" r="5.5"/><circle cx="908.8" cy="143.7" r="5.5"/><circle cx="956" cy="138.7" r="5.5"/><circle cx="970.4" cy="145.3" r="5.5"/><circle cx="1105.7" cy="135.8" r="5.5"/><circle cx="899.5" cy="138.2" r="5.5"/><circle cx="1035.3" cy="144.2" r="5.5"/><circle cx="1035.7" cy="150" r="5.5"/><circle cx="1004.9" cy="145.1" r="5.5"/><circle cx="995.1" cy="143.3" r="5.5"/><circle cx="1057.1" cy="133.7" r="5.5"/><circle cx="1022.9" cy="148.5" r="5.5"/><circle cx="941.3" cy="137.7" r="5.5"/><circle cx="959.3" cy="146.6" r="5.5"/><circle cx="934" cy="137.3" r="5.5"/><circle cx="886.7" cy="125.2" r="5.5"/><circle cx="1091.6" cy="144.1" r="5.5"/><circle cx="978.3" cy="145.9" r="5.5"/><circle cx="901.8" cy="137.1" r="5.5"/><circle cx="962.9" cy="142.2" r="5.5"/><circle cx="1049.4" cy="135.9" r="5.5"/><circle cx="983.1" cy="147.4" r="5.5"/><circle cx="1117.7" cy="145.7" r="5.5"/><circle cx="1019" cy="141.6" r="5.5"/><circle cx="938.6" cy="134.4" r="5.5"/><circle cx="943.5" cy="145.5" r="5.5"/><circle cx="1073.9" cy="158.1" r="5.5"/><circle cx="950.3" cy="143.6" r="5.5"/><circle cx="947.6" cy="147.8" r="5.5"/><circle cx="969.4" cy="152.2" r="5.5"/><circle cx="1015.4" cy="143.5" r="5.5"/><circle cx="938.4" cy="136.9" r="5.5"/><circle cx="967.7" cy="138" r="5.5"/><circle cx="1117.4" cy="146.6" r="5.5"/><circle cx="954.8" cy="135.7" r="5.5"/><circle cx="988.8" cy="136.3" r="5.5"/><circle cx="986.4" cy="140.7" r="5.5"/><circle cx="966.3" cy="152.2" r="5.5"/><circle cx="1135.3" cy="129.5" r="5.5"/><circle cx="1092.7" cy="137.4" r="5.5"/><circle cx="958.8" cy="137.5" r="5.5"/><circle cx="921.9" cy="140.2" r="5.5"/><circle cx="1010.2" cy="155.4" r="5.5"/><circle cx="925.4" cy="140.8" r="5.5"/><circle cx="897.6" cy="137.8" r="5.5"/><circle cx="948.4" cy="135.8" r="5.5"/><circle cx="981.4" cy="146.2" r="5.5"/><circle cx="964.4" cy="138.6" r="5.5"/><circle cx="1144.2" cy="139" r="5.5"/><circle cx="921.6" cy="141" r="5.5"/><circle cx="995.8" cy="146.3" r="5.5"/><circle cx="977.8" cy="142.4" r="5.5"/><circle cx="1089.6" cy="149.3" r="5.5"/><circle cx="932.8" cy="135.5" r="5.5"/><circle cx="979.7" cy="148.1" r="5.5"/><circle cx="967.3" cy="144.8" r="5.5"/><circle cx="948.8" cy="144.7" r="5.5"/><circle cx="930.6" cy="138.9" r="5.5"/><circle cx="993.6" cy="140" r="5.5"/><circle cx="960.8" cy="148.7" r="5.5"/><circle cx="890.3" cy="147.5" r="5.5"/><circle cx="1031.2" cy="145.8" r="5.5"/><circle cx="1032.1" cy="145.9" r="5.5"/><circle cx="994.1" cy="143.1" r="5.5"/><circle cx="910.8" cy="145.8" r="5.5"/><circle cx="964.2" cy="135.9" r="5.5"/><circle cx="937.5" cy="147.2" r="5.5"/><circle cx="1003.1" cy="137.8" r="5.5"/><circle cx="905" cy="137.1" r="5.5"/><circle cx="1087.8" cy="131.1" r="5.5"/><circle cx="968.3" cy="135.7" r="5.5"/><circle cx="1016.8" cy="137.6" r="5.5"/><circle cx="957.2" cy="147.4" r="5.5"/><circle cx="1130.5" cy="127.5" r="5.5"/><circle cx="1027.3" cy="149.1" r="5.5"/><circle cx="958.6" cy="141.8" r="5.5"/><circle cx="1033.1" cy="139.3" r="5.5"/><circle cx="956.6" cy="137.6" r="5.5"/><circle cx="1002.3" cy="155.8" r="5.5"/><circle cx="1058.7" cy="148.9" r="5.5"/><circle cx="955.1" cy="138.8" r="5.5"/><circle cx="922.1" cy="150.1" r="5.5"/><circle cx="1024.9" cy="145" r="5.5"/><circle cx="957" cy="148.4" r="5.5"/><circle cx="999.6" cy="139" r="5.5"/><circle cx="1047.5" cy="143.3" r="5.5"/><circle cx="996.6" cy="134.8" r="5.5"/><circle cx="933.9" cy="145.1" r="5.5"/><circle cx="1089.4" cy="151.4" r="5.5"/><circle cx="911.8" cy="130.4" r="5.5"/><circle cx="954.3" cy="158.1" r="5.5"/><circle cx="925.6" cy="146.1" r="5.5"/><circle cx="1108.6" cy="136.5" r="5.5"/><circle cx="1047.7" cy="135.1" r="5.5"/><circle cx="1155.6" cy="137.2" r="5.5"/><circle cx="970" cy="142.4" r="5.5"/><circle cx="948.4" cy="143.1" r="5.5"/><circle cx="1024.7" cy="146.1" r="5.5"/><circle cx="1010.8" cy="149.5" r="5.5"/><circle cx="935.3" cy="134.2" r="5.5"/><circle cx="1107.6" cy="131.8" r="5.5"/><circle cx="960.6" cy="141.3" r="5.5"/><circle cx="896" cy="139.3" r="5.5"/><circle cx="1062" cy="153" r="5.5"/><circle cx="953.9" cy="132.6" r="5.5"/><circle cx="1004.7" cy="136.7" r="5.5"/><circle cx="984.8" cy="148.2" r="5.5"/><circle cx="1013.9" cy="144.1" r="5.5"/><circle cx="1113.2" cy="143.7" r="5.5"/><circle cx="985.7" cy="149.7" r="5.5"/><circle cx="956.7" cy="150" r="5.5"/><circle cx="1016.2" cy="144.4" r="5.5"/><circle cx="1051.4" cy="131.7" r="5.5"/><circle cx="1153" cy="133.2" r="5.5"/><circle cx="1151.1" cy="130.5" r="5.5"/><circle cx="956.7" cy="141.7" r="5.5"/><circle cx="937.1" cy="145" r="5.5"/><circle cx="1051.2" cy="159.5" r="5.5"/><circle cx="946.4" cy="148.4" r="5.5"/><circle cx="1024" cy="145.7" r="5.5"/><circle cx="986.9" cy="151.6" r="5.5"/><circle cx="967.1" cy="143.4" r="5.5"/><circle cx="1019.5" cy="143.8" r="5.5"/><circle cx="1098" cy="135.8" r="5.5"/><circle cx="990" cy="151.4" r="5.5"/><circle cx="966.4" cy="137.5" r="5.5"/><circle cx="946.9" cy="145" r="5.5"/><circle cx="939.4" cy="138.6" r="5.5"/><circle cx="1083.3" cy="142.6" r="5.5"/><circle cx="1042.3" cy="146.9" r="5.5"/><circle cx="999.2" cy="153.5" r="5.5"/><circle cx="986" cy="139.2" r="5.5"/><circle cx="1092.9" cy="133.2" r="5.5"/><circle cx="1149" cy="140.6" r="5.5"/><circle cx="944.8" cy="139.3" r="5.5"/><circle cx="950.6" cy="140.7" r="5.5"/><circle cx="951.9" cy="137.1" r="5.5"/><circle cx="911.2" cy="133" r="5.5"/><circle cx="960.8" cy="137" r="5.5"/><circle cx="869.5" cy="133.6" r="5.5"/><circle cx="1011.2" cy="146.8" r="5.5"/><circle cx="1123.8" cy="136.6" r="5.5"/><circle cx="979.6" cy="142.8" r="5.5"/><circle cx="916.5" cy="131.1" r="5.5"/><circle cx="1009.7" cy="134.9" r="5.5"/><circle cx="995" cy="146.3" r="5.5"/><circle cx="989.7" cy="148.6" r="5.5"/><circle cx="950.9" cy="144.9" r="5.5"/><circle cx="1067.5" cy="139.3" r="5.5"/><circle cx="918.9" cy="136.5" r="5.5"/><circle cx="1014.1" cy="149.4" r="5.5"/><circle cx="1116.7" cy="131.6" r="5.5"/><circle cx="1087.4" cy="138.8" r="5.5"/><circle cx="977.2" cy="139.5" r="5.5"/><circle cx="1122.2" cy="120.9" r="5.5"/><circle cx="1135.9" cy="141" r="5.5"/><circle cx="887.6" cy="136.4" r="5.5"/><circle cx="949.8" cy="145.3" r="5.5"/><circle cx="1028.9" cy="139.8" r="5.5"/><circle cx="980" cy="144.8" r="5.5"/><circle cx="1017.8" cy="147.9" r="5.5"/><circle cx="1058.3" cy="141.4" r="5.5"/><circle cx="1060.6" cy="143.8" r="5.5"/><circle cx="1129.9" cy="132.1" r="5.5"/><circle cx="1137.1" cy="128.7" r="5.5"/><circle cx="988.7" cy="146.5" r="5.5"/><circle cx="1121.7" cy="152.4" r="5.5"/><circle cx="1110.2" cy="128.2" r="5.5"/><circle cx="1040.7" cy="141.6" r="5.5"/><circle cx="1138.7" cy="137.5" r="5.5"/><circle cx="1103.3" cy="138.6" r="5.5"/><circle cx="1043.6" cy="141.9" r="5.5"/><circle cx="950.5" cy="157" r="5.5"/><circle cx="980.2" cy="148.2" r="5.5"/><circle cx="944.5" cy="141.2" r="5.5"/><circle cx="934.7" cy="136.2" r="5.5"/><circle cx="1057.9" cy="142.1" r="5.5"/><circle cx="942.9" cy="136.2" r="5.5"/><circle cx="975.1" cy="145.2" r="5.5"/><circle cx="930.4" cy="140.1" r="5.5"/><circle cx="1057.7" cy="145.4" r="5.5"/><circle cx="917.9" cy="135.7" r="5.5"/><circle cx="1070.5" cy="139.4" r="5.5"/><circle cx="1046.3" cy="149.9" r="5.5"/><circle cx="884.1" cy="139.2" r="5.5"/><circle cx="984.4" cy="151.8" r="5.5"/><circle cx="1011.7" cy="141.7" r="5.5"/><circle cx="890.4" cy="135.7" r="5.5"/><circle cx="1140.5" cy="147.6" r="5.5"/><circle cx="973.9" cy="151.3" r="5.5"/><circle cx="992.7" cy="144.5" r="5.5"/><circle cx="1041.3" cy="150" r="5.5"/><circle cx="965.6" cy="146.8" r="5.5"/><circle cx="1100.1" cy="156.7" r="5.5"/><circle cx="1025.8" cy="152.1" r="5.5"/><circle cx="1116.5" cy="134" r="5.5"/><circle cx="951.4" cy="139.7" r="5.5"/><circle cx="1015.2" cy="138.4" r="5.5"/><circle cx="931.6" cy="140" r="5.5"/><circle cx="1090.8" cy="128.5" r="5.5"/><circle cx="935.9" cy="143" r="5.5"/><circle cx="1134" cy="142.7" r="5.5"/><circle cx="1135" cy="126" r="5.5"/><circle cx="943.7" cy="138.2" r="5.5"/><circle cx="975.5" cy="143.9" r="5.5"/><circle cx="910.5" cy="134.4" r="5.5"/><circle cx="973.4" cy="130.9" r="5.5"/><circle cx="986.2" cy="151.3" r="5.5"/><circle cx="914.4" cy="131.1" r="5.5"/><circle cx="1101" cy="132.9" r="5.5"/><circle cx="1080.7" cy="138.9" r="5.5"/><circle cx="946.6" cy="140.8" r="5.5"/><circle cx="981.1" cy="156" r="5.5"/><circle cx="989.8" cy="135.6" r="5.5"/><circle cx="958.2" cy="138.1" r="5.5"/><circle cx="1155.9" cy="134" r="5.5"/><circle cx="1008.4" cy="144.7" r="5.5"/><circle cx="1076.3" cy="137" r="5.5"/><circle cx="1118" cy="162.1" r="5.5"/><circle cx="964.6" cy="147.4" r="5.5"/><circle cx="951.4" cy="149.1" r="5.5"/><circle cx="1053.9" cy="139" r="5.5"/><circle cx="945.1" cy="151.4" r="5.5"/><circle cx="1091.1" cy="149.2" r="5.5"/><circle cx="1022" cy="145.7" r="5.5"/><circle cx="923.6" cy="134.2" r="5.5"/><circle cx="1138.1" cy="141.1" r="5.5"/><circle cx="913.2" cy="129.1" r="5.5"/><circle cx="1051.5" cy="134" r="5.5"/><circle cx="934.4" cy="139.2" r="5.5"/><circle cx="892.9" cy="136.3" r="5.5"/><circle cx="886.8" cy="128.9" r="5.5"/><circle cx="911.8" cy="131.9" r="5.5"/><circle cx="943.8" cy="138.2" r="5.5"/><circle cx="884.4" cy="141" r="5.5"/><circle cx="888.5" cy="133.1" r="5.5"/><circle cx="963" cy="142.9" r="5.5"/><circle cx="950.1" cy="142.2" r="5.5"/><circle cx="914.4" cy="138.1" r="5.5"/><circle cx="968.4" cy="137.4" r="5.5"/><circle cx="930.9" cy="145.6" r="5.5"/><circle cx="1008" cy="148.6" r="5.5"/><circle cx="895.1" cy="136.2" r="5.5"/><circle cx="986.9" cy="145.9" r="5.5"/><circle cx="888.4" cy="132.6" r="5.5"/><circle cx="1104" cy="145.4" r="5.5"/><circle cx="1134.2" cy="134.1" r="5.5"/><circle cx="1100.9" cy="150.8" r="5.5"/><circle cx="933.6" cy="141.1" r="5.5"/><circle cx="1052.1" cy="146.7" r="5.5"/><circle cx="957" cy="143.4" r="5.5"/><circle cx="942" cy="146.8" r="5.5"/><circle cx="1001.5" cy="141" r="5.5"/><circle cx="970.4" cy="145.5" r="5.5"/><circle cx="1086.9" cy="151.2" r="5.5"/><circle cx="1137.8" cy="148.5" r="5.5"/><circle cx="932.9" cy="132.2" r="5.5"/><circle cx="1111.3" cy="145" r="5.5"/><circle cx="1102.5" cy="141.4" r="5.5"/><circle cx="962.3" cy="140.6" r="5.5"/><circle cx="893.9" cy="135.6" r="5.5"/><circle cx="1104.8" cy="142.7" r="5.5"/><circle cx="997" cy="144.3" r="5.5"/><circle cx="1115.5" cy="114.2" r="5.5"/><circle cx="948.1" cy="139.8" r="5.5"/><circle cx="963.8" cy="144.6" r="5.5"/><circle cx="1030.3" cy="145.1" r="5.5"/><circle cx="905.6" cy="138.9" r="5.5"/><circle cx="912.6" cy="134.1" r="5.5"/><circle cx="979.9" cy="141.5" r="5.5"/><circle cx="969.3" cy="140.3" r="5.5"/><circle cx="1027.5" cy="148.7" r="5.5"/><circle cx="920.3" cy="135.4" r="5.5"/><circle cx="957.1" cy="144.9" r="5.5"/><circle cx="937.3" cy="143.9" r="5.5"/><circle cx="1061.5" cy="142" r="5.5"/><circle cx="943.1" cy="143.8" r="5.5"/><circle cx="954.1" cy="133.7" r="5.5"/><circle cx="1052.8" cy="153.7" r="5.5"/><circle cx="914.8" cy="135.4" r="5.5"/><circle cx="1049.8" cy="146.6" r="5.5"/><circle cx="961.9" cy="137.6" r="5.5"/><circle cx="1140" cy="119.3" r="5.5"/><circle cx="1014.2" cy="145.2" r="5.5"/><circle cx="951.1" cy="137.9" r="5.5"/><circle cx="940.2" cy="141.7" r="5.5"/><circle cx="955.1" cy="138.3" r="5.5"/><circle cx="1011.1" cy="150.4" r="5.5"/><circle cx="1007.3" cy="150.5" r="5.5"/><circle cx="974.5" cy="139.9" r="5.5"/><circle cx="995.5" cy="148.8" r="5.5"/><circle cx="902.7" cy="135.7" r="5.5"/><circle cx="899.4" cy="138.9" r="5.5"/><circle cx="951.3" cy="137.6" r="5.5"/><circle cx="974.9" cy="141.6" r="5.5"/><circle cx="1020.8" cy="144.9" r="5.5"/><circle cx="1035.5" cy="142" r="5.5"/><circle cx="1029.9" cy="146.8" r="5.5"/><circle cx="960.8" cy="136.2" r="5.5"/><circle cx="1050.2" cy="143" r="5.5"/><circle cx="998.1" cy="144" r="5.5"/><circle cx="1145.8" cy="149.7" r="5.5"/><circle cx="999.1" cy="144" r="5.5"/><circle cx="1103.5" cy="142.6" r="5.5"/><circle cx="1024.4" cy="149.4" r="5.5"/><circle cx="906.9" cy="138.4" r="5.5"/><circle cx="989.8" cy="140.2" r="5.5"/><circle cx="1142.9" cy="139.2" r="5.5"/><circle cx="1006.5" cy="142.6" r="5.5"/><circle cx="1128.4" cy="139.9" r="5.5"/><circle cx="975" cy="145" r="5.5"/><circle cx="956" cy="145.1" r="5.5"/><circle cx="1146.2" cy="145.1" r="5.5"/><circle cx="944.3" cy="146" r="5.5"/><circle cx="991.4" cy="155" r="5.5"/><circle cx="931.4" cy="143.9" r="5.5"/><circle cx="903" cy="126.2" r="5.5"/><circle cx="1050.1" cy="143.4" r="5.5"/><circle cx="1091.5" cy="141.2" r="5.5"/><circle cx="917" cy="146.5" r="5.5"/><circle cx="934.6" cy="143.4" r="5.5"/><circle cx="936.7" cy="129.3" r="5.5"/><circle cx="960.2" cy="143.4" r="5.5"/><circle cx="1076.8" cy="143.1" r="5.5"/><circle cx="1139.3" cy="128.2" r="5.5"/><circle cx="930.5" cy="146" r="5.5"/><circle cx="950.1" cy="130.6" r="5.5"/><circle cx="1029.9" cy="132.3" r="5.5"/><circle cx="1103.9" cy="136.8" r="5.5"/><circle cx="944.4" cy="146" r="5.5"/><circle cx="1130" cy="107.5" r="5.5"/><circle cx="1141.9" cy="141.1" r="5.5"/><circle cx="923" cy="135.2" r="5.5"/><circle cx="939.1" cy="132.9" r="5.5"/><circle cx="1147.8" cy="132.8" r="5.5"/><circle cx="1116.6" cy="132.3" r="5.5"/><circle cx="1049.6" cy="153.9" r="5.5"/><circle cx="996.6" cy="148.9" r="5.5"/><circle cx="905.3" cy="140.9" r="5.5"/><circle cx="1130.6" cy="139.8" r="5.5"/><circle cx="1018.2" cy="144.6" r="5.5"/><circle cx="1086.6" cy="131.5" r="5.5"/><circle cx="902.2" cy="148.5" r="5.5"/><circle cx="914.7" cy="135.4" r="5.5"/><circle cx="1032" cy="170.5" r="5.5"/><circle cx="967.2" cy="153.2" r="5.5"/><circle cx="1007" cy="149.4" r="5.5"/><circle cx="955.7" cy="137.3" r="5.5"/><circle cx="901.1" cy="130.8" r="5.5"/><circle cx="983.8" cy="141.9" r="5.5"/><circle cx="949" cy="146.8" r="5.5"/><circle cx="1048.9" cy="146.7" r="5.5"/><circle cx="1038.1" cy="153.5" r="5.5"/><circle cx="1113.8" cy="147.5" r="5.5"/><circle cx="1099.6" cy="140.5" r="5.5"/><circle cx="940.4" cy="136.3" r="5.5"/><circle cx="1218.7" cy="196.9" r="5.5"/><circle cx="1108.9" cy="137.1" r="5.5"/><circle cx="882" cy="135.8" r="5.5"/><circle cx="1012.9" cy="135.4" r="5.5"/><circle cx="1048.7" cy="145" r="5.5"/><circle cx="981.7" cy="153.7" r="5.5"/><circle cx="1122.7" cy="133.8" r="5.5"/><circle cx="1118.9" cy="135.1" r="5.5"/><circle cx="941.1" cy="146.8" r="5.5"/><circle cx="1127.6" cy="122.4" r="5.5"/><circle cx="1113.2" cy="127.7" r="5.5"/><circle cx="933.3" cy="144.4" r="5.5"/><circle cx="1015.9" cy="143.9" r="5.5"/><circle cx="917.4" cy="136.3" r="5.5"/><circle cx="939.1" cy="135.9" r="5.5"/><circle cx="879.7" cy="141.6" r="5.5"/><circle cx="970.2" cy="146" r="5.5"/><circle cx="880.2" cy="137.1" r="5.5"/><circle cx="1039.6" cy="144.8" r="5.5"/><circle cx="1012.1" cy="146.9" r="5.5"/><circle cx="1037.8" cy="148.1" r="5.5"/><circle cx="971.7" cy="149.5" r="5.5"/><circle cx="1047.3" cy="135" r="5.5"/><circle cx="1046.2" cy="152.7" r="5.5"/><circle cx="1045.6" cy="152.8" r="5.5"/><circle cx="940.6" cy="136" r="5.5"/><circle cx="1093.8" cy="127.4" r="5.5"/><circle cx="994.5" cy="139.9" r="5.5"/><circle cx="1025" cy="139.6" r="5.5"/><circle cx="938.2" cy="149.4" r="5.5"/><circle cx="1005" cy="142.4" r="5.5"/><circle cx="1041.2" cy="141.6" r="5.5"/><circle cx="939.4" cy="128.4" r="5.5"/><circle cx="937.8" cy="145.2" r="5.5"/><circle cx="1105.6" cy="141.7" r="5.5"/><circle cx="910.6" cy="132.6" r="5.5"/><circle cx="950" cy="134.1" r="5.5"/><circle cx="1016" cy="142.6" r="5.5"/><circle cx="931.6" cy="145.7" r="5.5"/><circle cx="1095" cy="141.9" r="5.5"/><circle cx="990" cy="171.5" r="5.5"/><circle cx="978.3" cy="146.1" r="5.5"/><circle cx="1009.9" cy="143.8" r="5.5"/><circle cx="1029.5" cy="147.8" r="5.5"/><circle cx="1109.5" cy="132.8" r="5.5"/><circle cx="892.7" cy="136.1" r="5.5"/><circle cx="1056.5" cy="154.5" r="5.5"/><circle cx="883.6" cy="134.9" r="5.5"/><circle cx="921.2" cy="141.3" r="5.5"/><circle cx="1000" cy="148.8" r="5.5"/><circle cx="1139.4" cy="136.1" r="5.5"/><circle cx="992.5" cy="147.2" r="5.5"/><circle cx="924.5" cy="137.7" r="5.5"/><circle cx="944.9" cy="145.2" r="5.5"/><circle cx="972.5" cy="139.7" r="5.5"/><circle cx="967.2" cy="143.1" r="5.5"/><circle cx="990.5" cy="137.9" r="5.5"/><circle cx="918.6" cy="135.1" r="5.5"/><circle cx="946.4" cy="136" r="5.5"/><circle cx="1031.7" cy="138.4" r="5.5"/><circle cx="988.2" cy="149.9" r="5.5"/><circle cx="1200" cy="141" r="5.5"/><circle cx="1029.1" cy="151.3" r="5.5"/><circle cx="946.2" cy="142.2" r="5.5"/><circle cx="894.3" cy="136.3" r="5.5"/><circle cx="1121.5" cy="139.5" r="5.5"/><circle cx="898.3" cy="133.4" r="5.5"/><circle cx="1038.7" cy="141.6" r="5.5"/><circle cx="980.9" cy="147.1" r="5.5"/><circle cx="975.2" cy="146.7" r="5.5"/><circle cx="914.4" cy="140.9" r="5.5"/><circle cx="943" cy="139.7" r="5.5"/><circle cx="956" cy="144.5" r="5.5"/><circle cx="1004.7" cy="141.6" r="5.5"/><circle cx="960.5" cy="157" r="5.5"/><circle cx="953.3" cy="143.7" r="5.5"/><circle cx="1051.8" cy="144" r="5.5"/><circle cx="1102.8" cy="132.6" r="5.5"/><circle cx="940.9" cy="140.1" r="5.5"/><circle cx="905.1" cy="134.9" r="5.5"/><circle cx="999.6" cy="140.1" r="5.5"/><circle cx="1129.4" cy="133.3" r="5.5"/><circle cx="937.9" cy="144.3" r="5.5"/><circle cx="966.3" cy="143.6" r="5.5"/><circle cx="966.9" cy="146.5" r="5.5"/><circle cx="898.2" cy="144.2" r="5.5"/><circle cx="1145.8" cy="142.2" r="5.5"/><circle cx="969" cy="144.7" r="5.5"/><circle cx="898.8" cy="139.5" r="5.5"/><circle cx="995.7" cy="144.5" r="5.5"/><circle cx="946.7" cy="130.5" r="5.5"/><circle cx="926.3" cy="137.5" r="5.5"/><circle cx="886.6" cy="140.5" r="5.5"/><circle cx="950.6" cy="130" r="5.5"/><circle cx="1103.6" cy="152.1" r="5.5"/><circle cx="978.9" cy="137" r="5.5"/><circle cx="1057.5" cy="146.5" r="5.5"/><circle cx="946.9" cy="145.1" r="5.5"/><circle cx="942.9" cy="138" r="5.5"/><circle cx="955" cy="134.2" r="5.5"/><circle cx="1025.6" cy="141" r="5.5"/><circle cx="947" cy="142.4" r="5.5"/><circle cx="1047.6" cy="144.6" r="5.5"/><circle cx="891.4" cy="133.3" r="5.5"/><circle cx="998.8" cy="149.2" r="5.5"/><circle cx="1121.6" cy="147" r="5.5"/><circle cx="924.9" cy="138.4" r="5.5"/><circle cx="924.6" cy="140.8" r="5.5"/><circle cx="890.9" cy="141.5" r="5.5"/><circle cx="953" cy="139.2" r="5.5"/><circle cx="1004.3" cy="134.3" r="5.5"/><circle cx="1118" cy="144.8" r="5.5"/><circle cx="950" cy="147.7" r="5.5"/><circle cx="1010.2" cy="150.3" r="5.5"/><circle cx="936.8" cy="135.6" r="5.5"/><circle cx="946.2" cy="140.5" r="5.5"/><circle cx="892.3" cy="139.8" r="5.5"/><circle cx="1031.9" cy="136.6" r="5.5"/><circle cx="916.6" cy="134.9" r="5.5"/><circle cx="1021.6" cy="149" r="5.5"/><circle cx="943.6" cy="148.3" r="5.5"/><circle cx="992.8" cy="141.3" r="5.5"/><circle cx="896.5" cy="133" r="5.5"/><circle cx="885.9" cy="132.4" r="5.5"/><circle cx="1051.3" cy="152.4" r="5.5"/><circle cx="1043" cy="153.6" r="5.5"/><circle cx="1092.7" cy="139.8" r="5.5"/><circle cx="940" cy="139.2" r="5.5"/><circle cx="942.3" cy="142.7" r="5.5"/><circle cx="911.8" cy="144.5" r="5.5"/><circle cx="881" cy="141.7" r="5.5"/><circle cx="998.7" cy="153.4" r="5.5"/><circle cx="897.3" cy="134" r="5.5"/><circle cx="1060.6" cy="129.4" r="5.5"/><circle cx="1150.8" cy="134.4" r="5.5"/><circle cx="921" cy="135.5" r="5.5"/><circle cx="959.7" cy="134.1" r="5.5"/><circle cx="1137.6" cy="138.1" r="5.5"/><circle cx="1037.4" cy="145" r="5.5"/><circle cx="976" cy="143.3" r="5.5"/><circle cx="1084.7" cy="136.3" r="5.5"/><circle cx="1120.5" cy="136.1" r="5.5"/><circle cx="990" cy="141.6" r="5.5"/><circle cx="998.7" cy="139.2" r="5.5"/><circle cx="1008.8" cy="146.6" r="5.5"/><circle cx="954.6" cy="148.1" r="5.5"/><circle cx="958.7" cy="142.3" r="5.5"/><circle cx="1025.7" cy="138.4" r="5.5"/><circle cx="1035.1" cy="154.4" r="5.5"/><circle cx="977.8" cy="140.8" r="5.5"/><circle cx="965.6" cy="145.3" r="5.5"/><circle cx="932.7" cy="143.1" r="5.5"/><circle cx="1109.9" cy="144" r="5.5"/><circle cx="954.5" cy="141.4" r="5.5"/><circle cx="1051.2" cy="153.7" r="5.5"/><circle cx="923.5" cy="133.6" r="5.5"/><circle cx="1055.4" cy="135.5" r="5.5"/><circle cx="950.3" cy="140.1" r="5.5"/><circle cx="969.4" cy="137" r="5.5"/><circle cx="928.9" cy="132.8" r="5.5"/><circle cx="914.6" cy="135.5" r="5.5"/><circle cx="941.3" cy="142.8" r="5.5"/><circle cx="1008.8" cy="138.2" r="5.5"/><circle cx="950.2" cy="146.7" r="5.5"/><circle cx="888.6" cy="136" r="5.5"/><circle cx="926.8" cy="138.3" r="5.5"/><circle cx="1012.4" cy="146.8" r="5.5"/><circle cx="1035.8" cy="148.8" r="5.5"/><circle cx="1154" cy="141.2" r="5.5"/><circle cx="1018.1" cy="142.5" r="5.5"/><circle cx="1046" cy="150.8" r="5.5"/><circle cx="1031.1" cy="143" r="5.5"/><circle cx="926.1" cy="136.3" r="5.5"/><circle cx="1079.6" cy="132.6" r="5.5"/><circle cx="914.6" cy="132.6" r="5.5"/><circle cx="1050.6" cy="148" r="5.5"/><circle cx="995.7" cy="147.6" r="5.5"/><circle cx="1033.7" cy="142" r="5.5"/><circle cx="977" cy="135.1" r="5.5"/><circle cx="1084.7" cy="144.9" r="5.5"/><circle cx="963.8" cy="139.5" r="5.5"/><circle cx="1024.8" cy="148.3" r="5.5"/><circle cx="1111.3" cy="148.9" r="5.5"/><circle cx="949.1" cy="147.1" r="5.5"/><circle cx="975.9" cy="147.9" r="5.5"/><circle cx="1106.2" cy="139.5" r="5.5"/><circle cx="1014.8" cy="144.5" r="5.5"/><circle cx="971.5" cy="171.8" r="5.5"/><circle cx="962.2" cy="146.6" r="5.5"/><circle cx="1052" cy="145.7" r="5.5"/><circle cx="954.4" cy="141.4" r="5.5"/><circle cx="1123.8" cy="141.4" r="5.5"/><circle cx="1095.4" cy="147" r="5.5"/><circle cx="1021.2" cy="140.1" r="5.5"/><circle cx="921" cy="145" r="5.5"/><circle cx="1051.4" cy="152.9" r="5.5"/><circle cx="911.4" cy="141.7" r="5.5"/><circle cx="965.1" cy="149.7" r="5.5"/><circle cx="953.9" cy="138.4" r="5.5"/><circle cx="1027.9" cy="150.2" r="5.5"/><circle cx="982.5" cy="137.2" r="5.5"/><circle cx="951.2" cy="139.4" r="5.5"/><circle cx="891.5" cy="134" r="5.5"/><circle cx="941.6" cy="144.1" r="5.5"/><circle cx="942.6" cy="127.9" r="5.5"/><circle cx="942.1" cy="147.4" r="5.5"/><circle cx="936.1" cy="141.7" r="5.5"/><circle cx="1113.6" cy="150.9" r="5.5"/><circle cx="1115" cy="163" r="5.5"/><circle cx="1032.5" cy="158.3" r="5.5"/><circle cx="1011.4" cy="143.4" r="5.5"/><circle cx="911.3" cy="137.1" r="5.5"/><circle cx="1046.3" cy="143.6" r="5.5"/><circle cx="892.7" cy="139" r="5.5"/><circle cx="945.2" cy="135" r="5.5"/><circle cx="891.6" cy="140.9" r="5.5"/><circle cx="965.5" cy="145.3" r="5.5"/><circle cx="998.5" cy="178" r="5.5"/><circle cx="966.9" cy="142.4" r="5.5"/><circle cx="1039.5" cy="151.6" r="5.5"/><circle cx="1144" cy="126.4" r="5.5"/><circle cx="961" cy="143.4" r="5.5"/><circle cx="993.5" cy="138.6" r="5.5"/><circle cx="978.3" cy="153.7" r="5.5"/><circle cx="915.2" cy="140.8" r="5.5"/><circle cx="989.4" cy="143.5" r="5.5"/><circle cx="1032.5" cy="146.1" r="5.5"/><circle cx="967.9" cy="146" r="5.5"/><circle cx="927.3" cy="145.4" r="5.5"/><circle cx="1006.7" cy="143" r="5.5"/><circle cx="1032.7" cy="146.7" r="5.5"/><circle cx="1012" cy="149.3" r="5.5"/><circle cx="986.9" cy="149.1" r="5.5"/><circle cx="941" cy="153" r="5.5"/><circle cx="912.5" cy="144.2" r="5.5"/><circle cx="994.6" cy="145.8" r="5.5"/><circle cx="1058.3" cy="152" r="5.5"/><circle cx="893.8" cy="132.3" r="5.5"/><circle cx="965.5" cy="148" r="5.5"/><circle cx="1052.1" cy="143.1" r="5.5"/><circle cx="895.7" cy="141.3" r="5.5"/><circle cx="977.1" cy="130.8" r="5.5"/><circle cx="950.7" cy="133.2" r="5.5"/><circle cx="984.4" cy="142.7" r="5.5"/><circle cx="929.4" cy="133.1" r="5.5"/><circle cx="910.9" cy="135.8" r="5.5"/><circle cx="1130.6" cy="142.9" r="5.5"/><circle cx="1156.5" cy="136.1" r="5.5"/><circle cx="926" cy="145.8" r="5.5"/><circle cx="973.4" cy="143.5" r="5.5"/><circle cx="932.7" cy="158.6" r="5.5"/><circle cx="1050.1" cy="151.9" r="5.5"/><circle cx="1093" cy="143.4" r="5.5"/><circle cx="949.9" cy="141.3" r="5.5"/><circle cx="931.1" cy="142.7" r="5.5"/><circle cx="1051" cy="140.1" r="5.5"/><circle cx="954.4" cy="145.6" r="5.5"/><circle cx="983" cy="132.5" r="5.5"/><circle cx="1010.8" cy="142.7" r="5.5"/><circle cx="940.1" cy="145.9" r="5.5"/><circle cx="917.6" cy="133.5" r="5.5"/><circle cx="1118.7" cy="143.9" r="5.5"/><circle cx="1010.8" cy="150.5" r="5.5"/><circle cx="907.6" cy="149.8" r="5.5"/><circle cx="1014.3" cy="144.4" r="5.5"/><circle cx="1206" cy="136" r="5.5"/><circle cx="981.9" cy="135.3" r="5.5"/><circle cx="1026.6" cy="140.2" r="5.5"/><circle cx="943.9" cy="133.2" r="5.5"/><circle cx="958.4" cy="143.9" r="5.5"/><circle cx="910.2" cy="144.3" r="5.5"/><circle cx="991.7" cy="141.8" r="5.5"/><circle cx="960" cy="152" r="5.5"/><circle cx="992.5" cy="152.1" r="5.5"/><circle cx="916.2" cy="143" r="5.5"/><circle cx="953.1" cy="144.1" r="5.5"/><circle cx="908" cy="141.4" r="5.5"/><circle cx="941.9" cy="147.5" r="5.5"/><circle cx="1146.1" cy="145" r="5.5"/><circle cx="1083.5" cy="143.8" r="5.5"/><circle cx="952.7" cy="143.5" r="5.5"/><circle cx="1205.6" cy="125.5" r="5.5"/><circle cx="994.7" cy="147.9" r="5.5"/><circle cx="952.2" cy="152.4" r="5.5"/><circle cx="1020.2" cy="140.1" r="5.5"/><circle cx="899.8" cy="136.5" r="5.5"/><circle cx="898.4" cy="140.7" r="5.5"/><circle cx="987.9" cy="142.4" r="5.5"/><circle cx="1151.7" cy="128.5" r="5.5"/><circle cx="1016.8" cy="142" r="5.5"/><circle cx="1014" cy="141.9" r="5.5"/><circle cx="1124.9" cy="147.4" r="5.5"/><circle cx="961" cy="139.4" r="5.5"/><circle cx="1140.4" cy="143.3" r="5.5"/><circle cx="1100.2" cy="144.1" r="5.5"/><circle cx="1102.4" cy="139.1" r="5.5"/><circle cx="997.4" cy="149.2" r="5.5"/><circle cx="1131.8" cy="144.9" r="5.5"/><circle cx="996.1" cy="143.2" r="5.5"/><circle cx="1121.8" cy="143.3" r="5.5"/><circle cx="971.2" cy="151.4" r="5.5"/><circle cx="1026.5" cy="139.7" r="5.5"/><circle cx="1013.5" cy="146.8" r="5.5"/><circle cx="910.2" cy="140.6" r="5.5"/><circle cx="1052" cy="147.2" r="5.5"/><circle cx="1024.9" cy="155.1" r="5.5"/><circle cx="1013.3" cy="141.4" r="5.5"/><circle cx="946" cy="142" r="5.5"/><circle cx="990.3" cy="143.1" r="5.5"/><circle cx="1089.8" cy="140.7" r="5.5"/><circle cx="893.6" cy="133.7" r="5.5"/><circle cx="929.9" cy="138.3" r="5.5"/><circle cx="928.6" cy="146.6" r="5.5"/><circle cx="1081.6" cy="133" r="5.5"/><circle cx="909.3" cy="134.4" r="5.5"/><circle cx="971.7" cy="143.5" r="5.5"/><circle cx="1028.4" cy="144.5" r="5.5"/><circle cx="926.3" cy="135.9" r="5.5"/><circle cx="938.8" cy="137.3" r="5.5"/><circle cx="1122.3" cy="147.8" r="5.5"/><circle cx="1027.3" cy="155.7" r="5.5"/><circle cx="1011.8" cy="136.1" r="5.5"/><circle cx="1012.5" cy="143.8" r="5.5"/><circle cx="1147.8" cy="136.1" r="5.5"/><circle cx="938" cy="139.4" r="5.5"/><circle cx="919.2" cy="135.8" r="5.5"/><circle cx="1128" cy="141.2" r="5.5"/><circle cx="1104" cy="109.8" r="5.5"/><circle cx="1056.2" cy="153.9" r="5.5"/><circle cx="945.2" cy="135" r="5.5"/><circle cx="959.9" cy="142.4" r="5.5"/><circle cx="885.9" cy="128.5" r="5.5"/><circle cx="1000.7" cy="137" r="5.5"/><circle cx="1141.9" cy="131" r="5.5"/><circle cx="932.2" cy="133.6" r="5.5"/><circle cx="1025.2" cy="140.7" r="5.5"/><circle cx="898.6" cy="140.8" r="5.5"/><circle cx="949.2" cy="142.1" r="5.5"/><circle cx="917.2" cy="146.3" r="5.5"/><circle cx="924.2" cy="138.2" r="5.5"/><circle cx="945.5" cy="144.8" r="5.5"/><circle cx="987.7" cy="145.1" r="5.5"/><circle cx="955" cy="141.8" r="5.5"/><circle cx="910.5" cy="140.2" r="5.5"/><circle cx="1014.5" cy="142.9" r="5.5"/><circle cx="864.3" cy="129.3" r="5.5"/><circle cx="934.4" cy="134.5" r="5.5"/><circle cx="945" cy="140.9" r="5.5"/><circle cx="1004.1" cy="146.3" r="5.5"/><circle cx="1046.1" cy="137.2" r="5.5"/><circle cx="967.7" cy="138.7" r="5.5"/><circle cx="1083.5" cy="142.5" r="5.5"/><circle cx="1101.3" cy="135.1" r="5.5"/><circle cx="1085.6" cy="137.3" r="5.5"/><circle cx="1050.3" cy="148.2" r="5.5"/><circle cx="993.8" cy="147.9" r="5.5"/><circle cx="913.9" cy="135.2" r="5.5"/><circle cx="978.5" cy="149.2" r="5.5"/><circle cx="953.8" cy="146.3" r="5.5"/><circle cx="1055.4" cy="149.2" r="5.5"/><circle cx="970.4" cy="133" r="5.5"/><circle cx="908.5" cy="143.8" r="5.5"/><circle cx="1029.5" cy="150.6" r="5.5"/><circle cx="948.2" cy="133.7" r="5.5"/><circle cx="990.9" cy="141.5" r="5.5"/><circle cx="991.5" cy="134.3" r="5.5"/><circle cx="927.1" cy="138.1" r="5.5"/><circle cx="960.5" cy="141" r="5.5"/><circle cx="1080" cy="143.7" r="5.5"/><circle cx="1217.5" cy="129.5" r="5.5"/><circle cx="1033.3" cy="157.1" r="5.5"/><circle cx="969.2" cy="150.3" r="5.5"/><circle cx="922.4" cy="146.1" r="5.5"/><circle cx="937.6" cy="137.7" r="5.5"/><circle cx="983.2" cy="145.2" r="5.5"/><circle cx="988.1" cy="140.4" r="5.5"/><circle cx="958.3" cy="150.1" r="5.5"/><circle cx="967.8" cy="148.2" r="5.5"/><circle cx="960" cy="150.8" r="5.5"/><circle cx="948.8" cy="140.6" r="5.5"/><circle cx="885" cy="140" r="5.5"/><circle cx="958" cy="143" r="5.5"/><circle cx="1141" cy="113.7" r="5.5"/><circle cx="1028.2" cy="147.7" r="5.5"/><circle cx="923.5" cy="130.5" r="5.5"/><circle cx="972" cy="148.4" r="5.5"/><circle cx="924.3" cy="138" r="5.5"/><circle cx="1054.3" cy="151" r="5.5"/><circle cx="1030.3" cy="140.2" r="5.5"/><circle cx="1082.9" cy="141.1" r="5.5"/><circle cx="1107" cy="144" r="5.5"/><circle cx="894.9" cy="136.2" r="5.5"/><circle cx="1012.4" cy="143.9" r="5.5"/><circle cx="1130.8" cy="131" r="5.5"/><circle cx="886.3" cy="130" r="5.5"/><circle cx="934.6" cy="149.6" r="5.5"/><circle cx="1038" cy="133.7" r="5.5"/><circle cx="994.4" cy="147.9" r="5.5"/><circle cx="955.5" cy="146.1" r="5.5"/><circle cx="940.9" cy="148.8" r="5.5"/><circle cx="1049.9" cy="145.6" r="5.5"/><circle cx="1010.7" cy="152.3" r="5.5"/><circle cx="977" cy="146.8" r="5.5"/><circle cx="1038.5" cy="154.6" r="5.5"/><circle cx="1101.4" cy="137.4" r="5.5"/><circle cx="978.3" cy="141.3" r="5.5"/><circle cx="1006.7" cy="135.2" r="5.5"/><circle cx="943.3" cy="146.1" r="5.5"/><circle cx="1120.7" cy="153" r="5.5"/><circle cx="1010.5" cy="151.9" r="5.5"/><circle cx="1046.6" cy="146.8" r="5.5"/><circle cx="1010" cy="154.8" r="5.5"/><circle cx="950.5" cy="148" r="5.5"/><circle cx="895.8" cy="138.5" r="5.5"/><circle cx="931.8" cy="143.3" r="5.5"/><circle cx="946.9" cy="147" r="5.5"/><circle cx="1029.5" cy="133.4" r="5.5"/><circle cx="1099" cy="137.4" r="5.5"/><circle cx="950.9" cy="135.6" r="5.5"/><circle cx="896" cy="134.5" r="5.5"/><circle cx="981.4" cy="140.5" r="5.5"/><circle cx="1101.8" cy="140.5" r="5.5"/><circle cx="1014.2" cy="146.4" r="5.5"/><circle cx="1011.9" cy="143.1" r="5.5"/><circle cx="1123.6" cy="150.5" r="5.5"/><circle cx="972.1" cy="139.6" r="5.5"/><circle cx="918.4" cy="134.1" r="5.5"/><circle cx="1142.5" cy="122.6" r="5.5"/><circle cx="943.1" cy="138.7" r="5.5"/><circle cx="972.2" cy="142.4" r="5.5"/><circle cx="948.1" cy="143.7" r="5.5"/><circle cx="1058.1" cy="153" r="5.5"/><circle cx="1011.3" cy="143.9" r="5.5"/><circle cx="1016.2" cy="152.7" r="5.5"/><circle cx="923.7" cy="132.3" r="5.5"/><circle cx="971.7" cy="135.3" r="5.5"/><circle cx="939" cy="137.7" r="5.5"/><circle cx="1105.3" cy="127.9" r="5.5"/><circle cx="916.9" cy="138.3" r="5.5"/><circle cx="895.6" cy="139.4" r="5.5"/><circle cx="917.9" cy="145.1" r="5.5"/><circle cx="948.5" cy="144.5" r="5.5"/><circle cx="1047.6" cy="148" r="5.5"/><circle cx="964.1" cy="146.6" r="5.5"/><circle cx="1123.5" cy="143.4" r="5.5"/><circle cx="1040.3" cy="147.4" r="5.5"/><circle cx="1053.8" cy="147.5" r="5.5"/><circle cx="1104.4" cy="148.4" r="5.5"/><circle cx="1034.2" cy="148.9" r="5.5"/><circle cx="1144.3" cy="137.9" r="5.5"/><circle cx="1059.7" cy="149.3" r="5.5"/><circle cx="1084.8" cy="128.3" r="5.5"/><circle cx="956" cy="145.7" r="5.5"/><circle cx="966.3" cy="131.3" r="5.5"/><circle cx="1086.3" cy="125" r="5.5"/><circle cx="949.2" cy="138.8" r="5.5"/><circle cx="1119.8" cy="139.9" r="5.5"/><circle cx="995.1" cy="146.8" r="5.5"/><circle cx="941.1" cy="137.4" r="5.5"/><circle cx="882.8" cy="134.6" r="5.5"/><circle cx="969" cy="146.9" r="5.5"/><circle cx="913.4" cy="128.7" r="5.5"/><circle cx="1058.7" cy="136.8" r="5.5"/><circle cx="943.8" cy="148.9" r="5.5"/><circle cx="909.1" cy="138.6" r="5.5"/><circle cx="1007.2" cy="158.6" r="5.5"/><circle cx="1004.6" cy="140.2" r="5.5"/><circle cx="1097.5" cy="143.8" r="5.5"/><circle cx="979.9" cy="139.5" r="5.5"/><circle cx="926.7" cy="129.8" r="5.5"/><circle cx="994.1" cy="149.8" r="5.5"/><circle cx="1115.6" cy="138.4" r="5.5"/><circle cx="1053.8" cy="137.9" r="5.5"/><circle cx="981.6" cy="141.7" r="5.5"/><circle cx="955.7" cy="134.7" r="5.5"/><circle cx="1085.3" cy="140.9" r="5.5"/><circle cx="1069.1" cy="136.8" r="5.5"/><circle cx="1008.6" cy="150.2" r="5.5"/><circle cx="896.2" cy="144.9" r="5.5"/><circle cx="1047.3" cy="147.1" r="5.5"/><circle cx="1116.5" cy="140.6" r="5.5"/><circle cx="1120.6" cy="150.5" r="5.5"/><circle cx="986.8" cy="143" r="5.5"/><circle cx="994.2" cy="150.1" r="5.5"/><circle cx="977.3" cy="154.6" r="5.5"/><circle cx="1020.2" cy="150.5" r="5.5"/><circle cx="1083.4" cy="133.9" r="5.5"/><circle cx="919.7" cy="135.9" r="5.5"/><circle cx="1054.7" cy="148" r="5.5"/><circle cx="1006" cy="143.8" r="5.5"/><circle cx="1049.2" cy="148.8" r="5.5"/><circle cx="1078.1" cy="126.8" r="5.5"/><circle cx="958.2" cy="147.4" r="5.5"/><circle cx="1058.5" cy="147.1" r="5.5"/><circle cx="962.5" cy="140.5" r="5.5"/><circle cx="884.4" cy="133.6" r="5.5"/><circle cx="882.3" cy="138.4" r="5.5"/><circle cx="973.9" cy="150.6" r="5.5"/><circle cx="1103.6" cy="135.1" r="5.5"/><circle cx="950.4" cy="136.5" r="5.5"/><circle cx="993.5" cy="148.1" r="5.5"/><circle cx="935.3" cy="139.6" r="5.5"/><circle cx="1048.7" cy="140.4" r="5.5"/></g>
<path clip-path="url(#c2)" d="M865.5 131.4 L869.1 131.9 L872.7 132.5 L876.3 133 L879.9 133.5 L883.5 134 L887.1 134.4 L890.7 134.9 L894.3 135.3 L897.9 135.8 L901.5 136.2 L905.1 136.6 L908.7 137 L912.3 137.4 L915.9 137.7 L919.5 138.1 L923.1 138.4 L926.7 138.8 L930.3 139.1 L933.9 139.4 L937.5 139.8 L941.1 140.1 L944.7 140.4 L948.3 140.7 L951.9 141 L955.5 141.2 L959.1 141.5 L962.7 141.8 L966.3 142 L969.9 142.3 L973.5 142.5 L977.1 142.7 L980.7 142.9 L984.3 143.1 L987.9 143.3 L991.5 143.5 L995.1 143.7 L998.7 143.8 L1002.3 144 L1005.9 144.1 L1009.5 144.2 L1013.1 144.3 L1016.7 144.4 L1020.3 144.4 L1023.9 144.5 L1027.5 144.5 L1031.1 144.5 L1034.7 144.5 L1038.3 144.4 L1041.9 144.4 L1045.5 144.4 L1049.1 144.3 L1052.7 144.2 L1056.3 144.1 L1059.9 144 L1063.5 143.9 L1067.1 143.8 L1070.7 143.6 L1074.3 143.5 L1077.9 143.3 L1081.6 143.1 L1085.2 142.9 L1088.8 142.7 L1092.4 142.5 L1096 142.3 L1099.6 142 L1103.2 141.8 L1106.8 141.5 L1110.4 141.2 L1114 140.9 L1117.6 140.6 L1121.2 140.2 L1124.8 139.9 L1128.4 139.5 L1132 139.1 L1135.6 138.6 L1139.2 138.2 L1142.8 137.7 L1146.4 137.3 L1150 136.8 L1153.6 136.2 L1157.2 135.6 L1160.8 135 L1164.4 134.4 L1168 133.8 L1171.6 133.3 L1175.2 132.7 L1178.8 132.2 L1182.4 131.7 L1186 131.2 L1189.6 130.8 L1193.2 130.3 L1196.8 129.8 L1200.4 129.3 L1204 128.9 L1207.6 128.4 L1211.2 127.9 L1214.8 127.4 L1218.4 126.9 L1222 126.4 L1225.6 125.9 L1229.2 125.5 L1232.8 125 L1236.4 124.5 L1240 124 L1243.6 123.5 L1247.2 123 L1250.8 122.5 L1254.4 122 L1258 121.5 L1261.6 121 L1265.2 120.5 L1268.8 120 L1272.4 119.5 L1276 119 L1279.6 118.6 L1283.2 118.1 L1286.8 117.6 L1290.4 117.2 L1294 116.7 L1294 127.9 L1290.4 128.1 L1286.8 128.3 L1283.2 128.6 L1279.6 128.8 L1276 129.1 L1272.4 129.3 L1268.8 129.6 L1265.2 129.9 L1261.6 130.1 L1258 130.4 L1254.4 130.7 L1250.8 131 L1247.2 131.3 L1243.6 131.5 L1240 131.8 L1236.4 132.1 L1232.8 132.4 L1229.2 132.7 L1225.6 132.9 L1222 133.2 L1218.4 133.5 L1214.8 133.8 L1211.2 134 L1207.6 134.3 L1204 134.5 L1200.4 134.8 L1196.8 135 L1193.2 135.3 L1189.6 135.6 L1186 135.8 L1182.4 136.1 L1178.8 136.4 L1175.2 136.7 L1171.6 137 L1168 137.3 L1164.4 137.6 L1160.8 138 L1157.2 138.4 L1153.6 138.8 L1150 139.2 L1146.4 139.7 L1142.8 140.1 L1139.2 140.6 L1135.6 141 L1132 141.5 L1128.4 141.9 L1124.8 142.3 L1121.2 142.6 L1117.6 143 L1114 143.3 L1110.4 143.6 L1106.8 143.9 L1103.2 144.2 L1099.6 144.4 L1096 144.7 L1092.4 144.9 L1088.8 145.1 L1085.2 145.3 L1081.6 145.5 L1077.9 145.7 L1074.3 145.9 L1070.7 146 L1067.1 146.2 L1063.5 146.3 L1059.9 146.4 L1056.3 146.5 L1052.7 146.6 L1049.1 146.7 L1045.5 146.8 L1041.9 146.8 L1038.3 146.8 L1034.7 146.9 L1031.1 146.9 L1027.5 146.9 L1023.9 146.9 L1020.3 146.8 L1016.7 146.8 L1013.1 146.7 L1009.5 146.6 L1005.9 146.5 L1002.3 146.4 L998.7 146.2 L995.1 146.1 L991.5 145.9 L987.9 145.7 L984.3 145.5 L980.7 145.3 L977.1 145.1 L973.5 144.9 L969.9 144.7 L966.3 144.4 L962.7 144.2 L959.1 143.9 L955.5 143.6 L951.9 143.4 L948.3 143.1 L944.7 142.8 L941.1 142.5 L937.5 142.2 L933.9 141.8 L930.3 141.5 L926.7 141.2 L923.1 140.8 L919.5 140.5 L915.9 140.1 L912.3 139.8 L908.7 139.4 L905.1 139 L901.5 138.6 L897.9 138.2 L894.3 137.7 L890.7 137.3 L887.1 136.8 L883.5 136.4 L879.9 135.9 L876.3 135.4 L872.7 134.9 L869.1 134.3 L865.5 133.8Z" fill="#999" fill-opacity="0.3"/>
<path d="M865.5 132.6 L869.1 133.1 L872.7 133.7 L876.3 134.2 L879.9 134.7 L883.5 135.2 L887.1 135.6 L890.7 136.1 L894.3 136.5 L897.9 137 L901.5 137.4 L905.1 137.8 L908.7 138.2 L912.3 138.6 L915.9 138.9 L919.5 139.3 L923.1 139.6 L926.7 140 L930.3 140.3 L933.9 140.6 L937.5 141 L941.1 141.3 L944.7 141.6 L948.3 141.9 L951.9 142.2 L955.5 142.4 L959.1 142.7 L962.7 143 L966.3 143.2 L969.9 143.5 L973.5 143.7 L977.1 143.9 L980.7 144.1 L984.3 144.3 L987.9 144.5 L991.5 144.7 L995.1 144.9 L998.7 145 L1002.3 145.2 L1005.9 145.3 L1009.5 145.4 L1013.1 145.5 L1016.7 145.6 L1020.3 145.6 L1023.9 145.7 L1027.5 145.7 L1031.1 145.7 L1034.7 145.7 L1038.3 145.6 L1041.9 145.6 L1045.5 145.6 L1049.1 145.5 L1052.7 145.4 L1056.3 145.3 L1059.9 145.2 L1063.5 145.1 L1067.1 145 L1070.7 144.8 L1074.3 144.7 L1077.9 144.5 L1081.6 144.3 L1085.2 144.1 L1088.8 143.9 L1092.4 143.7 L1096 143.5 L1099.6 143.2 L1103.2 143 L1106.8 142.7 L1110.4 142.4 L1114 142.1 L1117.6 141.8 L1121.2 141.4 L1124.8 141.1 L1128.4 140.7 L1132 140.3 L1135.6 139.8 L1139.2 139.4 L1142.8 138.9 L1146.4 138.5 L1150 138 L1153.6 137.5 L1157.2 137 L1160.8 136.5 L1164.4 136 L1168 135.6 L1171.6 135.1 L1175.2 134.7 L1178.8 134.3 L1182.4 133.9 L1186 133.5 L1189.6 133.2 L1193.2 132.8 L1196.8 132.4 L1200.4 132.1 L1204 131.7 L1207.6 131.3 L1211.2 131 L1214.8 130.6 L1218.4 130.2 L1222 129.8 L1225.6 129.4 L1229.2 129.1 L1232.8 128.7 L1236.4 128.3 L1240 127.9 L1243.6 127.5 L1247.2 127.1 L1250.8 126.7 L1254.4 126.3 L1258 125.9 L1261.6 125.6 L1265.2 125.2 L1268.8 124.8 L1272.4 124.4 L1276 124.1 L1279.6 123.7 L1283.2 123.3 L1286.8 123 L1290.4 122.6 L1294 122.3" stroke="#32a373" stroke-width="4.55" fill="none"/>
<path d="M843.3 141.9H1316.2" stroke="#000" stroke-width="2.85" stroke-dasharray="11.38 11.38" fill="none"/>
<text x="830.9" y="124.5" font-size="26.67" fill="#6f6f6f" text-anchor="end">5000</text>
<text x="830.9" y="151.2" font-size="26.67" fill="#6f6f6f" text-anchor="end">0</text>
<text x="830.9" y="177.8" font-size="26.67" fill="#6f6f6f" text-anchor="end">-5000</text>
<text x="830.9" y="204.5" font-size="26.67" fill="#6f6f6f" text-anchor="end">-10000</text>
<text x="971.1" y="232.5" font-size="26.67" fill="#6f6f6f" text-anchor="middle">10000</text>
<text x="1165.7" y="232.5" font-size="26.67" fill="#6f6f6f" text-anchor="middle">20000</text>
<text x="1080" y="273" font-size="29.33" fill="#3c3c3c" text-anchor="middle">Fitted values</text>
<text transform="translate(728.1 151.8) rotate(-90)" font-size="29.33" fill="#3c3c3c" text-anchor="middle">Residuals</text>
<text x="707.4" y="51.2" font-size="32" fill="#000" text-anchor="start">Linearity</text>
<text x="707.4" y="84.6" font-size="26.67" fill="#000" text-anchor="start">Reference line should be flat and horizontal</text>
<clipPath id="c3"><rect x="208.4" y="427.4" width="472.6" height="97.39999999999998"/></clipPath>
<path d="M239.5 427.4V524.8M336.9 427.4V524.8M434.3 427.4V524.8M531.7 427.4V524.8M629.1 427.4V524.8M208.4 520.2H681M208.4 504.2H681M208.4 488.1H681M208.4 472.1H681M208.4 456H681M208.4 440H681" stroke="#e2e2e2" stroke-width="2.3" fill="none"/>
<path d="M208.4 427.4V526.0999999999999M207.1 524.8H681" stroke="#c0c0c0" stroke-width="2.6" fill="none"/>
<g clip-path="url(#c3)" fill="#1a5b9d" fill-opacity="0.8"><circle cx="314.1" cy="500.9" r="5.5"/><circle cx="247.6" cy="483" r="5.5"/><circle cx="247.2" cy="507.9" r="5.5"/><circle cx="340" cy="511.7" r="5.5"/><circle cx="363.3" cy="516.3" r="5.5"/><circle cx="306.9" cy="483.8" r="5.5"/><circle cx="351" cy="495.4" r="5.5"/><circle cx="384" cy="483" r="5.5"/><circle cx="323.2" cy="513.5" r="5.5"/><circle cx="309.6" cy="479.3" r="5.5"/><circle cx="275.9" cy="497.2" r="5.5"/><circle cx="521.7" cy="480.3" r="5.5"/><circle cx="305.9" cy="468.9" r="5.5"/><circle cx="487.4" cy="485.8" r="5.5"/><circle cx="419.4" cy="503.5" r="5.5"/><circle cx="315.5" cy="497.7" r="5.5"/><circle cx="480.7" cy="503.1" r="5.5"/><circle cx="289.9" cy="506.4" r="5.5"/><circle cx="343.9" cy="497.9" r="5.5"/><circle cx="334.4" cy="510.5" r="5.5"/><circle cx="292.7" cy="479" r="5.5"/><circle cx="570" cy="493" r="5.5"/><circle cx="492.3" cy="485.7" r="5.5"/><circle cx="299.4" cy="487.5" r="5.5"/><circle cx="294.3" cy="484.4" r="5.5"/><circle cx="489.2" cy="496.6" r="5.5"/><circle cx="512.3" cy="500.9" r="5.5"/><circle cx="415.2" cy="487.9" r="5.5"/><circle cx="315.2" cy="483.6" r="5.5"/><circle cx="338.6" cy="485.2" r="5.5"/><circle cx="383" cy="506.8" r="5.5"/><circle cx="340.1" cy="490.6" r="5.5"/><circle cx="300.2" cy="510.5" r="5.5"/><circle cx="281.6" cy="476.2" r="5.5"/><circle cx="362" cy="487.1" r="5.5"/><circle cx="435.6" cy="498.8" r="5.5"/><circle cx="363.1" cy="501.6" r="5.5"/><circle cx="434.1" cy="478.1" r="5.5"/><circle cx="414.3" cy="489" r="5.5"/><circle cx="375" cy="493" r="5.5"/><circle cx="345" cy="499.4" r="5.5"/><circle cx="469.6" cy="498.4" r="5.5"/><circle cx="326" cy="485.5" r="5.5"/><circle cx="320.5" cy="488.9" r="5.5"/><circle cx="313.6" cy="491.1" r="5.5"/><circle cx="389.7" cy="481.1" r="5.5"/><circle cx="279.3" cy="489.7" r="5.5"/><circle cx="409.3" cy="492.3" r="5.5"/><circle cx="268.7" cy="509.9" r="5.5"/><circle cx="445.1" cy="491.7" r="5.5"/><circle cx="316.1" cy="485.5" r="5.5"/><circle cx="380.8" cy="499.5" r="5.5"/><circle cx="278.4" cy="491.2" r="5.5"/><circle cx="318.9" cy="487.1" r="5.5"/><circle cx="509.5" cy="505.2" r="5.5"/><circle cx="354" cy="504.7" r="5.5"/><circle cx="306.3" cy="487.9" r="5.5"/><circle cx="504.6" cy="507.4" r="5.5"/><circle cx="355.6" cy="503.2" r="5.5"/><circle cx="272.9" cy="500.8" r="5.5"/><circle cx="408.1" cy="495.4" r="5.5"/><circle cx="303.7" cy="500.3" r="5.5"/><circle cx="314.7" cy="503.9" r="5.5"/><circle cx="332.9" cy="488.6" r="5.5"/><circle cx="363.7" cy="494.6" r="5.5"/><circle cx="396.8" cy="493.9" r="5.5"/><circle cx="345.2" cy="491.4" r="5.5"/><circle cx="334.2" cy="485.3" r="5.5"/><circle cx="492" cy="439.5" r="5.5"/><circle cx="423.6" cy="493.5" r="5.5"/><circle cx="396.7" cy="505.8" r="5.5"/><circle cx="306.6" cy="486.8" r="5.5"/><circle cx="366.6" cy="494.5" r="5.5"/><circle cx="456.2" cy="495.5" r="5.5"/><circle cx="298.7" cy="495.7" r="5.5"/><circle cx="367.1" cy="491.8" r="5.5"/><circle cx="330.6" cy="488.7" r="5.5"/><circle cx="339.5" cy="492.9" r="5.5"/><circle cx="291.8" cy="505.2" r="5.5"/><circle cx="454.7" cy="477.4" r="5.5"/><circle cx="314.7" cy="487.9" r="5.5"/><circle cx="319.9" cy="486.7" r="5.5"/><circle cx="469.9" cy="487.4" r="5.5"/><circle cx="349.4" cy="498.1" r="5.5"/><circle cx="282.1" cy="505.2" r="5.5"/><circle cx="367.7" cy="508" r="5.5"/><circle cx="314.6" cy="486.3" r="5.5"/><circle cx="252.3" cy="511.8" r="5.5"/><circle cx="328" cy="488.4" r="5.5"/><circle cx="299.3" cy="499.9" r="5.5"/><circle cx="357.3" cy="494.6" r="5.5"/><circle cx="328.2" cy="487.1" r="5.5"/><circle cx="308.5" cy="478.5" r="5.5"/><circle cx="368.2" cy="502" r="5.5"/><circle cx="412.7" cy="482.2" r="5.5"/><circle cx="359.7" cy="486.3" r="5.5"/><circle cx="268.9" cy="488.7" r="5.5"/><circle cx="346.4" cy="477.5" r="5.5"/><circle cx="314.1" cy="485.3" r="5.5"/><circle cx="305.6" cy="484.6" r="5.5"/><circle cx="270.2" cy="475.7" r="5.5"/><circle cx="355.9" cy="487.1" r="5.5"/><circle cx="372" cy="505.2" r="5.5"/><circle cx="305" cy="500.9" r="5.5"/><circle cx="281.3" cy="499.6" r="5.5"/><circle cx="273.4" cy="482.5" r="5.5"/><circle cx="394.1" cy="497.8" r="5.5"/><circle cx="338.9" cy="488.6" r="5.5"/><circle cx="468.5" cy="437" r="5.5"/><circle cx="355.6" cy="501.3" r="5.5"/><circle cx="397" cy="497.3" r="5.5"/><circle cx="251.6" cy="511.1" r="5.5"/><circle cx="412.4" cy="499.4" r="5.5"/><circle cx="275.1" cy="474.9" r="5.5"/><circle cx="325.8" cy="497.3" r="5.5"/><circle cx="276.7" cy="492.3" r="5.5"/><circle cx="496.1" cy="489.3" r="5.5"/><circle cx="250.7" cy="497.8" r="5.5"/><circle cx="378.9" cy="515.1" r="5.5"/><circle cx="379.1" cy="513" r="5.5"/><circle cx="343.3" cy="478.4" r="5.5"/><circle cx="403.1" cy="488.8" r="5.5"/><circle cx="377.5" cy="507.6" r="5.5"/><circle cx="272.8" cy="491.4" r="5.5"/><circle cx="300.9" cy="489.9" r="5.5"/><circle cx="319.3" cy="483.3" r="5.5"/><circle cx="297.2" cy="515" r="5.5"/><circle cx="384.6" cy="503.9" r="5.5"/><circle cx="282.1" cy="492" r="5.5"/><circle cx="303" cy="497.3" r="5.5"/><circle cx="249.2" cy="493.9" r="5.5"/><circle cx="282.8" cy="498.9" r="5.5"/><circle cx="376.1" cy="489.7" r="5.5"/><circle cx="325.5" cy="469.6" r="5.5"/><circle cx="500.4" cy="485.9" r="5.5"/><circle cx="495.7" cy="490.1" r="5.5"/><circle cx="564" cy="507" r="5.5"/><circle cx="453.6" cy="494.6" r="5.5"/><circle cx="480.6" cy="487.6" r="5.5"/><circle cx="386.6" cy="502.4" r="5.5"/><circle cx="319.4" cy="478.8" r="5.5"/><circle cx="496.4" cy="504.9" r="5.5"/><circle cx="448.5" cy="487.9" r="5.5"/><circle cx="316.5" cy="499.5" r="5.5"/><circle cx="485.6" cy="509.2" r="5.5"/><circle cx="325.8" cy="506.1" r="5.5"/><circle cx="466.9" cy="482.9" r="5.5"/><circle cx="336.2" cy="497.6" r="5.5"/><circle cx="320.6" cy="508.6" r="5.5"/><circle cx="350.7" cy="505.1" r="5.5"/><circle cx="315.1" cy="507.3" r="5.5"/><circle cx="332.7" cy="494.7" r="5.5"/><circle cx="472.9" cy="489.9" r="5.5"/><circle cx="279.7" cy="488.2" r="5.5"/><circle cx="358.1" cy="501.9" r="5.5"/><circle cx="292.2" cy="497.6" r="5.5"/><circle cx="449.9" cy="485.5" r="5.5"/><circle cx="374.1" cy="497.1" r="5.5"/><circle cx="509.4" cy="490.7" r="5.5"/><circle cx="307.8" cy="502.4" r="5.5"/><circle cx="360.8" cy="485.6" r="5.5"/><circle cx="267.9" cy="508.9" r="5.5"/><circle cx="359.4" cy="483.5" r="5.5"/><circle cx="315.7" cy="515.4" r="5.5"/><circle cx="285.2" cy="510.3" r="5.5"/><circle cx="321" cy="485.4" r="5.5"/><circle cx="277.5" cy="510.1" r="5.5"/><circle cx="308.3" cy="499" r="5.5"/><circle cx="405.8" cy="486.1" r="5.5"/><circle cx="384.5" cy="500.8" r="5.5"/><circle cx="360.7" cy="496.7" r="5.5"/><circle cx="483.3" cy="493.6" r="5.5"/><circle cx="352.9" cy="509.3" r="5.5"/><circle cx="280.8" cy="510.1" r="5.5"/><circle cx="322.2" cy="483" r="5.5"/><circle cx="510.7" cy="485.5" r="5.5"/><circle cx="493.2" cy="484.1" r="5.5"/><circle cx="339.9" cy="496.1" r="5.5"/><circle cx="311" cy="501.5" r="5.5"/><circle cx="395.5" cy="485.7" r="5.5"/><circle cx="494.6" cy="474.4" r="5.5"/><circle cx="495.1" cy="479.9" r="5.5"/><circle cx="463.9" cy="483" r="5.5"/><circle cx="311.4" cy="511.9" r="5.5"/><circle cx="415.4" cy="492.2" r="5.5"/><circle cx="363" cy="511.2" r="5.5"/><circle cx="340.5" cy="508.1" r="5.5"/><circle cx="467.6" cy="472" r="5.5"/><circle cx="291.3" cy="503" r="5.5"/><circle cx="483.1" cy="487.9" r="5.5"/><circle cx="390.6" cy="500.6" r="5.5"/><circle cx="438.6" cy="497.8" r="5.5"/><circle cx="335.1" cy="514.5" r="5.5"/><circle cx="373.6" cy="514.8" r="5.5"/><circle cx="285.1" cy="493.4" r="5.5"/><circle cx="291" cy="489.2" r="5.5"/><circle cx="295.4" cy="485.5" r="5.5"/><circle cx="353.3" cy="495.9" r="5.5"/><circle cx="455.9" cy="500.7" r="5.5"/><circle cx="496.9" cy="506.6" r="5.5"/><circle cx="343.3" cy="514.3" r="5.5"/><circle cx="337" cy="513.7" r="5.5"/><circle cx="308.9" cy="514.9" r="5.5"/><circle cx="295.8" cy="508.6" r="5.5"/><circle cx="332.5" cy="498.5" r="5.5"/><circle cx="471" cy="454" r="5.5"/><circle cx="407.9" cy="491.2" r="5.5"/><circle cx="281.2" cy="504.8" r="5.5"/><circle cx="399.1" cy="508.8" r="5.5"/><circle cx="356.4" cy="477.3" r="5.5"/><circle cx="307.3" cy="492.4" r="5.5"/><circle cx="264.3" cy="483.5" r="5.5"/><circle cx="516" cy="492.4" r="5.5"/><circle cx="389.1" cy="516.5" r="5.5"/><circle cx="441.8" cy="469.9" r="5.5"/><circle cx="390.2" cy="512" r="5.5"/><circle cx="360" cy="499.9" r="5.5"/><circle cx="400.8" cy="507" r="5.5"/><circle cx="303" cy="480.6" r="5.5"/><circle cx="328.5" cy="513.9" r="5.5"/><circle cx="371.7" cy="475" r="5.5"/><circle cx="261.5" cy="500.7" r="5.5"/><circle cx="297.8" cy="496.6" r="5.5"/><circle cx="402.9" cy="495.4" r="5.5"/><circle cx="404.5" cy="502" r="5.5"/><circle cx="311.4" cy="467" r="5.5"/><circle cx="366.5" cy="478.6" r="5.5"/><circle cx="336.7" cy="512.7" r="5.5"/><circle cx="413.6" cy="500" r="5.5"/><circle cx="291.5" cy="502.2" r="5.5"/><circle cx="357" cy="455" r="5.5"/><circle cx="355.5" cy="496.4" r="5.5"/><circle cx="266.8" cy="495.3" r="5.5"/><circle cx="244.6" cy="504.3" r="5.5"/><circle cx="253.4" cy="480.2" r="5.5"/><circle cx="260.7" cy="512.5" r="5.5"/><circle cx="313.1" cy="514.1" r="5.5"/><circle cx="416.5" cy="489.7" r="5.5"/><circle cx="321.7" cy="504.4" r="5.5"/><circle cx="290.2" cy="470" r="5.5"/><circle cx="362.5" cy="449.5" r="5.5"/><circle cx="357.5" cy="490.6" r="5.5"/><circle cx="483.8" cy="506.1" r="5.5"/><circle cx="313.2" cy="506.3" r="5.5"/><circle cx="369.9" cy="492.6" r="5.5"/><circle cx="256.4" cy="503.4" r="5.5"/><circle cx="296.4" cy="497.1" r="5.5"/><circle cx="325.9" cy="493.2" r="5.5"/><circle cx="332.7" cy="473.7" r="5.5"/><circle cx="259.1" cy="500.7" r="5.5"/><circle cx="289.1" cy="508.4" r="5.5"/><circle cx="300.3" cy="494.5" r="5.5"/><circle cx="423.8" cy="494.7" r="5.5"/><circle cx="309.3" cy="493" r="5.5"/><circle cx="234" cy="488" r="5.5"/><circle cx="435.1" cy="491.2" r="5.5"/><circle cx="376.8" cy="491.8" r="5.5"/><circle cx="288.5" cy="498.7" r="5.5"/><circle cx="284.7" cy="500.3" r="5.5"/><circle cx="372.2" cy="479.9" r="5.5"/><circle cx="433.3" cy="496.7" r="5.5"/><circle cx="457.8" cy="513.8" r="5.5"/><circle cx="332.3" cy="482.7" r="5.5"/><circle cx="494.6" cy="486.1" r="5.5"/><circle cx="416.9" cy="491.5" r="5.5"/><circle cx="387" cy="502.6" r="5.5"/><circle cx="332.7" cy="493.3" r="5.5"/><circle cx="377.2" cy="478.2" r="5.5"/><circle cx="279.4" cy="479.5" r="5.5"/><circle cx="329.4" cy="495.8" r="5.5"/><circle cx="469.1" cy="495.8" r="5.5"/><circle cx="302.9" cy="496.6" r="5.5"/><circle cx="308.9" cy="508.9" r="5.5"/><circle cx="512.2" cy="510.6" r="5.5"/><circle cx="266" cy="515.3" r="5.5"/><circle cx="418" cy="489.8" r="5.5"/><circle cx="362.6" cy="471.6" r="5.5"/><circle cx="319" cy="480.8" r="5.5"/><circle cx="348.1" cy="510.4" r="5.5"/><circle cx="290.4" cy="503.9" r="5.5"/><circle cx="315.9" cy="460.5" r="5.5"/><circle cx="288" cy="502.5" r="5.5"/><circle cx="464.7" cy="504.6" r="5.5"/><circle cx="364.2" cy="496.5" r="5.5"/><circle cx="490" cy="480" r="5.5"/><circle cx="288.6" cy="507.5" r="5.5"/><circle cx="301.7" cy="503.1" r="5.5"/><circle cx="369.6" cy="494.4" r="5.5"/><circle cx="351.5" cy="502.5" r="5.5"/><circle cx="249" cy="500.3" r="5.5"/><circle cx="478.9" cy="479.8" r="5.5"/><circle cx="330.1" cy="502.9" r="5.5"/><circle cx="319.5" cy="501" r="5.5"/><circle cx="300.8" cy="491.8" r="5.5"/><circle cx="393.9" cy="503.3" r="5.5"/><circle cx="460.5" cy="483" r="5.5"/><circle cx="487.5" cy="484.5" r="5.5"/><circle cx="266.9" cy="497.4" r="5.5"/><circle cx="330.4" cy="475.2" r="5.5"/><circle cx="315.1" cy="499.2" r="5.5"/><circle cx="329" cy="479.7" r="5.5"/><circle cx="400.9" cy="491.6" r="5.5"/><circle cx="326.9" cy="482.3" r="5.5"/><circle cx="303" cy="514.4" r="5.5"/><circle cx="504.4" cy="497.2" r="5.5"/><circle cx="379.8" cy="510.5" r="5.5"/><circle cx="318.3" cy="492" r="5.5"/><circle cx="314.4" cy="493.9" r="5.5"/><circle cx="301" cy="482" r="5.5"/><circle cx="491.8" cy="507.4" r="5.5"/><circle cx="364.1" cy="491.3" r="5.5"/><circle cx="245.2" cy="497.2" r="5.5"/><circle cx="511.6" cy="502.5" r="5.5"/><circle cx="302.3" cy="487.7" r="5.5"/><circle cx="659.6" cy="453.7" r="5.5"/><circle cx="274.5" cy="512.2" r="5.5"/><circle cx="284.1" cy="496.8" r="5.5"/><circle cx="321.7" cy="482.7" r="5.5"/><circle cx="394.6" cy="482.6" r="5.5"/><circle cx="278.9" cy="504.1" r="5.5"/><circle cx="510.4" cy="492.2" r="5.5"/><circle cx="417.1" cy="477" r="5.5"/><circle cx="463.1" cy="499.1" r="5.5"/><circle cx="298.4" cy="496.2" r="5.5"/><circle cx="313.8" cy="511.1" r="5.5"/><circle cx="458" cy="499.8" r="5.5"/><circle cx="322.1" cy="492" r="5.5"/><circle cx="321.7" cy="497.8" r="5.5"/><circle cx="308.2" cy="499" r="5.5"/><circle cx="306.1" cy="509.4" r="5.5"/><circle cx="388" cy="505" r="5.5"/><circle cx="289.2" cy="503.5" r="5.5"/><circle cx="317.2" cy="485.1" r="5.5"/><circle cx="298.9" cy="483.4" r="5.5"/><circle cx="414.1" cy="498.4" r="5.5"/><circle cx="288.1" cy="490.9" r="5.5"/><circle cx="307.4" cy="491.3" r="5.5"/><circle cx="318.6" cy="513.2" r="5.5"/><circle cx="353.1" cy="497.5" r="5.5"/><circle cx="372.2" cy="500" r="5.5"/><circle cx="501" cy="479.5" r="5.5"/><circle cx="291.8" cy="507.6" r="5.5"/><circle cx="312.3" cy="490.1" r="5.5"/><circle cx="391.6" cy="496.3" r="5.5"/><circle cx="482.8" cy="476" r="5.5"/><circle cx="462.5" cy="516.3" r="5.5"/><circle cx="481.6" cy="506.1" r="5.5"/><circle cx="344.9" cy="516.6" r="5.5"/><circle cx="322" cy="486.2" r="5.5"/><circle cx="273.9" cy="487.5" r="5.5"/><circle cx="329.6" cy="509.2" r="5.5"/><circle cx="395.9" cy="493.6" r="5.5"/><circle cx="492.7" cy="487.9" r="5.5"/><circle cx="257.6" cy="506.9" r="5.5"/><circle cx="329.4" cy="494.9" r="5.5"/><circle cx="308.6" cy="499.4" r="5.5"/><circle cx="505.1" cy="499.1" r="5.5"/><circle cx="338.9" cy="497.8" r="5.5"/><circle cx="270" cy="514.4" r="5.5"/><circle cx="309.7" cy="481.9" r="5.5"/><circle cx="510.1" cy="484.7" r="5.5"/><circle cx="302.1" cy="496" r="5.5"/><circle cx="292.9" cy="495.9" r="5.5"/><circle cx="304.1" cy="502.3" r="5.5"/><circle cx="276.7" cy="487.5" r="5.5"/><circle cx="321" cy="513.4" r="5.5"/><circle cx="309.3" cy="503.3" r="5.5"/><circle cx="318" cy="504.2" r="5.5"/><circle cx="445.8" cy="502.1" r="5.5"/><circle cx="377.7" cy="499.2" r="5.5"/><circle cx="265.8" cy="492.6" r="5.5"/><circle cx="371" cy="503.1" r="5.5"/><circle cx="415.4" cy="489.7" r="5.5"/><circle cx="303.2" cy="484.2" r="5.5"/><circle cx="292.1" cy="486.9" r="5.5"/><circle cx="396.9" cy="495.5" r="5.5"/><circle cx="368.5" cy="516.7" r="5.5"/><circle cx="357.5" cy="484.7" r="5.5"/><circle cx="302.8" cy="480.6" r="5.5"/><circle cx="350.7" cy="488.8" r="5.5"/><circle cx="413.5" cy="499.5" r="5.5"/><circle cx="292.5" cy="484.4" r="5.5"/><circle cx="371.4" cy="487.8" r="5.5"/><circle cx="371" cy="489.5" r="5.5"/><circle cx="303.7" cy="491.1" r="5.5"/><circle cx="280.7" cy="490.5" r="5.5"/><circle cx="503.8" cy="497.7" r="5.5"/><circle cx="279.4" cy="507.8" r="5.5"/><circle cx="334.3" cy="508.9" r="5.5"/><circle cx="315.9" cy="496" r="5.5"/><circle cx="406.4" cy="479.8" r="5.5"/><circle cx="256.7" cy="484.5" r="5.5"/><circle cx="261.6" cy="490.4" r="5.5"/><circle cx="485" cy="485.7" r="5.5"/><circle cx="260.9" cy="492.9" r="5.5"/><circle cx="258.6" cy="488.6" r="5.5"/><circle cx="319.1" cy="490.2" r="5.5"/><circle cx="324.5" cy="474.8" r="5.5"/><circle cx="334.3" cy="473.6" r="5.5"/><circle cx="448.6" cy="475.6" r="5.5"/><circle cx="297.9" cy="488.7" r="5.5"/><circle cx="311.2" cy="482.8" r="5.5"/><circle cx="313.9" cy="484.9" r="5.5"/><circle cx="300.5" cy="514.7" r="5.5"/><circle cx="310.2" cy="507.4" r="5.5"/><circle cx="350.1" cy="498.4" r="5.5"/><circle cx="325" cy="494.4" r="5.5"/><circle cx="350" cy="450" r="5.5"/><circle cx="458.8" cy="499.3" r="5.5"/><circle cx="474" cy="492" r="5.5"/><circle cx="376.1" cy="488.3" r="5.5"/><circle cx="310.5" cy="507.6" r="5.5"/><circle cx="249.6" cy="490.6" r="5.5"/><circle cx="422.6" cy="492.8" r="5.5"/><circle cx="391.5" cy="500.5" r="5.5"/><circle cx="263.2" cy="488.7" r="5.5"/><circle cx="404.6" cy="498.3" r="5.5"/><circle cx="422.8" cy="504.4" r="5.5"/><circle cx="400.6" cy="480.2" r="5.5"/><circle cx="521.7" cy="503.2" r="5.5"/><circle cx="472.7" cy="491.7" r="5.5"/><circle cx="331.5" cy="495.2" r="5.5"/><circle cx="503" cy="489" r="5.5"/><circle cx="338.4" cy="507" r="5.5"/><circle cx="256.4" cy="505.7" r="5.5"/><circle cx="352.5" cy="483.2" r="5.5"/><circle cx="342.3" cy="485.7" r="5.5"/><circle cx="392.1" cy="507.2" r="5.5"/><circle cx="279.6" cy="507.8" r="5.5"/><circle cx="410" cy="494.1" r="5.5"/><circle cx="471.2" cy="477.9" r="5.5"/><circle cx="452.5" cy="474.8" r="5.5"/><circle cx="507" cy="496.3" r="5.5"/><circle cx="344.7" cy="496.8" r="5.5"/><circle cx="258" cy="507.9" r="5.5"/><circle cx="333.3" cy="501.6" r="5.5"/><circle cx="403.2" cy="490.9" r="5.5"/><circle cx="336.8" cy="490.2" r="5.5"/><circle cx="492.1" cy="484.2" r="5.5"/><circle cx="331.4" cy="490.3" r="5.5"/><circle cx="396.2" cy="496.8" r="5.5"/><circle cx="509.2" cy="488.3" r="5.5"/><circle cx="312.6" cy="494.7" r="5.5"/><circle cx="514.2" cy="492.9" r="5.5"/><circle cx="247" cy="514.8" r="5.5"/><circle cx="393.7" cy="496.4" r="5.5"/><circle cx="281.9" cy="487.3" r="5.5"/><circle cx="346.9" cy="491.9" r="5.5"/><circle cx="487" cy="512.8" r="5.5"/><circle cx="299.7" cy="513" r="5.5"/><circle cx="315.6" cy="474.9" r="5.5"/><circle cx="374.7" cy="490.6" r="5.5"/><circle cx="478.4" cy="479.1" r="5.5"/><circle cx="505.6" cy="481.2" r="5.5"/><circle cx="323.8" cy="497.2" r="5.5"/><circle cx="359.2" cy="489.9" r="5.5"/><circle cx="296" cy="485.7" r="5.5"/><circle cx="282.9" cy="490.1" r="5.5"/><circle cx="394.6" cy="500.7" r="5.5"/><circle cx="395" cy="489.6" r="5.5"/><circle cx="323.4" cy="482.7" r="5.5"/><circle cx="321.7" cy="481.6" r="5.5"/><circle cx="274.2" cy="498.4" r="5.5"/><circle cx="473.2" cy="497.8" r="5.5"/><circle cx="512.2" cy="488" r="5.5"/><circle cx="501.7" cy="493.8" r="5.5"/><circle cx="277" cy="495.2" r="5.5"/><circle cx="356.6" cy="498" r="5.5"/><circle cx="417.1" cy="498.7" r="5.5"/><circle cx="452" cy="487.2" r="5.5"/><circle cx="310" cy="499.5" r="5.5"/><circle cx="296.5" cy="489.8" r="5.5"/><circle cx="571.5" cy="473" r="5.5"/><circle cx="413.7" cy="487.8" r="5.5"/><circle cx="425.7" cy="501.5" r="5.5"/><circle cx="351.2" cy="494.8" r="5.5"/><circle cx="375.2" cy="502.7" r="5.5"/><circle cx="407.8" cy="489.2" r="5.5"/><circle cx="658.5" cy="461" r="5.5"/><circle cx="326.5" cy="514" r="5.5"/><circle cx="267.2" cy="490.6" r="5.5"/><circle cx="506" cy="458.5" r="5.5"/><circle cx="361.5" cy="482.5" r="5.5"/><circle cx="320.1" cy="506.4" r="5.5"/><circle cx="261.1" cy="485.3" r="5.5"/><circle cx="313.9" cy="512.3" r="5.5"/><circle cx="305" cy="497.7" r="5.5"/><circle cx="275" cy="506.6" r="5.5"/><circle cx="283.4" cy="503" r="5.5"/><circle cx="386.6" cy="494.3" r="5.5"/><circle cx="342" cy="483.4" r="5.5"/><circle cx="283.8" cy="511.6" r="5.5"/><circle cx="464.2" cy="478.9" r="5.5"/><circle cx="517.1" cy="483" r="5.5"/><circle cx="279.4" cy="493.9" r="5.5"/><circle cx="502.4" cy="495.2" r="5.5"/><circle cx="260" cy="493.9" r="5.5"/><circle cx="277.1" cy="493.3" r="5.5"/><circle cx="293.4" cy="475.3" r="5.5"/><circle cx="251.6" cy="500.2" r="5.5"/><circle cx="304.7" cy="500.3" r="5.5"/><circle cx="250.8" cy="510" r="5.5"/><circle cx="353.8" cy="513.5" r="5.5"/><circle cx="250.3" cy="502.5" r="5.5"/><circle cx="277.9" cy="487.5" r="5.5"/><circle cx="364.8" cy="502.2" r="5.5"/><circle cx="458.1" cy="500.7" r="5.5"/><circle cx="465.3" cy="509.1" r="5.5"/><circle cx="398.4" cy="507.8" r="5.5"/><circle cx="358.5" cy="507.8" r="5.5"/><circle cx="292.3" cy="470.9" r="5.5"/><circle cx="321.5" cy="493.8" r="5.5"/><circle cx="400" cy="499.4" r="5.5"/><circle cx="508.7" cy="492.7" r="5.5"/><circle cx="323" cy="498.1" r="5.5"/><circle cx="317.2" cy="500.5" r="5.5"/><circle cx="326.9" cy="488.5" r="5.5"/><circle cx="307.1" cy="493.6" r="5.5"/><circle cx="306.5" cy="496.6" r="5.5"/><circle cx="487.4" cy="484.8" r="5.5"/><circle cx="412.3" cy="492.8" r="5.5"/><circle cx="290.5" cy="498.1" r="5.5"/><circle cx="466.1" cy="497.2" r="5.5"/><circle cx="423" cy="503.8" r="5.5"/><circle cx="348.2" cy="498.2" r="5.5"/><circle cx="347.5" cy="493.7" r="5.5"/><circle cx="325.2" cy="488.6" r="5.5"/><circle cx="390.8" cy="503.8" r="5.5"/><circle cx="323.3" cy="494.4" r="5.5"/><circle cx="256.7" cy="495.8" r="5.5"/><circle cx="415.3" cy="486.7" r="5.5"/><circle cx="460.1" cy="479.3" r="5.5"/><circle cx="379.2" cy="496" r="5.5"/><circle cx="268.8" cy="499" r="5.5"/><circle cx="422.7" cy="483.5" r="5.5"/><circle cx="419.1" cy="494.4" r="5.5"/><circle cx="455.7" cy="501" r="5.5"/><circle cx="477" cy="506.4" r="5.5"/><circle cx="565.5" cy="492" r="5.5"/><circle cx="495.7" cy="488.3" r="5.5"/><circle cx="306.1" cy="505.1" r="5.5"/><circle cx="313.1" cy="491.4" r="5.5"/><circle cx="366.4" cy="495.2" r="5.5"/><circle cx="340.9" cy="513.9" r="5.5"/><circle cx="484" cy="480.3" r="5.5"/><circle cx="380.2" cy="480.2" r="5.5"/><circle cx="470.1" cy="492.3" r="5.5"/><circle cx="349.2" cy="487.1" r="5.5"/><circle cx="349.4" cy="513.9" r="5.5"/><circle cx="481.7" cy="479.1" r="5.5"/><circle cx="489.9" cy="476.9" r="5.5"/><circle cx="258.5" cy="485.6" r="5.5"/><circle cx="511.2" cy="496.9" r="5.5"/><circle cx="261.4" cy="503.7" r="5.5"/><circle cx="291.6" cy="498.6" r="5.5"/><circle cx="456.5" cy="495.8" r="5.5"/><circle cx="370.1" cy="490.2" r="5.5"/><circle cx="318.8" cy="488.2" r="5.5"/><circle cx="357.8" cy="494.8" r="5.5"/><circle cx="355.3" cy="499.1" r="5.5"/><circle cx="396" cy="463" r="5.5"/><circle cx="466.5" cy="492.2" r="5.5"/><circle cx="324.3" cy="498.7" r="5.5"/><circle cx="331.9" cy="490.3" r="5.5"/><circle cx="452" cy="492.7" r="5.5"/><circle cx="442.5" cy="486.5" r="5.5"/><circle cx="300.8" cy="493.9" r="5.5"/><circle cx="276.9" cy="492.3" r="5.5"/><circle cx="456.5" cy="486.7" r="5.5"/><circle cx="290.5" cy="488.8" r="5.5"/><circle cx="486.6" cy="500.8" r="5.5"/><circle cx="299.6" cy="480.9" r="5.5"/><circle cx="281.6" cy="482" r="5.5"/><circle cx="510.4" cy="493.5" r="5.5"/><circle cx="507" cy="488.8" r="5.5"/><circle cx="381.1" cy="503.6" r="5.5"/><circle cx="322.1" cy="504.8" r="5.5"/><circle cx="505" cy="495.2" r="5.5"/><circle cx="369.8" cy="501.2" r="5.5"/><circle cx="310.1" cy="504" r="5.5"/><circle cx="351.9" cy="495" r="5.5"/><circle cx="315.9" cy="474.4" r="5.5"/><circle cx="344.9" cy="496" r="5.5"/><circle cx="365.8" cy="485.2" r="5.5"/><circle cx="249.3" cy="498.6" r="5.5"/><circle cx="352" cy="494.1" r="5.5"/><circle cx="411.3" cy="495.4" r="5.5"/><circle cx="276.8" cy="486.7" r="5.5"/><circle cx="249.3" cy="485.4" r="5.5"/><circle cx="256.1" cy="500.5" r="5.5"/><circle cx="422.9" cy="484.9" r="5.5"/><circle cx="316.4" cy="507.8" r="5.5"/><circle cx="286.9" cy="505.2" r="5.5"/><circle cx="302.2" cy="516" r="5.5"/><circle cx="293.6" cy="494.6" r="5.5"/><circle cx="304.4" cy="498.5" r="5.5"/><circle cx="311.9" cy="511.3" r="5.5"/><circle cx="248.5" cy="492.8" r="5.5"/><circle cx="311.9" cy="498" r="5.5"/><circle cx="363.7" cy="492.5" r="5.5"/><circle cx="281.8" cy="490.5" r="5.5"/><circle cx="351.8" cy="479.3" r="5.5"/><circle cx="330.6" cy="510.8" r="5.5"/><circle cx="449.8" cy="474.7" r="5.5"/><circle cx="308" cy="483.2" r="5.5"/><circle cx="368.7" cy="495.6" r="5.5"/><circle cx="375.8" cy="486" r="5.5"/><circle cx="292.8" cy="491.4" r="5.5"/><circle cx="355.7" cy="502.6" r="5.5"/><circle cx="417.8" cy="500.9" r="5.5"/><circle cx="311.9" cy="498.7" r="5.5"/><circle cx="367" cy="488.1" r="5.5"/><circle cx="371.6" cy="504.6" r="5.5"/><circle cx="285.3" cy="514" r="5.5"/><circle cx="403.6" cy="507.1" r="5.5"/><circle cx="305.2" cy="481.7" r="5.5"/><circle cx="335.4" cy="497.2" r="5.5"/><circle cx="452.3" cy="497.8" r="5.5"/><circle cx="386.2" cy="496.4" r="5.5"/><circle cx="274" cy="509.5" r="5.5"/><circle cx="486.8" cy="498.3" r="5.5"/><circle cx="253.5" cy="515.1" r="5.5"/><circle cx="262.3" cy="481.3" r="5.5"/><circle cx="288" cy="496.4" r="5.5"/><circle cx="397.8" cy="505.7" r="5.5"/><circle cx="371.8" cy="501.3" r="5.5"/><circle cx="331.9" cy="490.4" r="5.5"/><circle cx="385.5" cy="493" r="5.5"/><circle cx="286.9" cy="500.5" r="5.5"/><circle cx="302.5" cy="488.8" r="5.5"/><circle cx="356.8" cy="495.9" r="5.5"/><circle cx="296.4" cy="494.5" r="5.5"/><circle cx="259.3" cy="499.6" r="5.5"/><circle cx="307.9" cy="489" r="5.5"/><circle cx="473.9" cy="495" r="5.5"/><circle cx="332.8" cy="498.8" r="5.5"/><circle cx="351.8" cy="498.1" r="5.5"/><circle cx="412" cy="489.5" r="5.5"/><circle cx="255.4" cy="496.1" r="5.5"/><circle cx="492.2" cy="504.7" r="5.5"/><circle cx="325.6" cy="495.7" r="5.5"/><circle cx="317.3" cy="488.5" r="5.5"/><circle cx="392.2" cy="505.4" r="5.5"/><circle cx="337.9" cy="490.6" r="5.5"/><circle cx="281.9" cy="489" r="5.5"/><circle cx="451.8" cy="490.1" r="5.5"/><circle cx="364.6" cy="475.6" r="5.5"/><circle cx="405.9" cy="481.2" r="5.5"/><circle cx="327.6" cy="505.8" r="5.5"/><circle cx="443.2" cy="494.5" r="5.5"/><circle cx="504.6" cy="493.1" r="5.5"/><circle cx="411.1" cy="506" r="5.5"/><circle cx="302.1" cy="503.6" r="5.5"/><circle cx="346.5" cy="494.7" r="5.5"/><circle cx="331.3" cy="478.1" r="5.5"/><circle cx="511" cy="484.5" r="5.5"/><circle cx="252.7" cy="498.4" r="5.5"/><circle cx="308.6" cy="482.7" r="5.5"/><circle cx="325.4" cy="516.5" r="5.5"/><circle cx="315.9" cy="493.4" r="5.5"/><circle cx="455.3" cy="490.3" r="5.5"/><circle cx="412.5" cy="481.8" r="5.5"/><circle cx="498.2" cy="500.2" r="5.5"/><circle cx="453.9" cy="485" r="5.5"/><circle cx="286" cy="481.6" r="5.5"/><circle cx="325.8" cy="496.6" r="5.5"/><circle cx="325.5" cy="516" r="5.5"/><circle cx="329.6" cy="502.7" r="5.5"/><circle cx="493.6" cy="492.5" r="5.5"/><circle cx="296.4" cy="489.6" r="5.5"/><circle cx="411.2" cy="499.6" r="5.5"/><circle cx="296.8" cy="490.1" r="5.5"/><circle cx="283.9" cy="496.4" r="5.5"/><circle cx="312.3" cy="477" r="5.5"/><circle cx="358.8" cy="501.6" r="5.5"/><circle cx="520.7" cy="485.4" r="5.5"/><circle cx="258.4" cy="507.9" r="5.5"/><circle cx="306.3" cy="487" r="5.5"/><circle cx="413.2" cy="505.1" r="5.5"/><circle cx="297.6" cy="495.6" r="5.5"/><circle cx="379.9" cy="497.7" r="5.5"/><circle cx="285.3" cy="486.5" r="5.5"/><circle cx="353.7" cy="480.3" r="5.5"/><circle cx="295.6" cy="493.9" r="5.5"/><circle cx="413.8" cy="476.5" r="5.5"/><circle cx="308.1" cy="488.9" r="5.5"/><circle cx="270" cy="489.5" r="5.5"/><circle cx="284.1" cy="505.8" r="5.5"/><circle cx="305.8" cy="513.8" r="5.5"/><circle cx="257" cy="503.7" r="5.5"/><circle cx="247" cy="499.6" r="5.5"/><circle cx="313.4" cy="494.7" r="5.5"/><circle cx="272.6" cy="502.2" r="5.5"/><circle cx="286" cy="502.7" r="5.5"/><circle cx="400.1" cy="477.7" r="5.5"/><circle cx="323.6" cy="503.3" r="5.5"/><circle cx="468.4" cy="482.8" r="5.5"/><circle cx="353.6" cy="508.3" r="5.5"/><circle cx="373" cy="491.3" r="5.5"/><circle cx="398.7" cy="472.5" r="5.5"/><circle cx="470.4" cy="500.4" r="5.5"/><circle cx="394.1" cy="493.9" r="5.5"/><circle cx="320.1" cy="504.3" r="5.5"/><circle cx="454.5" cy="488.9" r="5.5"/><circle cx="317.9" cy="488.1" r="5.5"/><circle cx="291.3" cy="496.9" r="5.5"/><circle cx="316.4" cy="480.3" r="5.5"/><circle cx="416.1" cy="496.3" r="5.5"/><circle cx="396.2" cy="481.1" r="5.5"/><circle cx="415.8" cy="509.8" r="5.5"/><circle cx="403.7" cy="485.1" r="5.5"/><circle cx="359.6" cy="502.3" r="5.5"/><circle cx="342.1" cy="496.3" r="5.5"/><circle cx="306.5" cy="506.2" r="5.5"/><circle cx="455.7" cy="483.4" r="5.5"/><circle cx="301.8" cy="492.1" r="5.5"/><circle cx="377.4" cy="501.1" r="5.5"/><circle cx="312.1" cy="507.7" r="5.5"/><circle cx="410.7" cy="488.7" r="5.5"/><circle cx="362.3" cy="504.4" r="5.5"/><circle cx="496.9" cy="492.3" r="5.5"/><circle cx="348.5" cy="502.6" r="5.5"/><circle cx="399.8" cy="493.2" r="5.5"/><circle cx="341" cy="481.7" r="5.5"/><circle cx="488.9" cy="487.4" r="5.5"/><circle cx="338.4" cy="503.5" r="5.5"/><circle cx="357.9" cy="502.8" r="5.5"/><circle cx="322.1" cy="480.8" r="5.5"/><circle cx="314.8" cy="496.5" r="5.5"/><circle cx="319.8" cy="499.9" r="5.5"/><circle cx="274.5" cy="500.5" r="5.5"/><circle cx="314.8" cy="478.1" r="5.5"/><circle cx="467.4" cy="498" r="5.5"/><circle cx="437.7" cy="482.4" r="5.5"/><circle cx="390.8" cy="500.1" r="5.5"/><circle cx="321.5" cy="474.3" r="5.5"/><circle cx="353" cy="480.6" r="5.5"/><circle cx="514.9" cy="492.1" r="5.5"/><circle cx="355.1" cy="485.1" r="5.5"/><circle cx="394.6" cy="511.3" r="5.5"/><circle cx="308.6" cy="496.4" r="5.5"/><circle cx="392.4" cy="506.3" r="5.5"/><circle cx="414" cy="488" r="5.5"/><circle cx="272.6" cy="505.4" r="5.5"/><circle cx="402.5" cy="503" r="5.5"/><circle cx="287.6" cy="492.4" r="5.5"/><circle cx="275.3" cy="485.4" r="5.5"/><circle cx="423.4" cy="494.3" r="5.5"/><circle cx="423.2" cy="492.2" r="5.5"/><circle cx="512.9" cy="503.4" r="5.5"/><circle cx="383.2" cy="482.2" r="5.5"/><circle cx="508.6" cy="490.5" r="5.5"/><circle cx="297.6" cy="495.1" r="5.5"/><circle cx="336.8" cy="502" r="5.5"/><circle cx="354.7" cy="507.3" r="5.5"/><circle cx="316.9" cy="499.6" r="5.5"/><circle cx="454.2" cy="493.3" r="5.5"/><circle cx="397.5" cy="493" r="5.5"/><circle cx="381.3" cy="472.2" r="5.5"/><circle cx="409.4" cy="513.2" r="5.5"/><circle cx="324.9" cy="498.2" r="5.5"/><circle cx="488.1" cy="495" r="5.5"/><circle cx="376.9" cy="491.3" r="5.5"/><circle cx="450.3" cy="483.6" r="5.5"/><circle cx="279.6" cy="497.3" r="5.5"/><circle cx="480.4" cy="497" r="5.5"/><circle cx="377.5" cy="511.7" r="5.5"/><circle cx="326.6" cy="505.2" r="5.5"/><circle cx="469" cy="491.1" r="5.5"/><circle cx="381.9" cy="505.7" r="5.5"/><circle cx="311.6" cy="510.4" r="5.5"/><circle cx="374.7" cy="496.2" r="5.5"/><circle cx="333.3" cy="508.8" r="5.5"/><circle cx="316.2" cy="503.2" r="5.5"/><circle cx="300.3" cy="492.4" r="5.5"/><circle cx="419" cy="495.8" r="5.5"/><circle cx="291" cy="517" r="5.5"/><circle cx="505.6" cy="494.9" r="5.5"/><circle cx="276.8" cy="483.7" r="5.5"/><circle cx="328.8" cy="488.6" r="5.5"/><circle cx="286.6" cy="482.7" r="5.5"/><circle cx="418.9" cy="494.3" r="5.5"/><circle cx="320.2" cy="503.1" r="5.5"/><circle cx="325.8" cy="499.8" r="5.5"/><circle cx="276.1" cy="494.5" r="5.5"/><circle cx="488.9" cy="493.1" r="5.5"/><circle cx="361.6" cy="494.3" r="5.5"/><circle cx="327.2" cy="488.8" r="5.5"/><circle cx="349.8" cy="515.3" r="5.5"/><circle cx="274.2" cy="508.3" r="5.5"/><circle cx="395.3" cy="491.3" r="5.5"/><circle cx="374.1" cy="483.9" r="5.5"/><circle cx="418" cy="494" r="5.5"/><circle cx="473.5" cy="481" r="5.5"/><circle cx="306" cy="502.8" r="5.5"/><circle cx="462.6" cy="507.6" r="5.5"/><circle cx="472.1" cy="496.4" r="5.5"/><circle cx="489.7" cy="500.9" r="5.5"/><circle cx="315.5" cy="494.7" r="5.5"/><circle cx="346.1" cy="493.7" r="5.5"/><circle cx="334" cy="503.9" r="5.5"/><circle cx="381" cy="493.7" r="5.5"/><circle cx="264.7" cy="482.3" r="5.5"/><circle cx="457.3" cy="508.9" r="5.5"/><circle cx="392.3" cy="497" r="5.5"/><circle cx="248.8" cy="493.3" r="5.5"/><circle cx="304.6" cy="485.4" r="5.5"/><circle cx="327.3" cy="502.8" r="5.5"/><circle cx="278.5" cy="507.1" r="5.5"/><circle cx="365.1" cy="490.2" r="5.5"/><circle cx="263.4" cy="505.6" r="5.5"/><circle cx="343.6" cy="486.2" r="5.5"/><circle cx="484.9" cy="468.8" r="5.5"/><circle cx="316.6" cy="488.3" r="5.5"/><circle cx="348.4" cy="496" r="5.5"/><circle cx="512.9" cy="508.8" r="5.5"/><circle cx="353.2" cy="506.2" r="5.5"/><circle cx="343.5" cy="497.7" r="5.5"/><circle cx="396.3" cy="491.3" r="5.5"/><circle cx="359.9" cy="484" r="5.5"/><circle cx="360.1" cy="513.6" r="5.5"/><circle cx="261.2" cy="489" r="5.5"/><circle cx="376.8" cy="504.2" r="5.5"/><circle cx="467.5" cy="484.1" r="5.5"/><circle cx="270.5" cy="506.8" r="5.5"/><circle cx="522" cy="464" r="5.5"/><circle cx="351.9" cy="473" r="5.5"/><circle cx="393" cy="476.8" r="5.5"/><circle cx="476.2" cy="504.2" r="5.5"/><circle cx="335.2" cy="495.9" r="5.5"/><circle cx="310.3" cy="485.8" r="5.5"/><circle cx="303.6" cy="514.3" r="5.5"/><circle cx="263.6" cy="480.4" r="5.5"/><circle cx="444" cy="515.4" r="5.5"/><circle cx="364.1" cy="500.4" r="5.5"/><circle cx="372.3" cy="506.2" r="5.5"/><circle cx="282.8" cy="497.9" r="5.5"/><circle cx="342.8" cy="505.6" r="5.5"/><circle cx="294" cy="489.6" r="5.5"/><circle cx="415.5" cy="495.3" r="5.5"/><circle cx="387" cy="452" r="5.5"/><circle cx="344.1" cy="487.5" r="5.5"/><circle cx="426.5" cy="503.6" r="5.5"/><circle cx="332.3" cy="482.8" r="5.5"/><circle cx="297.9" cy="492.8" r="5.5"/><circle cx="464.1" cy="490.9" r="5.5"/><circle cx="332.2" cy="498.2" r="5.5"/><circle cx="260.8" cy="492.6" r="5.5"/><circle cx="423.7" cy="494" r="5.5"/><circle cx="408.6" cy="499.2" r="5.5"/><circle cx="294" cy="498.3" r="5.5"/><circle cx="287" cy="499.4" r="5.5"/><circle cx="520.3" cy="478.2" r="5.5"/><circle cx="351.6" cy="493.1" r="5.5"/><circle cx="303.4" cy="504.9" r="5.5"/><circle cx="346.1" cy="506.5" r="5.5"/><circle cx="381.2" cy="513.6" r="5.5"/><circle cx="291.1" cy="509.9" r="5.5"/><circle cx="516.9" cy="500.2" r="5.5"/><circle cx="349.1" cy="484.9" r="5.5"/><circle cx="475.5" cy="478.8" r="5.5"/><circle cx="504.7" cy="505.5" r="5.5"/><circle cx="337.2" cy="487" r="5.5"/><circle cx="420.5" cy="499.9" r="5.5"/><circle cx="450.3" cy="491.2" r="5.5"/><circle cx="339.8" cy="503" r="5.5"/><circle cx="313.4" cy="476.5" r="5.5"/><circle cx="395.4" cy="487.1" r="5.5"/><circle cx="273.5" cy="491.1" r="5.5"/><circle cx="491.3" cy="492.2" r="5.5"/><circle cx="364.6" cy="496.8" r="5.5"/><circle cx="294" cy="486.1" r="5.5"/><circle cx="359.2" cy="482.9" r="5.5"/><circle cx="509.5" cy="489.8" r="5.5"/><circle cx="418.2" cy="489.9" r="5.5"/><circle cx="414.5" cy="500.3" r="5.5"/><circle cx="508" cy="500.8" r="5.5"/><circle cx="514.7" cy="472.4" r="5.5"/><circle cx="398.1" cy="507.4" r="5.5"/><circle cx="379" cy="457" r="5.5"/><circle cx="383.1" cy="482.3" r="5.5"/><circle cx="416.4" cy="509.5" r="5.5"/><circle cx="358.2" cy="483.7" r="5.5"/><circle cx="335" cy="497.6" r="5.5"/><circle cx="470.8" cy="501.8" r="5.5"/><circle cx="303.3" cy="496.2" r="5.5"/><circle cx="311.7" cy="499.7" r="5.5"/><circle cx="329" cy="470.3" r="5.5"/><circle cx="357.8" cy="507.4" r="5.5"/><circle cx="514.9" cy="499.6" r="5.5"/><circle cx="295.5" cy="495.2" r="5.5"/><circle cx="336.6" cy="506.8" r="5.5"/><circle cx="307.6" cy="475.9" r="5.5"/><circle cx="290.1" cy="501.1" r="5.5"/><circle cx="456.1" cy="494.4" r="5.5"/><circle cx="294.8" cy="504.6" r="5.5"/><circle cx="508.9" cy="510.6" r="5.5"/><circle cx="466.4" cy="493.7" r="5.5"/><circle cx="305.2" cy="501.4" r="5.5"/><circle cx="302.5" cy="495.1" r="5.5"/><circle cx="417.1" cy="496" r="5.5"/><circle cx="495.6" cy="499.3" r="5.5"/><circle cx="381.2" cy="497.3" r="5.5"/><circle cx="291.2" cy="480" r="5.5"/><circle cx="472.5" cy="499.4" r="5.5"/><circle cx="467.9" cy="487.4" r="5.5"/><circle cx="320.7" cy="485.8" r="5.5"/><circle cx="307.3" cy="498.4" r="5.5"/><circle cx="338.2" cy="481.4" r="5.5"/><circle cx="292" cy="488.5" r="5.5"/><circle cx="357.7" cy="489.4" r="5.5"/><circle cx="446.1" cy="491.1" r="5.5"/><circle cx="313.1" cy="511.2" r="5.5"/><circle cx="290.8" cy="505.2" r="5.5"/><circle cx="339.1" cy="513.1" r="5.5"/><circle cx="366.6" cy="490.6" r="5.5"/><circle cx="396.2" cy="504.3" r="5.5"/><circle cx="274.2" cy="488.2" r="5.5"/><circle cx="331.8" cy="506.6" r="5.5"/><circle cx="253.4" cy="492.4" r="5.5"/><circle cx="311.9" cy="514.9" r="5.5"/><circle cx="363.9" cy="506.8" r="5.5"/><circle cx="366.5" cy="506.4" r="5.5"/><circle cx="400.3" cy="477.5" r="5.5"/><circle cx="320.6" cy="507.4" r="5.5"/><circle cx="271.7" cy="492.3" r="5.5"/><circle cx="322" cy="467.1" r="5.5"/><circle cx="485.9" cy="490.3" r="5.5"/><circle cx="347.5" cy="493" r="5.5"/><circle cx="327.2" cy="505.1" r="5.5"/><circle cx="279.3" cy="484.1" r="5.5"/><circle cx="320" cy="484.3" r="5.5"/><circle cx="434.1" cy="497.4" r="5.5"/><circle cx="390.1" cy="506.7" r="5.5"/><circle cx="267.6" cy="487.2" r="5.5"/><circle cx="397.6" cy="492.7" r="5.5"/><circle cx="314.1" cy="485.5" r="5.5"/><circle cx="255.8" cy="500.4" r="5.5"/><circle cx="320.3" cy="504.5" r="5.5"/><circle cx="327.5" cy="505.7" r="5.5"/><circle cx="369.8" cy="502.7" r="5.5"/><circle cx="383.3" cy="496.3" r="5.5"/><circle cx="316.3" cy="495.3" r="5.5"/><circle cx="468.6" cy="482.2" r="5.5"/><circle cx="316.2" cy="496.5" r="5.5"/><circle cx="311.5" cy="500.2" r="5.5"/><circle cx="340.3" cy="491.6" r="5.5"/><circle cx="377" cy="507.4" r="5.5"/><circle cx="315.3" cy="518.2" r="5.5"/><circle cx="229.8" cy="480.5" r="5.5"/><circle cx="466.3" cy="496.1" r="5.5"/><circle cx="337" cy="455.5" r="5.5"/><circle cx="264.5" cy="492.1" r="5.5"/><circle cx="305.4" cy="489.2" r="5.5"/><circle cx="340.2" cy="514.5" r="5.5"/><circle cx="313.8" cy="501.8" r="5.5"/><circle cx="488.7" cy="488.6" r="5.5"/><circle cx="342" cy="489.4" r="5.5"/><circle cx="407.9" cy="501.4" r="5.5"/><circle cx="263.7" cy="492" r="5.5"/><circle cx="332.1" cy="494.5" r="5.5"/><circle cx="468.7" cy="480.6" r="5.5"/><circle cx="342.8" cy="479.3" r="5.5"/><circle cx="332.5" cy="490.4" r="5.5"/><circle cx="302.7" cy="517.1" r="5.5"/><circle cx="452.2" cy="491.5" r="5.5"/><circle cx="258.7" cy="511.5" r="5.5"/><circle cx="456" cy="455" r="5.5"/><circle cx="316.6" cy="493" r="5.5"/><circle cx="416.3" cy="485.4" r="5.5"/><circle cx="351.1" cy="498.9" r="5.5"/><circle cx="380.4" cy="488.2" r="5.5"/><circle cx="407.5" cy="508.3" r="5.5"/><circle cx="416.5" cy="499.9" r="5.5"/><circle cx="315.5" cy="490.7" r="5.5"/><circle cx="299.4" cy="481.4" r="5.5"/><circle cx="331.9" cy="478.7" r="5.5"/><circle cx="375.7" cy="486.1" r="5.5"/><circle cx="379.8" cy="482" r="5.5"/><circle cx="411.7" cy="497.8" r="5.5"/><circle cx="371.5" cy="488.3" r="5.5"/><circle cx="507.1" cy="487.2" r="5.5"/><circle cx="511.3" cy="490.8" r="5.5"/><circle cx="420.5" cy="497.2" r="5.5"/><circle cx="377" cy="480.4" r="5.5"/><circle cx="310.6" cy="489.6" r="5.5"/><circle cx="406.2" cy="484.2" r="5.5"/><circle cx="311.3" cy="492.2" r="5.5"/><circle cx="318.9" cy="499.3" r="5.5"/><circle cx="339" cy="475.7" r="5.5"/><circle cx="325.9" cy="511" r="5.5"/><circle cx="282.7" cy="502.4" r="5.5"/><circle cx="257.3" cy="488.4" r="5.5"/><circle cx="394.6" cy="482.7" r="5.5"/><circle cx="356.5" cy="506.5" r="5.5"/><circle cx="420.5" cy="495.7" r="5.5"/><circle cx="327.3" cy="494.2" r="5.5"/><circle cx="363.9" cy="481.8" r="5.5"/><circle cx="258.1" cy="503.4" r="5.5"/><circle cx="245.9" cy="510.8" r="5.5"/><circle cx="325.5" cy="483.9" r="5.5"/><circle cx="296.8" cy="502.9" r="5.5"/><circle cx="413.6" cy="499.7" r="5.5"/><circle cx="417.2" cy="498.8" r="5.5"/><circle cx="297.2" cy="484.7" r="5.5"/><circle cx="421.6" cy="500.4" r="5.5"/><circle cx="256.6" cy="486.4" r="5.5"/><circle cx="457.4" cy="482.9" r="5.5"/><circle cx="343.7" cy="501.6" r="5.5"/><circle cx="484.6" cy="503.3" r="5.5"/><circle cx="281.9" cy="483.7" r="5.5"/><circle cx="458.9" cy="486.6" r="5.5"/><circle cx="473.7" cy="501.8" r="5.5"/><circle cx="304.9" cy="483.6" r="5.5"/><circle cx="328" cy="500.3" r="5.5"/><circle cx="481.8" cy="504.1" r="5.5"/><circle cx="418.9" cy="504.6" r="5.5"/><circle cx="271.8" cy="507.6" r="5.5"/><circle cx="314.2" cy="497.7" r="5.5"/><circle cx="412.7" cy="494.3" r="5.5"/><circle cx="448" cy="495.1" r="5.5"/><circle cx="315.2" cy="497.8" r="5.5"/><circle cx="516.3" cy="495" r="5.5"/><circle cx="452.9" cy="503.2" r="5.5"/><circle cx="414.7" cy="498.9" r="5.5"/><circle cx="303.1" cy="504.1" r="5.5"/><circle cx="414.8" cy="503.5" r="5.5"/><circle cx="257.8" cy="483.4" r="5.5"/><circle cx="492.4" cy="499.3" r="5.5"/><circle cx="405.6" cy="495.7" r="5.5"/><circle cx="393.5" cy="504.7" r="5.5"/><circle cx="293" cy="476.5" r="5.5"/><circle cx="494.7" cy="503.9" r="5.5"/><circle cx="399.2" cy="490" r="5.5"/><circle cx="411.4" cy="502.3" r="5.5"/><circle cx="312.6" cy="500.6" r="5.5"/><circle cx="457.6" cy="497" r="5.5"/><circle cx="474.6" cy="479.7" r="5.5"/><circle cx="475.3" cy="492.9" r="5.5"/><circle cx="388" cy="499.9" r="5.5"/><circle cx="326.5" cy="498.7" r="5.5"/><circle cx="385.2" cy="503" r="5.5"/><circle cx="315" cy="506.2" r="5.5"/><circle cx="342" cy="483.7" r="5.5"/><circle cx="308.1" cy="498.2" r="5.5"/><circle cx="288.5" cy="494" r="5.5"/><circle cx="387.1" cy="501.7" r="5.5"/><circle cx="516.2" cy="509.4" r="5.5"/><circle cx="316.2" cy="499" r="5.5"/><circle cx="369.9" cy="498.5" r="5.5"/><circle cx="369.2" cy="492.8" r="5.5"/><circle cx="344.6" cy="483.9" r="5.5"/><circle cx="472.1" cy="480.4" r="5.5"/><circle cx="456.3" cy="500.6" r="5.5"/><circle cx="250.8" cy="487.1" r="5.5"/><circle cx="378.6" cy="490.9" r="5.5"/><circle cx="455.9" cy="501.5" r="5.5"/><circle cx="335.4" cy="481.8" r="5.5"/><circle cx="270.1" cy="509.9" r="5.5"/><circle cx="258.8" cy="515.4" r="5.5"/><circle cx="488.6" cy="490.4" r="5.5"/><circle cx="449.8" cy="502.9" r="5.5"/><circle cx="500.1" cy="499.5" r="5.5"/><circle cx="434.2" cy="498.3" r="5.5"/><circle cx="255.3" cy="498.1" r="5.5"/><circle cx="470.7" cy="508.6" r="5.5"/><circle cx="263.2" cy="475.4" r="5.5"/><circle cx="320.6" cy="491.7" r="5.5"/><circle cx="275.4" cy="485.1" r="5.5"/><circle cx="447.9" cy="480.3" r="5.5"/><circle cx="485.6" cy="503.7" r="5.5"/><circle cx="389.8" cy="485.5" r="5.5"/><circle cx="507" cy="496.5" r="5.5"/><circle cx="379.4" cy="475.7" r="5.5"/><circle cx="407.4" cy="495.3" r="5.5"/><circle cx="308.8" cy="471.9" r="5.5"/><circle cx="376.7" cy="503.6" r="5.5"/><circle cx="352.7" cy="492.6" r="5.5"/><circle cx="265.1" cy="502.7" r="5.5"/><circle cx="281.5" cy="492.1" r="5.5"/><circle cx="382.9" cy="505.9" r="5.5"/><circle cx="324.7" cy="489.6" r="5.5"/><circle cx="304.1" cy="485.5" r="5.5"/><circle cx="391.8" cy="506.3" r="5.5"/><circle cx="346.3" cy="491.8" r="5.5"/><circle cx="316.2" cy="488.6" r="5.5"/><circle cx="435.1" cy="498.5" r="5.5"/><circle cx="275.5" cy="501.1" r="5.5"/><circle cx="514.5" cy="505.7" r="5.5"/><circle cx="319.6" cy="497.5" r="5.5"/><circle cx="360.5" cy="480.7" r="5.5"/><circle cx="272.7" cy="489.1" r="5.5"/><circle cx="346.7" cy="505.2" r="5.5"/><circle cx="362.5" cy="495.1" r="5.5"/><circle cx="379.5" cy="501.7" r="5.5"/><circle cx="375.5" cy="505" r="5.5"/><circle cx="487.9" cy="502.1" r="5.5"/><circle cx="464.5" cy="484.3" r="5.5"/><circle cx="377.1" cy="485.3" r="5.5"/><circle cx="261" cy="492.2" r="5.5"/><circle cx="450.7" cy="495.6" r="5.5"/><circle cx="317.1" cy="492.5" r="5.5"/><circle cx="310.9" cy="516.9" r="5.5"/><circle cx="336.7" cy="485.9" r="5.5"/><circle cx="315.1" cy="500.5" r="5.5"/><circle cx="376.3" cy="482.1" r="5.5"/><circle cx="308" cy="487.4" r="5.5"/><circle cx="415.7" cy="489.7" r="5.5"/><circle cx="446.7" cy="491.8" r="5.5"/><circle cx="337.1" cy="491.6" r="5.5"/><circle cx="333.4" cy="498.8" r="5.5"/><circle cx="365.6" cy="487.2" r="5.5"/><circle cx="378.3" cy="508.9" r="5.5"/><circle cx="353.1" cy="488.7" r="5.5"/><circle cx="412" cy="472.1" r="5.5"/><circle cx="406.3" cy="480" r="5.5"/><circle cx="316.8" cy="488.7" r="5.5"/><circle cx="512.3" cy="500.5" r="5.5"/><circle cx="456.7" cy="498.9" r="5.5"/><circle cx="287.3" cy="500.2" r="5.5"/><circle cx="303.9" cy="496.4" r="5.5"/><circle cx="287.1" cy="479.9" r="5.5"/><circle cx="354.8" cy="498.4" r="5.5"/><circle cx="359.5" cy="503.5" r="5.5"/><circle cx="332" cy="501.6" r="5.5"/><circle cx="451.4" cy="493.5" r="5.5"/><circle cx="422" cy="488" r="5.5"/><circle cx="383.5" cy="513.6" r="5.5"/><circle cx="393.2" cy="511.4" r="5.5"/><circle cx="379.8" cy="499.4" r="5.5"/><circle cx="288.5" cy="481.3" r="5.5"/><circle cx="370.9" cy="497.4" r="5.5"/><circle cx="337.5" cy="510" r="5.5"/><circle cx="360.1" cy="502.8" r="5.5"/><circle cx="318.1" cy="489.1" r="5.5"/><circle cx="314.7" cy="490.3" r="5.5"/><circle cx="402.4" cy="501.6" r="5.5"/><circle cx="416.5" cy="504.1" r="5.5"/><circle cx="270.2" cy="494.9" r="5.5"/><circle cx="279.8" cy="482.6" r="5.5"/><circle cx="371" cy="507.6" r="5.5"/><circle cx="514.8" cy="499.4" r="5.5"/><circle cx="354.8" cy="495.5" r="5.5"/><circle cx="342.2" cy="498.8" r="5.5"/><circle cx="464.6" cy="496.6" r="5.5"/><circle cx="469.6" cy="468.8" r="5.5"/><circle cx="355" cy="502.7" r="5.5"/><circle cx="412.7" cy="486.6" r="5.5"/><circle cx="465.3" cy="499.9" r="5.5"/><circle cx="294.9" cy="514.3" r="5.5"/><circle cx="273.7" cy="509.1" r="5.5"/><circle cx="252.6" cy="484.4" r="5.5"/><circle cx="347.3" cy="483.9" r="5.5"/><circle cx="323.7" cy="481.3" r="5.5"/><circle cx="292.1" cy="509.7" r="5.5"/><circle cx="354.8" cy="502.7" r="5.5"/><circle cx="302.9" cy="490.8" r="5.5"/><circle cx="362.2" cy="478.4" r="5.5"/><circle cx="416.2" cy="486.3" r="5.5"/><circle cx="471.3" cy="486.1" r="5.5"/><circle cx="287.4" cy="507.6" r="5.5"/><circle cx="493.1" cy="484.5" r="5.5"/><circle cx="389.9" cy="508.2" r="5.5"/><circle cx="305.9" cy="495.7" r="5.5"/><circle cx="416.3" cy="492.1" r="5.5"/><circle cx="348" cy="491" r="5.5"/><circle cx="357.6" cy="494.3" r="5.5"/><circle cx="390" cy="473.4" r="5.5"/><circle cx="311.2" cy="488.3" r="5.5"/><circle cx="298.9" cy="488.6" r="5.5"/><circle cx="315.3" cy="496.5" r="5.5"/><circle cx="407.9" cy="504.5" r="5.5"/><circle cx="292.8" cy="490.9" r="5.5"/><circle cx="348.8" cy="495.9" r="5.5"/><circle cx="297.9" cy="499.7" r="5.5"/><circle cx="414.3" cy="480.8" r="5.5"/><circle cx="356.2" cy="500.5" r="5.5"/><circle cx="289.1" cy="510.5" r="5.5"/><circle cx="583.3" cy="431" r="5.5"/><circle cx="339.1" cy="493.2" r="5.5"/><circle cx="364.6" cy="501.7" r="5.5"/><circle cx="319.4" cy="504.7" r="5.5"/><circle cx="415.8" cy="500.4" r="5.5"/><circle cx="375.8" cy="497.9" r="5.5"/><circle cx="378" cy="494.7" r="5.5"/><circle cx="338.5" cy="487.5" r="5.5"/><circle cx="310.5" cy="484.8" r="5.5"/><circle cx="292.3" cy="516.9" r="5.5"/><circle cx="315.9" cy="495.7" r="5.5"/><circle cx="343.3" cy="493.4" r="5.5"/><circle cx="298.2" cy="490.4" r="5.5"/><circle cx="511" cy="490.8" r="5.5"/><circle cx="345.9" cy="487.4" r="5.5"/><circle cx="482.1" cy="500.4" r="5.5"/><circle cx="301.8" cy="493.3" r="5.5"/><circle cx="414.2" cy="499.4" r="5.5"/><circle cx="262.5" cy="490.8" r="5.5"/><circle cx="457.8" cy="493.7" r="5.5"/><circle cx="276.4" cy="500.8" r="5.5"/><circle cx="305.7" cy="506.1" r="5.5"/><circle cx="441.4" cy="480.2" r="5.5"/><circle cx="404" cy="510.5" r="5.5"/><circle cx="303.8" cy="485.1" r="5.5"/><circle cx="340.1" cy="510.6" r="5.5"/><circle cx="248.3" cy="491.2" r="5.5"/><circle cx="383.2" cy="486.2" r="5.5"/><circle cx="361.5" cy="509.2" r="5.5"/><circle cx="373.8" cy="486.7" r="5.5"/><circle cx="280" cy="469.5" r="5.5"/><circle cx="293.9" cy="481.3" r="5.5"/><circle cx="509.4" cy="476.7" r="5.5"/><circle cx="327.5" cy="513.8" r="5.5"/><circle cx="348.9" cy="485.7" r="5.5"/><circle cx="467.3" cy="480.5" r="5.5"/><circle cx="466" cy="490.3" r="5.5"/><circle cx="376.4" cy="493.9" r="5.5"/><circle cx="334" cy="512.8" r="5.5"/><circle cx="286.2" cy="478.1" r="5.5"/><circle cx="302.9" cy="488" r="5.5"/><circle cx="375.3" cy="484.7" r="5.5"/><circle cx="285.4" cy="488.2" r="5.5"/><circle cx="451.7" cy="507.1" r="5.5"/><circle cx="583" cy="479.5" r="5.5"/><circle cx="365.4" cy="496.2" r="5.5"/><circle cx="322.3" cy="489.4" r="5.5"/><circle cx="357.4" cy="490.8" r="5.5"/><circle cx="325.7" cy="507.9" r="5.5"/><circle cx="309.9" cy="502.2" r="5.5"/><circle cx="444.9" cy="480.8" r="5.5"/><circle cx="500.9" cy="495.2" r="5.5"/><circle cx="257.7" cy="491" r="5.5"/><circle cx="299" cy="496.3" r="5.5"/><circle cx="468.7" cy="482.9" r="5.5"/><circle cx="345.2" cy="505.8" r="5.5"/><circle cx="251.7" cy="511.3" r="5.5"/><circle cx="265.4" cy="491.6" r="5.5"/><circle cx="397.1" cy="508.1" r="5.5"/><circle cx="389.5" cy="500.6" r="5.5"/><circle cx="470.2" cy="490.7" r="5.5"/><circle cx="373.2" cy="501.4" r="5.5"/><circle cx="466" cy="453" r="5.5"/><circle cx="300.4" cy="510.7" r="5.5"/><circle cx="349.8" cy="506.7" r="5.5"/><circle cx="412.5" cy="489.3" r="5.5"/><circle cx="338.9" cy="503.3" r="5.5"/><circle cx="292.7" cy="478.7" r="5.5"/><circle cx="495.5" cy="482.9" r="5.5"/><circle cx="297.7" cy="497.7" r="5.5"/><circle cx="478.5" cy="503.6" r="5.5"/><circle cx="289.3" cy="497.8" r="5.5"/><circle cx="278.2" cy="491.4" r="5.5"/><circle cx="314.9" cy="480.2" r="5.5"/><circle cx="317.6" cy="500.4" r="5.5"/><circle cx="255.8" cy="498.2" r="5.5"/><circle cx="502.3" cy="486.4" r="5.5"/><circle cx="521.1" cy="486.6" r="5.5"/><circle cx="297.1" cy="492.4" r="5.5"/><circle cx="344" cy="483.7" r="5.5"/><circle cx="336.7" cy="504" r="5.5"/><circle cx="456.7" cy="477.9" r="5.5"/><circle cx="260.5" cy="498.9" r="5.5"/><circle cx="361.6" cy="498.4" r="5.5"/><circle cx="253.3" cy="500.9" r="5.5"/><circle cx="494.5" cy="506.8" r="5.5"/><circle cx="312.1" cy="512.4" r="5.5"/><circle cx="339.6" cy="513.8" r="5.5"/><circle cx="507.7" cy="477.8" r="5.5"/><circle cx="354.1" cy="498.3" r="5.5"/><circle cx="361.1" cy="505.8" r="5.5"/><circle cx="279.8" cy="506.2" r="5.5"/><circle cx="316.9" cy="505.8" r="5.5"/><circle cx="327.9" cy="502.6" r="5.5"/><circle cx="315" cy="484.6" r="5.5"/><circle cx="340.4" cy="502.1" r="5.5"/><circle cx="318.9" cy="501.1" r="5.5"/><circle cx="505.5" cy="510.6" r="5.5"/><circle cx="310.2" cy="489.7" r="5.5"/><circle cx="411.3" cy="484.8" r="5.5"/><circle cx="376.3" cy="516.7" r="5.5"/><circle cx="496" cy="486.7" r="5.5"/><circle cx="531" cy="514.5" r="5.5"/><circle cx="499.1" cy="479.5" r="5.5"/><circle cx="432.5" cy="495.6" r="5.5"/><circle cx="334.4" cy="483.7" r="5.5"/><circle cx="287.9" cy="484.2" r="5.5"/><circle cx="357.5" cy="505.5" r="5.5"/><circle cx="354.8" cy="485.2" r="5.5"/><circle cx="411.8" cy="480.2" r="5.5"/><circle cx="341" cy="474.6" r="5.5"/><circle cx="423.3" cy="496.1" r="5.5"/><circle cx="358.7" cy="500.4" r="5.5"/><circle cx="319.3" cy="486.1" r="5.5"/><circle cx="379.3" cy="511" r="5.5"/><circle cx="352.4" cy="503.4" r="5.5"/><circle cx="536" cy="487.5" r="5.5"/><circle cx="454.9" cy="495.4" r="5.5"/><circle cx="387.5" cy="486.7" r="5.5"/><circle cx="482.8" cy="490.8" r="5.5"/><circle cx="329.8" cy="502.9" r="5.5"/><circle cx="292.4" cy="489.4" r="5.5"/><circle cx="335.5" cy="497.7" r="5.5"/><circle cx="306.9" cy="496.2" r="5.5"/><circle cx="329.9" cy="509.9" r="5.5"/><circle cx="538" cy="475" r="5.5"/><circle cx="236" cy="492" r="5.5"/><circle cx="329.2" cy="517.4" r="5.5"/><circle cx="381" cy="509.2" r="5.5"/><circle cx="476.5" cy="478.6" r="5.5"/><circle cx="518.2" cy="473.8" r="5.5"/><circle cx="373.8" cy="504.1" r="5.5"/><circle cx="414.9" cy="510.3" r="5.5"/><circle cx="404.7" cy="491.7" r="5.5"/><circle cx="348.1" cy="488.3" r="5.5"/><circle cx="330.8" cy="492.1" r="5.5"/><circle cx="389.9" cy="501.6" r="5.5"/><circle cx="332.4" cy="509.7" r="5.5"/><circle cx="340.7" cy="486.2" r="5.5"/><circle cx="266.8" cy="486.7" r="5.5"/><circle cx="419" cy="501.6" r="5.5"/><circle cx="454.2" cy="484.3" r="5.5"/><circle cx="258.6" cy="491" r="5.5"/><circle cx="519.2" cy="496.8" r="5.5"/><circle cx="286.5" cy="494.3" r="5.5"/><circle cx="383.7" cy="500.8" r="5.5"/><circle cx="304.1" cy="494.1" r="5.5"/><circle cx="495" cy="451.5" r="5.5"/><circle cx="307.8" cy="514.8" r="5.5"/><circle cx="458.8" cy="483.1" r="5.5"/><circle cx="444.7" cy="487.2" r="5.5"/><circle cx="321.4" cy="505.1" r="5.5"/><circle cx="251.3" cy="484.8" r="5.5"/><circle cx="413.9" cy="495.9" r="5.5"/><circle cx="360.7" cy="488.9" r="5.5"/><circle cx="418.4" cy="490.1" r="5.5"/><circle cx="413.6" cy="504.3" r="5.5"/><circle cx="358" cy="500.8" r="5.5"/><circle cx="448.6" cy="513.9" r="5.5"/><circle cx="244.8" cy="493.7" r="5.5"/><circle cx="314.4" cy="486.6" r="5.5"/><circle cx="499.4" cy="509.2" r="5.5"/><circle cx="424.8" cy="495.7" r="5.5"/><circle cx="503.2" cy="489.5" r="5.5"/><circle cx="371.2" cy="488.1" r="5.5"/><circle cx="358.5" cy="506.4" r="5.5"/><circle cx="321" cy="495.6" r="5.5"/><circle cx="474.6" cy="491.7" r="5.5"/><circle cx="385.8" cy="499.8" r="5.5"/><circle cx="390.3" cy="490.1" r="5.5"/><circle cx="376.3" cy="497" r="5.5"/><circle cx="318.3" cy="493.4" r="5.5"/><circle cx="354" cy="480.6" r="5.5"/><circle cx="363.9" cy="500.6" r="5.5"/><circle cx="391.8" cy="495" r="5.5"/><circle cx="293.7" cy="498.8" r="5.5"/><circle cx="279.5" cy="497.3" r="5.5"/><circle cx="354" cy="474.8" r="5.5"/><circle cx="361.3" cy="505.6" r="5.5"/><circle cx="290.4" cy="487.2" r="5.5"/><circle cx="476.1" cy="479.7" r="5.5"/><circle cx="313.4" cy="498.2" r="5.5"/><circle cx="369.4" cy="506.7" r="5.5"/><circle cx="247.7" cy="503.4" r="5.5"/><circle cx="446.8" cy="475.9" r="5.5"/><circle cx="309.5" cy="504" r="5.5"/><circle cx="518.5" cy="487.8" r="5.5"/><circle cx="456.6" cy="496.9" r="5.5"/><circle cx="315.5" cy="473.9" r="5.5"/><circle cx="320" cy="506.1" r="5.5"/><circle cx="249.9" cy="505.1" r="5.5"/><circle cx="342.9" cy="510.8" r="5.5"/><circle cx="411.1" cy="495" r="5.5"/><circle cx="497" cy="484.1" r="5.5"/><circle cx="485.8" cy="480.9" r="5.5"/><circle cx="332.2" cy="492.4" r="5.5"/><circle cx="485.8" cy="493.4" r="5.5"/><circle cx="374.3" cy="510.8" r="5.5"/><circle cx="475.3" cy="484.9" r="5.5"/><circle cx="405.4" cy="507.1" r="5.5"/><circle cx="311.9" cy="496.1" r="5.5"/><circle cx="335.3" cy="484.3" r="5.5"/><circle cx="304.2" cy="507.7" r="5.5"/><circle cx="479.7" cy="498.9" r="5.5"/><circle cx="359.4" cy="492" r="5.5"/><circle cx="275.5" cy="493.8" r="5.5"/><circle cx="361.6" cy="503.1" r="5.5"/><circle cx="309.8" cy="484.5" r="5.5"/><circle cx="486.7" cy="498.7" r="5.5"/><circle cx="369.5" cy="496.1" r="5.5"/><circle cx="417.6" cy="498.2" r="5.5"/><circle cx="385.2" cy="484" r="5.5"/><circle cx="294" cy="491.6" r="5.5"/><circle cx="270.4" cy="499.9" r="5.5"/><circle cx="347.9" cy="495.2" r="5.5"/><circle cx="342.2" cy="477.9" r="5.5"/><circle cx="306" cy="488.3" r="5.5"/><circle cx="304.4" cy="501.2" r="5.5"/><circle cx="346.4" cy="488.2" r="5.5"/><circle cx="392.6" cy="478.5" r="5.5"/><circle cx="308.8" cy="500.9" r="5.5"/><circle cx="427.1" cy="503.8" r="5.5"/><circle cx="289.4" cy="486.9" r="5.5"/><circle cx="425.7" cy="493.8" r="5.5"/><circle cx="389.3" cy="497.1" r="5.5"/><circle cx="346.1" cy="484" r="5.5"/><circle cx="246.6" cy="492.9" r="5.5"/><circle cx="284.1" cy="505.6" r="5.5"/><circle cx="379.3" cy="519.3" r="5.5"/><circle cx="412.7" cy="489.2" r="5.5"/><circle cx="373.4" cy="493.8" r="5.5"/><circle cx="415" cy="489.8" r="5.5"/><circle cx="337.3" cy="488.8" r="5.5"/><circle cx="472.1" cy="499.6" r="5.5"/><circle cx="245.6" cy="512.5" r="5.5"/><circle cx="295.9" cy="496.2" r="5.5"/><circle cx="330.5" cy="492.4" r="5.5"/><circle cx="323.2" cy="487.6" r="5.5"/><circle cx="271.9" cy="515" r="5.5"/><circle cx="354.4" cy="487.9" r="5.5"/><circle cx="275.7" cy="499.5" r="5.5"/><circle cx="319.3" cy="479.4" r="5.5"/><circle cx="415.2" cy="503.1" r="5.5"/><circle cx="462.9" cy="490.1" r="5.5"/><circle cx="502.7" cy="494.5" r="5.5"/><circle cx="422.2" cy="485.6" r="5.5"/><circle cx="329.1" cy="492" r="5.5"/><circle cx="375.2" cy="500.1" r="5.5"/><circle cx="491" cy="504.6" r="5.5"/><circle cx="466.5" cy="493.5" r="5.5"/><circle cx="335.4" cy="511.8" r="5.5"/><circle cx="403.2" cy="506.6" r="5.5"/><circle cx="302.7" cy="493.9" r="5.5"/><circle cx="299.5" cy="479.6" r="5.5"/><circle cx="325" cy="493.7" r="5.5"/><circle cx="321" cy="498.3" r="5.5"/><circle cx="418.7" cy="502.3" r="5.5"/><circle cx="343.3" cy="491.1" r="5.5"/><circle cx="354.4" cy="501.2" r="5.5"/><circle cx="439" cy="480" r="5.5"/><circle cx="247.2" cy="506.9" r="5.5"/><circle cx="476.4" cy="491" r="5.5"/><circle cx="282.6" cy="492.8" r="5.5"/><circle cx="448.4" cy="496.5" r="5.5"/><circle cx="341.5" cy="484.9" r="5.5"/><circle cx="279.7" cy="484.6" r="5.5"/><circle cx="328.8" cy="490.8" r="5.5"/><circle cx="298.5" cy="507.1" r="5.5"/><circle cx="278.7" cy="509.6" r="5.5"/><circle cx="336.4" cy="513.2" r="5.5"/><circle cx="348.8" cy="480.2" r="5.5"/><circle cx="483.1" cy="480.3" r="5.5"/><circle cx="289.5" cy="500.2" r="5.5"/><circle cx="288" cy="496.9" r="5.5"/><circle cx="358" cy="471.8" r="5.5"/><circle cx="356" cy="497.6" r="5.5"/><circle cx="518" cy="503.9" r="5.5"/><circle cx="316.3" cy="491.2" r="5.5"/><circle cx="355.1" cy="494" r="5.5"/><circle cx="369.3" cy="495.5" r="5.5"/><circle cx="374.9" cy="485.4" r="5.5"/><circle cx="331.3" cy="488.3" r="5.5"/><circle cx="264" cy="508.8" r="5.5"/><circle cx="251.9" cy="498.8" r="5.5"/><circle cx="315.1" cy="483" r="5.5"/><circle cx="280.1" cy="493.1" r="5.5"/><circle cx="331.3" cy="478.8" r="5.5"/><circle cx="259.8" cy="507.6" r="5.5"/><circle cx="379" cy="511.2" r="5.5"/><circle cx="419.8" cy="499" r="5.5"/><circle cx="263.7" cy="506.4" r="5.5"/><circle cx="308.2" cy="502.9" r="5.5"/><circle cx="475" cy="499.1" r="5.5"/><circle cx="481.8" cy="475" r="5.5"/><circle cx="302.5" cy="485" r="5.5"/><circle cx="397.9" cy="499.5" r="5.5"/><circle cx="478.7" cy="510.2" r="5.5"/><circle cx="299.5" cy="499.4" r="5.5"/><circle cx="422.6" cy="490.3" r="5.5"/><circle cx="375.8" cy="507.7" r="5.5"/><circle cx="379.2" cy="503.8" r="5.5"/><circle cx="344.7" cy="481.8" r="5.5"/><circle cx="309.4" cy="496.4" r="5.5"/><circle cx="276.3" cy="507.5" r="5.5"/><circle cx="362.7" cy="492.9" r="5.5"/><circle cx="390.1" cy="495.1" r="5.5"/><circle cx="352.7" cy="492.3" r="5.5"/><circle cx="372.1" cy="498.8" r="5.5"/><circle cx="362.4" cy="487.9" r="5.5"/><circle cx="305.7" cy="501.9" r="5.5"/><circle cx="389.5" cy="480.5" r="5.5"/><circle cx="381.8" cy="495.1" r="5.5"/><circle cx="277.4" cy="486" r="5.5"/><circle cx="394.9" cy="508" r="5.5"/><circle cx="315.2" cy="483.6" r="5.5"/><circle cx="367.3" cy="496" r="5.5"/><circle cx="501.9" cy="487.5" r="5.5"/><circle cx="368.9" cy="499.1" r="5.5"/><circle cx="301.3" cy="486.8" r="5.5"/><circle cx="372.5" cy="486.1" r="5.5"/><circle cx="346.6" cy="488.1" r="5.5"/><circle cx="314.2" cy="497.1" r="5.5"/><circle cx="421.3" cy="497.6" r="5.5"/><circle cx="351.5" cy="500.8" r="5.5"/><circle cx="325.9" cy="477.7" r="5.5"/><circle cx="513.4" cy="493.9" r="5.5"/><circle cx="258.5" cy="505.7" r="5.5"/><circle cx="246.9" cy="497.9" r="5.5"/><circle cx="280.5" cy="474.4" r="5.5"/><circle cx="351.9" cy="491.6" r="5.5"/><circle cx="438.1" cy="502.4" r="5.5"/><circle cx="268.3" cy="488.5" r="5.5"/><circle cx="251.6" cy="501.2" r="5.5"/><circle cx="512.9" cy="502.4" r="5.5"/><circle cx="278" cy="494.7" r="5.5"/><circle cx="311.3" cy="498.2" r="5.5"/><circle cx="274.3" cy="505.3" r="5.5"/><circle cx="359.1" cy="491.6" r="5.5"/><circle cx="478.3" cy="510.6" r="5.5"/><circle cx="258.4" cy="486" r="5.5"/><circle cx="344" cy="495.8" r="5.5"/><circle cx="309.5" cy="493.9" r="5.5"/><circle cx="383.7" cy="501.6" r="5.5"/><circle cx="275.2" cy="492.4" r="5.5"/><circle cx="448.2" cy="482.6" r="5.5"/><circle cx="330.7" cy="485" r="5.5"/><circle cx="283.5" cy="492.4" r="5.5"/><circle cx="282.3" cy="507.6" r="5.5"/><circle cx="317.7" cy="515.6" r="5.5"/><circle cx="296.5" cy="485" r="5.5"/><circle cx="482.5" cy="487.7" r="5.5"/><circle cx="477.8" cy="486.4" r="5.5"/></g>
<path clip-path="url(#c3)" d="M230.5 486.8 L234.1 488.1 L237.7 489.3 L241.3 490.5 L244.9 491.5 L248.4 492.4 L252 493.2 L255.6 493.8 L259.2 494.4 L262.8 494.9 L266.4 495.3 L270 495.7 L273.6 496 L277.2 496.2 L280.7 496.4 L284.3 496.6 L287.9 496.8 L291.5 496.9 L295.1 496.9 L298.7 497 L302.3 497 L305.9 497 L309.5 497 L313 497 L316.6 496.9 L320.2 496.9 L323.8 496.8 L327.4 496.7 L331 496.6 L334.6 496.5 L338.2 496.4 L341.8 496.2 L345.4 496 L348.9 495.9 L352.5 495.7 L356.1 495.5 L359.7 495.3 L363.3 495.1 L366.9 494.9 L370.5 494.7 L374.1 494.5 L377.7 494.3 L381.2 494.1 L384.8 493.9 L388.4 493.8 L392 493.6 L395.6 493.4 L399.2 493.2 L402.8 493 L406.4 492.8 L410 492.6 L413.5 492.4 L417.1 492.2 L420.7 492 L424.3 491.8 L427.9 491.6 L431.5 491.4 L435.1 491.1 L438.7 490.9 L442.3 490.6 L445.8 490.4 L449.4 490.1 L453 489.8 L456.6 489.5 L460.2 489.2 L463.8 488.9 L467.4 488.6 L471 488.3 L474.6 488.1 L478.1 487.8 L481.7 487.5 L485.3 487.2 L488.9 486.9 L492.5 486.6 L496.1 486.3 L499.7 486 L503.3 485.7 L506.9 485.4 L510.4 485 L514 484.7 L517.6 484.4 L521.2 484 L524.8 483.5 L528.4 483 L532 482.5 L535.6 482 L539.2 481.4 L542.7 480.9 L546.3 480.3 L549.9 479.8 L553.5 479.2 L557.1 478.6 L560.7 478 L564.3 477.3 L567.9 476.7 L571.5 476.1 L575.1 475.4 L578.6 474.7 L582.2 474 L585.8 473.3 L589.4 472.6 L593 471.9 L596.6 471.2 L600.2 470.4 L603.8 469.7 L607.4 468.9 L610.9 468.1 L614.5 467.3 L618.1 466.5 L621.7 465.7 L625.3 464.8 L628.9 464 L632.5 463.1 L636.1 462.2 L639.7 461.3 L643.2 460.4 L646.8 459.5 L650.4 458.6 L654 457.6 L657.6 456.6 L657.6 469 L654 469.7 L650.4 470.3 L646.8 471 L643.2 471.7 L639.7 472.3 L636.1 472.9 L632.5 473.5 L628.9 474.1 L625.3 474.7 L621.7 475.3 L618.1 475.8 L614.5 476.4 L610.9 476.9 L607.4 477.4 L603.8 477.9 L600.2 478.4 L596.6 478.9 L593 479.4 L589.4 479.8 L585.8 480.3 L582.2 480.7 L578.6 481.1 L575.1 481.5 L571.5 481.9 L567.9 482.3 L564.3 482.7 L560.7 483 L557.1 483.4 L553.5 483.7 L549.9 484 L546.3 484.3 L542.7 484.6 L539.2 484.9 L535.6 485.1 L532 485.4 L528.4 485.6 L524.8 485.9 L521.2 486.1 L517.6 486.4 L514 486.7 L510.4 487 L506.9 487.4 L503.3 487.7 L499.7 488 L496.1 488.3 L492.5 488.6 L488.9 488.9 L485.3 489.2 L481.7 489.5 L478.1 489.8 L474.6 490.1 L471 490.3 L467.4 490.6 L463.8 490.9 L460.2 491.2 L456.6 491.5 L453 491.8 L449.4 492.1 L445.8 492.4 L442.3 492.6 L438.7 492.9 L435.1 493.1 L431.5 493.4 L427.9 493.6 L424.3 493.8 L420.7 494 L417.1 494.2 L413.5 494.4 L410 494.6 L406.4 494.8 L402.8 495 L399.2 495.2 L395.6 495.4 L392 495.6 L388.4 495.8 L384.8 495.9 L381.2 496.1 L377.7 496.3 L374.1 496.5 L370.5 496.7 L366.9 496.9 L363.3 497.1 L359.7 497.3 L356.1 497.5 L352.5 497.7 L348.9 497.9 L345.4 498 L341.8 498.2 L338.2 498.4 L334.6 498.5 L331 498.6 L327.4 498.7 L323.8 498.8 L320.2 498.9 L316.6 498.9 L313 499 L309.5 499 L305.9 499 L302.3 499 L298.7 499 L295.1 498.9 L291.5 498.9 L287.9 498.8 L284.3 498.6 L280.7 498.4 L277.2 498.2 L273.6 498 L270 497.7 L266.4 497.3 L262.8 496.9 L259.2 496.4 L255.6 495.8 L252 495.2 L248.4 494.6 L244.9 494 L241.3 493.3 L237.7 492.6 L234.1 491.7 L230.5 490.8Z" fill="#999" fill-opacity="0.3"/>
<path d="M230.5 488.8 L234.1 489.9 L237.7 491 L241.3 491.9 L244.9 492.8 L248.4 493.5 L252 494.2 L255.6 494.8 L259.2 495.4 L262.8 495.9 L266.4 496.3 L270 496.7 L273.6 497 L277.2 497.2 L280.7 497.4 L284.3 497.6 L287.9 497.8 L291.5 497.9 L295.1 497.9 L298.7 498 L302.3 498 L305.9 498 L309.5 498 L313 498 L316.6 497.9 L320.2 497.9 L323.8 497.8 L327.4 497.7 L331 497.6 L334.6 497.5 L338.2 497.4 L341.8 497.2 L345.4 497 L348.9 496.9 L352.5 496.7 L356.1 496.5 L359.7 496.3 L363.3 496.1 L366.9 495.9 L370.5 495.7 L374.1 495.5 L377.7 495.3 L381.2 495.1 L384.8 494.9 L388.4 494.8 L392 494.6 L395.6 494.4 L399.2 494.2 L402.8 494 L406.4 493.8 L410 493.6 L413.5 493.4 L417.1 493.2 L420.7 493 L424.3 492.8 L427.9 492.6 L431.5 492.4 L435.1 492.1 L438.7 491.9 L442.3 491.6 L445.8 491.4 L449.4 491.1 L453 490.8 L456.6 490.5 L460.2 490.2 L463.8 489.9 L467.4 489.6 L471 489.3 L474.6 489.1 L478.1 488.8 L481.7 488.5 L485.3 488.2 L488.9 487.9 L492.5 487.6 L496.1 487.3 L499.7 487 L503.3 486.7 L506.9 486.4 L510.4 486 L514 485.7 L517.6 485.4 L521.2 485 L524.8 484.7 L528.4 484.3 L532 483.9 L535.6 483.6 L539.2 483.2 L542.7 482.7 L546.3 482.3 L549.9 481.9 L553.5 481.4 L557.1 481 L560.7 480.5 L564.3 480 L567.9 479.5 L571.5 479 L575.1 478.5 L578.6 477.9 L582.2 477.4 L585.8 476.8 L589.4 476.2 L593 475.6 L596.6 475 L600.2 474.4 L603.8 473.8 L607.4 473.2 L610.9 472.5 L614.5 471.8 L618.1 471.2 L621.7 470.5 L625.3 469.8 L628.9 469 L632.5 468.3 L636.1 467.6 L639.7 466.8 L643.2 466 L646.8 465.2 L650.4 464.4 L654 463.6 L657.6 462.8" stroke="#32a373" stroke-width="4.55" fill="none"/>
<text x="196.2" y="529.7" font-size="26.67" fill="#6f6f6f" text-anchor="end">0</text>
<text x="196.2" y="497.6" font-size="26.67" fill="#6f6f6f" text-anchor="end">1</text>
<text x="196.2" y="465.5" font-size="26.67" fill="#6f6f6f" text-anchor="end">2</text>
<text x="336.1" y="556.8" font-size="26.67" fill="#6f6f6f" text-anchor="middle">10000</text>
<text x="530.9" y="556.8" font-size="26.67" fill="#6f6f6f" text-anchor="middle">20000</text>
<text x="444.5" y="600" font-size="29.33" fill="#3c3c3c" text-anchor="middle">Fitted values</text>
<g transform="translate(65 476) rotate(-90)"><text x="6" y="0" font-size="29.33" fill="#3c3c3c" text-anchor="middle">|Std. residuals|</text><path d="M-106.1 -6.2L-101.8 -8.3L-98.2 6.7L-92.8 -27.5H105.4" stroke="#3c3c3c" stroke-width="1.8" fill="none" stroke-linejoin="miter"/></g>
<text x="27.5" y="374.5" font-size="32" fill="#000" text-anchor="start">Homogeneity of Variance</text>
<text x="27.5" y="408.9" font-size="26.67" fill="#000" text-anchor="start">Reference line should be flat and horizontal</text>
<clipPath id="c4"><rect x="843.3" y="427.4" width="472.9000000000001" height="97.39999999999998"/></clipPath>
<path d="M865 427.4V524.8M921.1 427.4V524.8M977.2 427.4V524.8M1033.3 427.4V524.8M1089.3 427.4V524.8M1145.4 427.4V524.8M1201.5 427.4V524.8M1257.6 427.4V524.8M1313.7 427.4V524.8M843.3 439.8H1316.2M843.3 451.8H1316.2M843.3 463.8H1316.2M843.3 475.8H1316.2M843.3 487.8H1316.2M843.3 499.8H1316.2M843.3 511.8H1316.2M843.3 523.8H1316.2" stroke="#e2e2e2" stroke-width="2.3" fill="none"/>
<path d="M843.3 427.4V526.0999999999999M842.0 524.8H1316.2" stroke="#c0c0c0" stroke-width="2.6" fill="none"/>
<path d="M843.3 475.7H1316.2" stroke="#9a9a9a" stroke-width="2.85" stroke-dasharray="11.38 11.38" fill="none" clip-path="url(#c4)"/>
<path d="M864.6 427.4V524.8" stroke="#9a9a9a" stroke-width="2.85" stroke-dasharray="11.38 11.38" fill="none"/>
<g clip-path="url(#c4)" fill="#1a5b9d" fill-opacity="0.8"><circle cx="875.4" cy="478.1" r="4.6"/><circle cx="879.8" cy="476.7" r="4.6"/><circle cx="876.6" cy="475.9" r="4.6"/><circle cx="875.3" cy="474.6" r="4.6"/><circle cx="877.2" cy="476.2" r="4.6"/><circle cx="880.3" cy="475.4" r="4.6"/><circle cx="876.5" cy="476.4" r="4.6"/><circle cx="876.7" cy="475.2" r="4.6"/><circle cx="878" cy="476.9" r="4.6"/><circle cx="876.3" cy="474.9" r="4.6"/><circle cx="876.8" cy="478.6" r="4.6"/><circle cx="876.5" cy="477.6" r="4.6"/><circle cx="881" cy="474" r="4.6"/><circle cx="871" cy="475.6" r="4.6"/><circle cx="869.4" cy="476.6" r="4.6"/><circle cx="887.7" cy="473.6" r="4.6"/><circle cx="879.1" cy="474.7" r="4.6"/><circle cx="877.8" cy="474.6" r="4.6"/><circle cx="871.2" cy="476.1" r="4.6"/><circle cx="874.7" cy="475.1" r="4.6"/><circle cx="894.2" cy="475.2" r="4.6"/><circle cx="881" cy="477.3" r="4.6"/><circle cx="880.8" cy="475.2" r="4.6"/><circle cx="873.9" cy="475.9" r="4.6"/><circle cx="873.9" cy="474.5" r="4.6"/><circle cx="876.1" cy="474.5" r="4.6"/><circle cx="876.9" cy="476.4" r="4.6"/><circle cx="881.7" cy="476.3" r="4.6"/><circle cx="885.4" cy="475.5" r="4.6"/><circle cx="878.5" cy="475.1" r="4.6"/><circle cx="873.8" cy="476.1" r="4.6"/><circle cx="883" cy="475.8" r="4.6"/><circle cx="884.3" cy="475.1" r="4.6"/><circle cx="878" cy="475.3" r="4.6"/><circle cx="886.3" cy="474.6" r="4.6"/><circle cx="873.2" cy="475.5" r="4.6"/><circle cx="882.3" cy="476.6" r="4.6"/><circle cx="879.4" cy="477.5" r="4.6"/><circle cx="877.3" cy="474.9" r="4.6"/><circle cx="871.5" cy="476.1" r="4.6"/><circle cx="874.5" cy="476.1" r="4.6"/><circle cx="871.3" cy="476" r="4.6"/><circle cx="873.6" cy="477.3" r="4.6"/><circle cx="872.9" cy="476.1" r="4.6"/><circle cx="885.9" cy="478.3" r="4.6"/><circle cx="870.1" cy="476.1" r="4.6"/><circle cx="885.2" cy="476.6" r="4.6"/><circle cx="883.4" cy="473.9" r="4.6"/><circle cx="872.9" cy="475.3" r="4.6"/><circle cx="875.3" cy="475.9" r="4.6"/><circle cx="874" cy="475.6" r="4.6"/><circle cx="877.6" cy="475" r="4.6"/><circle cx="876.4" cy="476.5" r="4.6"/><circle cx="878.7" cy="476" r="4.6"/><circle cx="876.8" cy="476.1" r="4.6"/><circle cx="876.4" cy="473.3" r="4.6"/><circle cx="876" cy="475.7" r="4.6"/><circle cx="881" cy="477.7" r="4.6"/><circle cx="871.8" cy="475" r="4.6"/><circle cx="876.9" cy="473.2" r="4.6"/><circle cx="879.2" cy="476.7" r="4.6"/><circle cx="880" cy="472.3" r="4.6"/><circle cx="871.5" cy="475.8" r="4.6"/><circle cx="892.6" cy="474.8" r="4.6"/><circle cx="882.6" cy="476.3" r="4.6"/><circle cx="873.7" cy="476" r="4.6"/><circle cx="875.7" cy="477" r="4.6"/><circle cx="884.6" cy="476.8" r="4.6"/><circle cx="886.4" cy="477.9" r="4.6"/><circle cx="874.2" cy="474.6" r="4.6"/><circle cx="873.3" cy="476.9" r="4.6"/><circle cx="889.6" cy="475.4" r="4.6"/><circle cx="882.1" cy="475.4" r="4.6"/><circle cx="877.9" cy="476.4" r="4.6"/><circle cx="875.5" cy="475.7" r="4.6"/><circle cx="877.4" cy="475.8" r="4.6"/><circle cx="873.4" cy="476.2" r="4.6"/><circle cx="886.3" cy="475.7" r="4.6"/><circle cx="879.9" cy="475.7" r="4.6"/><circle cx="880.8" cy="476.7" r="4.6"/><circle cx="906.2" cy="477" r="4.6"/><circle cx="881.2" cy="476.6" r="4.6"/><circle cx="873" cy="475.6" r="4.6"/><circle cx="875" cy="474.4" r="4.6"/><circle cx="887.4" cy="474.3" r="4.6"/><circle cx="889.9" cy="475.4" r="4.6"/><circle cx="880" cy="474.8" r="4.6"/><circle cx="876.4" cy="475.6" r="4.6"/><circle cx="885.8" cy="474.6" r="4.6"/><circle cx="873" cy="475.6" r="4.6"/><circle cx="873.5" cy="475.4" r="4.6"/><circle cx="877.5" cy="476" r="4.6"/><circle cx="881.8" cy="475.7" r="4.6"/><circle cx="879.7" cy="473.9" r="4.6"/><circle cx="880.5" cy="476.9" r="4.6"/><circle cx="872.3" cy="475.7" r="4.6"/><circle cx="876" cy="476.3" r="4.6"/><circle cx="877.9" cy="474.8" r="4.6"/><circle cx="876.1" cy="473.9" r="4.6"/><circle cx="875" cy="476.1" r="4.6"/><circle cx="882.7" cy="478.5" r="4.6"/><circle cx="876.5" cy="475.1" r="4.6"/><circle cx="873.7" cy="475.1" r="4.6"/><circle cx="887.6" cy="477.4" r="4.6"/><circle cx="879.2" cy="476" r="4.6"/><circle cx="871.1" cy="475.8" r="4.6"/><circle cx="881.6" cy="478" r="4.6"/><circle cx="899" cy="475.1" r="4.6"/><circle cx="886.1" cy="475.3" r="4.6"/><circle cx="888.7" cy="475.5" r="4.6"/><circle cx="890.5" cy="476.8" r="4.6"/><circle cx="881.6" cy="476.5" r="4.6"/><circle cx="874.5" cy="476.4" r="4.6"/><circle cx="887.4" cy="475.3" r="4.6"/><circle cx="872.6" cy="476.7" r="4.6"/><circle cx="879.1" cy="474.3" r="4.6"/><circle cx="883.2" cy="475.4" r="4.6"/><circle cx="880.7" cy="477.9" r="4.6"/><circle cx="876.2" cy="474.1" r="4.6"/><circle cx="872.7" cy="475.6" r="4.6"/><circle cx="898.1" cy="476.3" r="4.6"/><circle cx="884.3" cy="475.6" r="4.6"/><circle cx="875.1" cy="477.6" r="4.6"/><circle cx="873" cy="475.6" r="4.6"/><circle cx="879.5" cy="478.2" r="4.6"/><circle cx="879.1" cy="476.8" r="4.6"/><circle cx="879.8" cy="474.4" r="4.6"/><circle cx="891.7" cy="474.5" r="4.6"/><circle cx="874.4" cy="476.1" r="4.6"/><circle cx="881.8" cy="476.7" r="4.6"/><circle cx="871.3" cy="474.8" r="4.6"/><circle cx="876.9" cy="475.8" r="4.6"/><circle cx="892.4" cy="475.5" r="4.6"/><circle cx="872.2" cy="475.1" r="4.6"/><circle cx="885.2" cy="476.8" r="4.6"/><circle cx="876.1" cy="475" r="4.6"/><circle cx="877.4" cy="477.9" r="4.6"/><circle cx="875.3" cy="474.3" r="4.6"/><circle cx="882.3" cy="477.3" r="4.6"/><circle cx="883" cy="476.4" r="4.6"/><circle cx="886.5" cy="476.4" r="4.6"/><circle cx="876.3" cy="475" r="4.6"/><circle cx="874.4" cy="475" r="4.6"/><circle cx="889.1" cy="475.4" r="4.6"/><circle cx="875" cy="475.2" r="4.6"/><circle cx="883" cy="475.3" r="4.6"/><circle cx="874.7" cy="475.8" r="4.6"/><circle cx="882.7" cy="477.7" r="4.6"/><circle cx="915" cy="478.1" r="4.6"/><circle cx="885.1" cy="478.1" r="4.6"/><circle cx="874.5" cy="475.8" r="4.6"/><circle cx="879" cy="476" r="4.6"/><circle cx="880.4" cy="475.9" r="4.6"/><circle cx="878.2" cy="475.5" r="4.6"/><circle cx="885.3" cy="476" r="4.6"/><circle cx="885.2" cy="476.8" r="4.6"/><circle cx="880.5" cy="477.3" r="4.6"/><circle cx="894.9" cy="477.7" r="4.6"/><circle cx="873.8" cy="474.5" r="4.6"/><circle cx="875" cy="474.9" r="4.6"/><circle cx="870" cy="477.1" r="4.6"/><circle cx="880" cy="476" r="4.6"/><circle cx="876.7" cy="475.3" r="4.6"/><circle cx="881.8" cy="474.2" r="4.6"/><circle cx="874.3" cy="476.4" r="4.6"/><circle cx="873.9" cy="475.6" r="4.6"/><circle cx="879" cy="474.6" r="4.6"/><circle cx="874.9" cy="477.5" r="4.6"/><circle cx="881" cy="476.5" r="4.6"/><circle cx="880.8" cy="475.8" r="4.6"/><circle cx="878" cy="476.5" r="4.6"/><circle cx="884.7" cy="473.6" r="4.6"/><circle cx="879.5" cy="474.9" r="4.6"/><circle cx="876.3" cy="475.6" r="4.6"/><circle cx="873.7" cy="476.7" r="4.6"/><circle cx="881.6" cy="474.9" r="4.6"/><circle cx="874.3" cy="475.1" r="4.6"/><circle cx="887.1" cy="476.3" r="4.6"/><circle cx="881.3" cy="476.2" r="4.6"/><circle cx="875.6" cy="477.2" r="4.6"/><circle cx="873" cy="475.8" r="4.6"/><circle cx="872.5" cy="474.9" r="4.6"/><circle cx="891.5" cy="474.8" r="4.6"/><circle cx="870.2" cy="475.2" r="4.6"/><circle cx="874.2" cy="474.9" r="4.6"/><circle cx="911.5" cy="476.4" r="4.6"/><circle cx="886.3" cy="476.2" r="4.6"/><circle cx="895.6" cy="474.6" r="4.6"/><circle cx="883.2" cy="475.3" r="4.6"/><circle cx="879.7" cy="476.6" r="4.6"/><circle cx="882.4" cy="475.3" r="4.6"/><circle cx="872.2" cy="474.9" r="4.6"/><circle cx="874.4" cy="475.1" r="4.6"/><circle cx="873.3" cy="475.7" r="4.6"/><circle cx="872.6" cy="476.3" r="4.6"/><circle cx="909.9" cy="475.4" r="4.6"/><circle cx="873.8" cy="474.1" r="4.6"/><circle cx="887" cy="475.6" r="4.6"/><circle cx="870.5" cy="476.4" r="4.6"/><circle cx="870.2" cy="475.4" r="4.6"/><circle cx="879.1" cy="477" r="4.6"/><circle cx="883.9" cy="475.5" r="4.6"/><circle cx="872.6" cy="476.1" r="4.6"/><circle cx="877" cy="474.8" r="4.6"/><circle cx="891.6" cy="475.7" r="4.6"/><circle cx="889.9" cy="474.7" r="4.6"/><circle cx="873.7" cy="473.5" r="4.6"/><circle cx="897.7" cy="476" r="4.6"/><circle cx="894.2" cy="476.6" r="4.6"/><circle cx="887.4" cy="475.3" r="4.6"/><circle cx="871.6" cy="475.9" r="4.6"/><circle cx="874.5" cy="475.6" r="4.6"/><circle cx="882" cy="476.4" r="4.6"/><circle cx="878.2" cy="475.2" r="4.6"/><circle cx="879.2" cy="475.7" r="4.6"/><circle cx="882.4" cy="477.9" r="4.6"/><circle cx="880.5" cy="476" r="4.6"/><circle cx="885.2" cy="475.4" r="4.6"/><circle cx="894.8" cy="474.6" r="4.6"/><circle cx="880.6" cy="476.4" r="4.6"/><circle cx="876.4" cy="476.6" r="4.6"/><circle cx="878.7" cy="474.6" r="4.6"/><circle cx="872.7" cy="476.4" r="4.6"/><circle cx="879.7" cy="475.7" r="4.6"/><circle cx="890" cy="475.3" r="4.6"/><circle cx="870.4" cy="475" r="4.6"/><circle cx="870.7" cy="475.8" r="4.6"/><circle cx="887.6" cy="476.9" r="4.6"/><circle cx="874.8" cy="474.8" r="4.6"/><circle cx="878" cy="476.2" r="4.6"/><circle cx="882.3" cy="476.3" r="4.6"/><circle cx="897.7" cy="473.8" r="4.6"/><circle cx="887.3" cy="474.9" r="4.6"/><circle cx="887.5" cy="476.8" r="4.6"/><circle cx="884.6" cy="476.3" r="4.6"/><circle cx="874" cy="476" r="4.6"/><circle cx="882.3" cy="476.5" r="4.6"/><circle cx="894.1" cy="477.7" r="4.6"/><circle cx="869.5" cy="475" r="4.6"/><circle cx="870.4" cy="475" r="4.6"/><circle cx="883.6" cy="475.5" r="4.6"/><circle cx="872.6" cy="476.2" r="4.6"/><circle cx="876.8" cy="475.6" r="4.6"/><circle cx="881" cy="475.1" r="4.6"/><circle cx="896.5" cy="476.8" r="4.6"/><circle cx="878.6" cy="476.1" r="4.6"/><circle cx="880.5" cy="476.3" r="4.6"/><circle cx="891.5" cy="475.1" r="4.6"/><circle cx="874.5" cy="475.5" r="4.6"/><circle cx="871.9" cy="477.1" r="4.6"/><circle cx="891.4" cy="476.4" r="4.6"/><circle cx="870.1" cy="474" r="4.6"/><circle cx="871.3" cy="476.7" r="4.6"/><circle cx="872.3" cy="475.6" r="4.6"/><circle cx="885.2" cy="476.4" r="4.6"/><circle cx="885.6" cy="474.5" r="4.6"/><circle cx="883.1" cy="475.8" r="4.6"/><circle cx="888.5" cy="476.2" r="4.6"/><circle cx="874.1" cy="477" r="4.6"/><circle cx="877.2" cy="476" r="4.6"/><circle cx="875.1" cy="475" r="4.6"/><circle cx="879" cy="475.1" r="4.6"/><circle cx="878.8" cy="477.1" r="4.6"/><circle cx="872.5" cy="474.2" r="4.6"/><circle cx="881.3" cy="476" r="4.6"/><circle cx="883.6" cy="476.8" r="4.6"/><circle cx="884.8" cy="475.7" r="4.6"/><circle cx="877.5" cy="476.4" r="4.6"/><circle cx="880.3" cy="476.4" r="4.6"/><circle cx="876.7" cy="476.4" r="4.6"/><circle cx="870.7" cy="475.9" r="4.6"/><circle cx="889.9" cy="476.3" r="4.6"/><circle cx="890.3" cy="477.5" r="4.6"/><circle cx="873.5" cy="475.3" r="4.6"/><circle cx="876.8" cy="476.3" r="4.6"/><circle cx="880.5" cy="474.6" r="4.6"/><circle cx="882.2" cy="475.3" r="4.6"/><circle cx="879.7" cy="475.2" r="4.6"/><circle cx="878.5" cy="475.6" r="4.6"/><circle cx="880.7" cy="474.5" r="4.6"/><circle cx="871.6" cy="476.1" r="4.6"/><circle cx="880.5" cy="476.8" r="4.6"/><circle cx="877.3" cy="475.4" r="4.6"/><circle cx="901.3" cy="478.5" r="4.6"/><circle cx="896.5" cy="476.2" r="4.6"/><circle cx="882.1" cy="475.6" r="4.6"/><circle cx="876.4" cy="476.2" r="4.6"/><circle cx="885.8" cy="474.5" r="4.6"/><circle cx="873.7" cy="475.1" r="4.6"/><circle cx="892.4" cy="475.7" r="4.6"/><circle cx="876.9" cy="476.2" r="4.6"/><circle cx="879.4" cy="474.7" r="4.6"/><circle cx="873.5" cy="476.5" r="4.6"/><circle cx="874.3" cy="476.2" r="4.6"/><circle cx="897.8" cy="475" r="4.6"/><circle cx="883.2" cy="475.2" r="4.6"/><circle cx="876.9" cy="473.8" r="4.6"/><circle cx="888.2" cy="476" r="4.6"/><circle cx="877.5" cy="477.7" r="4.6"/><circle cx="880.6" cy="475.1" r="4.6"/><circle cx="881.5" cy="474.5" r="4.6"/><circle cx="874.6" cy="476" r="4.6"/><circle cx="878.8" cy="474.2" r="4.6"/><circle cx="886.2" cy="474" r="4.6"/><circle cx="882.3" cy="476.5" r="4.6"/><circle cx="871.9" cy="476.3" r="4.6"/><circle cx="876.7" cy="477" r="4.6"/><circle cx="907.3" cy="475.3" r="4.6"/><circle cx="873.5" cy="475.1" r="4.6"/><circle cx="874.9" cy="475.2" r="4.6"/><circle cx="879.3" cy="477" r="4.6"/><circle cx="872.3" cy="476.6" r="4.6"/><circle cx="870.8" cy="477.2" r="4.6"/><circle cx="891.5" cy="477.4" r="4.6"/><circle cx="871.3" cy="477.1" r="4.6"/><circle cx="888.8" cy="477.4" r="4.6"/><circle cx="880.3" cy="476" r="4.6"/><circle cx="881.4" cy="475.4" r="4.6"/><circle cx="899.4" cy="475.2" r="4.6"/><circle cx="872.9" cy="475.8" r="4.6"/><circle cx="871.5" cy="476.5" r="4.6"/><circle cx="888.8" cy="475.8" r="4.6"/><circle cx="889.2" cy="475.2" r="4.6"/><circle cx="881.8" cy="476.1" r="4.6"/><circle cx="874" cy="475.7" r="4.6"/><circle cx="872.3" cy="476.1" r="4.6"/><circle cx="877.2" cy="476.3" r="4.6"/><circle cx="881.8" cy="475.8" r="4.6"/><circle cx="872.6" cy="476.9" r="4.6"/><circle cx="888.5" cy="474.8" r="4.6"/><circle cx="875" cy="477.3" r="4.6"/><circle cx="876.7" cy="475.3" r="4.6"/><circle cx="888.6" cy="477.1" r="4.6"/><circle cx="876" cy="474.3" r="4.6"/><circle cx="887.8" cy="474.9" r="4.6"/><circle cx="880.4" cy="476.6" r="4.6"/><circle cx="874.4" cy="476.2" r="4.6"/><circle cx="874.9" cy="476.9" r="4.6"/><circle cx="882.6" cy="475.9" r="4.6"/><circle cx="885" cy="475.4" r="4.6"/><circle cx="885.3" cy="473.3" r="4.6"/><circle cx="890.6" cy="477.2" r="4.6"/><circle cx="884.8" cy="474.6" r="4.6"/><circle cx="883.5" cy="476.4" r="4.6"/><circle cx="877.3" cy="475.5" r="4.6"/><circle cx="878.5" cy="474.9" r="4.6"/><circle cx="873.2" cy="475.3" r="4.6"/><circle cx="875.4" cy="475.4" r="4.6"/><circle cx="878.7" cy="476" r="4.6"/><circle cx="876.4" cy="475.8" r="4.6"/><circle cx="870.6" cy="475.6" r="4.6"/><circle cx="872.6" cy="474.6" r="4.6"/><circle cx="893" cy="477.3" r="4.6"/><circle cx="872.3" cy="476.3" r="4.6"/><circle cx="890.5" cy="477" r="4.6"/><circle cx="881.4" cy="476.8" r="4.6"/><circle cx="883.6" cy="476.6" r="4.6"/><circle cx="883.9" cy="474.7" r="4.6"/><circle cx="875.9" cy="473.7" r="4.6"/><circle cx="874.2" cy="474.5" r="4.6"/><circle cx="875.6" cy="477" r="4.6"/><circle cx="884.7" cy="475.7" r="4.6"/><circle cx="873" cy="476.9" r="4.6"/><circle cx="879.2" cy="475.4" r="4.6"/><circle cx="880.9" cy="474.5" r="4.6"/><circle cx="882.8" cy="475.2" r="4.6"/><circle cx="881.8" cy="474.9" r="4.6"/><circle cx="872.1" cy="475.9" r="4.6"/><circle cx="897.8" cy="477.7" r="4.6"/><circle cx="875.1" cy="477.8" r="4.6"/><circle cx="884.4" cy="475.9" r="4.6"/><circle cx="878.1" cy="475.2" r="4.6"/><circle cx="877.6" cy="474.5" r="4.6"/><circle cx="875.3" cy="476.1" r="4.6"/><circle cx="893.3" cy="475.7" r="4.6"/><circle cx="876.5" cy="475.5" r="4.6"/><circle cx="872.4" cy="474.8" r="4.6"/><circle cx="872.2" cy="475.9" r="4.6"/><circle cx="875.1" cy="476.9" r="4.6"/><circle cx="888.1" cy="474.7" r="4.6"/><circle cx="876.4" cy="475.4" r="4.6"/><circle cx="879.3" cy="475.4" r="4.6"/><circle cx="888.6" cy="477.1" r="4.6"/><circle cx="885.6" cy="475.8" r="4.6"/><circle cx="886.5" cy="477.5" r="4.6"/><circle cx="883.9" cy="477.8" r="4.6"/><circle cx="879.1" cy="476" r="4.6"/><circle cx="880.5" cy="476.2" r="4.6"/><circle cx="882.8" cy="475.2" r="4.6"/><circle cx="880.6" cy="474.4" r="4.6"/><circle cx="879.6" cy="475.8" r="4.6"/><circle cx="875.8" cy="474" r="4.6"/><circle cx="873.8" cy="476.4" r="4.6"/><circle cx="877.3" cy="475" r="4.6"/><circle cx="874.4" cy="477.1" r="4.6"/><circle cx="871.7" cy="475.7" r="4.6"/><circle cx="886.9" cy="476.1" r="4.6"/><circle cx="873.3" cy="476" r="4.6"/><circle cx="886.5" cy="475.2" r="4.6"/><circle cx="883.6" cy="477.7" r="4.6"/><circle cx="878.8" cy="475.7" r="4.6"/><circle cx="894.5" cy="476.6" r="4.6"/><circle cx="872" cy="475.7" r="4.6"/><circle cx="879.2" cy="475.4" r="4.6"/><circle cx="891.7" cy="476.2" r="4.6"/><circle cx="881.3" cy="476.2" r="4.6"/><circle cx="874.4" cy="476.9" r="4.6"/><circle cx="872.3" cy="475.3" r="4.6"/><circle cx="879.4" cy="476.5" r="4.6"/><circle cx="871.8" cy="475.4" r="4.6"/><circle cx="885.5" cy="477.2" r="4.6"/><circle cx="883.7" cy="474.5" r="4.6"/><circle cx="870" cy="476.8" r="4.6"/><circle cx="875.6" cy="474.7" r="4.6"/><circle cx="891.8" cy="476.2" r="4.6"/><circle cx="884.8" cy="475.3" r="4.6"/><circle cx="873.2" cy="475.9" r="4.6"/><circle cx="872.4" cy="475.1" r="4.6"/><circle cx="872.5" cy="475.8" r="4.6"/><circle cx="874.1" cy="474.5" r="4.6"/><circle cx="928.7" cy="475.1" r="4.6"/><circle cx="922" cy="475.1" r="4.6"/><circle cx="918.3" cy="474.2" r="4.6"/><circle cx="933.7" cy="476.5" r="4.6"/><circle cx="927.9" cy="474.5" r="4.6"/><circle cx="917.5" cy="475.7" r="4.6"/><circle cx="930.2" cy="477.3" r="4.6"/><circle cx="924.9" cy="475.3" r="4.6"/><circle cx="905.9" cy="476" r="4.6"/><circle cx="934.3" cy="474.1" r="4.6"/><circle cx="945.6" cy="479.7" r="4.6"/><circle cx="942.5" cy="475.3" r="4.6"/><circle cx="1015.9" cy="475.6" r="4.6"/><circle cx="1080" cy="473.2" r="4.6"/><circle cx="1078" cy="472.8" r="4.6"/><circle cx="1164.8" cy="479.3" r="4.6"/><circle cx="1230.7" cy="476.6" r="4.6"/><circle cx="936" cy="476.5" r="4.6"/><circle cx="929" cy="477" r="4.6"/></g>
<circle cx="1294.6" cy="480.7" r="4.4" fill="#c41230" fill-opacity="0.8"/>
<path d="M868.5 431.5 L868.6 432.4 L868.8 433.4 L868.9 434.3 L869.1 435.1 L869.3 436 L869.5 436.8 L869.7 437.7 L869.9 438.5 L870.1 439.3 L870.3 440.1 L870.5 440.8 L870.8 441.6 L871 442.3 L871.3 443 L871.6 443.7 L871.9 444.4 L872.2 445 L872.5 445.7 L872.8 446.3 L873.1 447 L873.5 447.6 L873.9 448.2 L874.3 448.8 L874.7 449.3 L875.1 449.9 L875.5 450.4 L876 451 L876.5 451.5 L877 452 L877.5 452.5 L878.1 453 L878.6 453.5 L879.2 454 L879.9 454.5 L880.5 454.9 L881.2 455.4 L881.9 455.8 L882.6 456.2 L883.4 456.6 L884.2 457 L885 457.4 L885.9 457.8 L886.8 458.2 L887.8 458.6 L888.8 459 L889.8 459.3 L890.9 459.7 L892.1 460 L893.3 460.3 L894.5 460.7 L895.8 461 L897.1 461.3 L898.5 461.6 L900 461.9 L901.5 462.2 L903.2 462.5 L904.8 462.8 L906.6 463.1 L908.4 463.4" stroke="#32a373" stroke-width="4.55" fill="none" clip-path="url(#c4)"/>
<path d="M908.4 463.4 L910.8 463.7 L913.2 464 L915.7 464.3 L918.1 464.6 L920.5 464.8 L923 465 L925.4 465.3 L927.8 465.5 L930.2 465.7 L932.7 465.9 L935.1 466 L937.5 466.2 L940 466.4 L942.4 466.5 L944.8 466.7 L947.2 466.8 L949.7 466.9 L952.1 467.1 L954.5 467.2 L956.9 467.3 L959.4 467.4 L961.8 467.5 L964.2 467.6 L966.7 467.7 L969.1 467.8 L971.5 467.9 L973.9 468 L976.4 468.1 L978.8 468.2 L981.2 468.3 L983.7 468.3 L986.1 468.4 L988.5 468.5 L990.9 468.6 L993.4 468.6 L995.8 468.7 L998.2 468.8 L1000.6 468.8 L1003.1 468.9 L1005.5 469 L1007.9 469 L1010.4 469.1 L1012.8 469.1 L1015.2 469.2 L1017.6 469.2 L1020.1 469.3 L1022.5 469.4 L1024.9 469.4 L1027.4 469.5 L1029.8 469.5 L1032.2 469.5 L1034.6 469.6 L1037.1 469.6 L1039.5 469.7 L1041.9 469.7 L1044.3 469.8 L1046.8 469.8 L1049.2 469.9 L1051.6 469.9 L1054.1 469.9 L1056.5 470 L1058.9 470 L1061.3 470.1 L1063.8 470.1 L1066.2 470.1 L1068.6 470.2 L1071.1 470.2 L1073.5 470.2 L1075.9 470.3 L1078.3 470.3 L1080.8 470.3 L1083.2 470.4 L1085.6 470.4 L1088 470.4 L1090.5 470.5 L1092.9 470.5 L1095.3 470.5 L1097.8 470.5 L1100.2 470.6 L1102.6 470.6 L1105 470.6 L1107.5 470.7 L1109.9 470.7 L1112.3 470.7 L1114.8 470.7 L1117.2 470.8 L1119.6 470.8 L1122 470.8 L1124.5 470.8 L1126.9 470.9 L1129.3 470.9 L1131.7 470.9 L1134.2 470.9 L1136.6 471 L1139 471 L1141.5 471 L1143.9 471 L1146.3 471 L1148.7 471.1 L1151.2 471.1 L1153.6 471.1 L1156 471.1 L1158.5 471.2 L1160.9 471.2 L1163.3 471.2 L1165.7 471.2 L1168.2 471.2 L1170.6 471.3 L1173 471.3 L1175.4 471.3 L1177.9 471.3 L1180.3 471.3 L1182.7 471.3 L1185.2 471.4 L1187.6 471.4 L1190 471.4 L1192.4 471.4 L1194.9 471.4 L1197.3 471.5 L1199.7 471.5 L1202.2 471.5 L1204.6 471.5 L1207 471.5 L1209.4 471.5 L1211.9 471.6 L1214.3 471.6 L1216.7 471.6 L1219.1 471.6 L1221.6 471.6 L1224 471.6 L1226.4 471.6 L1228.9 471.7 L1231.3 471.7 L1233.7 471.7 L1236.1 471.7 L1238.6 471.7 L1241 471.7 L1243.4 471.7 L1245.9 471.8 L1248.3 471.8 L1250.7 471.8 L1253.1 471.8 L1255.6 471.8 L1258 471.8 L1260.4 471.8 L1262.8 471.9 L1265.3 471.9 L1267.7 471.9 L1270.1 471.9 L1272.6 471.9 L1275 471.9 L1277.4 471.9 L1279.8 471.9 L1282.3 472 L1284.7 472 L1287.1 472 L1289.6 472 L1292 472 L1294.4 472" stroke="#32a373" stroke-width="4.55" stroke-dasharray="18.1 18.3" stroke-dashoffset="29.1" fill="none" clip-path="url(#c4)"/>
<path d="M868.5 520.1 L868.6 519.2 L868.8 518.2 L868.9 517.3 L869.1 516.5 L869.3 515.6 L869.5 514.8 L869.7 513.9 L869.9 513.1 L870.1 512.3 L870.3 511.5 L870.5 510.8 L870.8 510 L871 509.3 L871.3 508.6 L871.6 507.9 L871.9 507.2 L872.2 506.6 L872.5 505.9 L872.8 505.3 L873.1 504.6 L873.5 504 L873.9 503.4 L874.3 502.8 L874.7 502.3 L875.1 501.7 L875.5 501.2 L876 500.6 L876.5 500.1 L877 499.6 L877.5 499.1 L878.1 498.6 L878.6 498.1 L879.2 497.6 L879.9 497.1 L880.5 496.7 L881.2 496.2 L881.9 495.8 L882.6 495.4 L883.4 495 L884.2 494.6 L885 494.2 L885.9 493.8 L886.8 493.4 L887.8 493 L888.8 492.6 L889.8 492.3 L890.9 491.9 L892.1 491.6 L893.3 491.3 L894.5 490.9 L895.8 490.6 L897.1 490.3 L898.5 490 L900 489.7 L901.5 489.4 L903.2 489.1 L904.8 488.8 L906.6 488.5 L908.4 488.2" stroke="#32a373" stroke-width="4.55" fill="none" clip-path="url(#c4)"/>
<path d="M908.4 488.2 L910.8 487.9 L913.2 487.6 L915.7 487.3 L918.1 487 L920.5 486.8 L923 486.6 L925.4 486.3 L927.8 486.1 L930.2 485.9 L932.7 485.7 L935.1 485.6 L937.5 485.4 L940 485.2 L942.4 485.1 L944.8 484.9 L947.2 484.8 L949.7 484.7 L952.1 484.5 L954.5 484.4 L956.9 484.3 L959.4 484.2 L961.8 484.1 L964.2 484 L966.7 483.9 L969.1 483.8 L971.5 483.7 L973.9 483.6 L976.4 483.5 L978.8 483.4 L981.2 483.3 L983.7 483.3 L986.1 483.2 L988.5 483.1 L990.9 483 L993.4 483 L995.8 482.9 L998.2 482.8 L1000.6 482.8 L1003.1 482.7 L1005.5 482.6 L1007.9 482.6 L1010.4 482.5 L1012.8 482.5 L1015.2 482.4 L1017.6 482.4 L1020.1 482.3 L1022.5 482.2 L1024.9 482.2 L1027.4 482.1 L1029.8 482.1 L1032.2 482.1 L1034.6 482 L1037.1 482 L1039.5 481.9 L1041.9 481.9 L1044.3 481.8 L1046.8 481.8 L1049.2 481.7 L1051.6 481.7 L1054.1 481.7 L1056.5 481.6 L1058.9 481.6 L1061.3 481.5 L1063.8 481.5 L1066.2 481.5 L1068.6 481.4 L1071.1 481.4 L1073.5 481.4 L1075.9 481.3 L1078.3 481.3 L1080.8 481.3 L1083.2 481.2 L1085.6 481.2 L1088 481.2 L1090.5 481.1 L1092.9 481.1 L1095.3 481.1 L1097.8 481.1 L1100.2 481 L1102.6 481 L1105 481 L1107.5 480.9 L1109.9 480.9 L1112.3 480.9 L1114.8 480.9 L1117.2 480.8 L1119.6 480.8 L1122 480.8 L1124.5 480.8 L1126.9 480.7 L1129.3 480.7 L1131.7 480.7 L1134.2 480.7 L1136.6 480.6 L1139 480.6 L1141.5 480.6 L1143.9 480.6 L1146.3 480.6 L1148.7 480.5 L1151.2 480.5 L1153.6 480.5 L1156 480.5 L1158.5 480.4 L1160.9 480.4 L1163.3 480.4 L1165.7 480.4 L1168.2 480.4 L1170.6 480.3 L1173 480.3 L1175.4 480.3 L1177.9 480.3 L1180.3 480.3 L1182.7 480.3 L1185.2 480.2 L1187.6 480.2 L1190 480.2 L1192.4 480.2 L1194.9 480.2 L1197.3 480.1 L1199.7 480.1 L1202.2 480.1 L1204.6 480.1 L1207 480.1 L1209.4 480.1 L1211.9 480 L1214.3 480 L1216.7 480 L1219.1 480 L1221.6 480 L1224 480 L1226.4 480 L1228.9 479.9 L1231.3 479.9 L1233.7 479.9 L1236.1 479.9 L1238.6 479.9 L1241 479.9 L1243.4 479.9 L1245.9 479.8 L1248.3 479.8 L1250.7 479.8 L1253.1 479.8 L1255.6 479.8 L1258 479.8 L1260.4 479.8 L1262.8 479.7 L1265.3 479.7 L1267.7 479.7 L1270.1 479.7 L1272.6 479.7 L1275 479.7 L1277.4 479.7 L1279.8 479.7 L1282.3 479.6 L1284.7 479.6 L1287.1 479.6 L1289.6 479.6 L1292 479.6 L1294.4 479.6" stroke="#32a373" stroke-width="4.55" stroke-dasharray="18.1 18.3" stroke-dashoffset="29.1" fill="none" clip-path="url(#c4)"/>
<path d="M868 475.8 L950 475.6 L1050 475.5 L1120 475.9 L1180 476.8 L1240 478.1 L1294.6 479.5" stroke="#32a373" stroke-width="5.7" fill="none"/>
<text x="970.7" y="481.4" font-size="22" fill="#1a5b9d" text-anchor="middle">48</text>
<text x="1052" y="487.4" font-size="22" fill="#1a5b9d" text-anchor="middle">22</text>
<text x="1104.7" y="469.4" font-size="22" fill="#1a5b9d" text-anchor="middle">20</text>
<text x="1125.6" y="504.4" font-size="22" fill="#1a5b9d" text-anchor="middle">1297</text>
<text x="1261.8" y="495.5" font-size="22" fill="#c41230" text-anchor="middle">263</text>
<text x="1193.1" y="455.3" font-size="22" fill="#32a373" text-anchor="middle">0.8</text>
<text x="1193.1" y="504.1" font-size="22" fill="#32a373" text-anchor="middle">0.8</text>
<text x="830.9" y="437.4" font-size="26.67" fill="#6f6f6f" text-anchor="end">80</text>
<text x="830.9" y="461.4" font-size="26.67" fill="#6f6f6f" text-anchor="end">40</text>
<text x="830.9" y="485.4" font-size="26.67" fill="#6f6f6f" text-anchor="end">0</text>
<text x="830.9" y="509.4" font-size="26.67" fill="#6f6f6f" text-anchor="end">-40</text>
<text x="830.9" y="533.4" font-size="26.67" fill="#6f6f6f" text-anchor="end">-80</text>
<text x="864.2" y="556.8" font-size="26.67" fill="#6f6f6f" text-anchor="middle">0.000</text>
<text x="976.4" y="556.8" font-size="26.67" fill="#6f6f6f" text-anchor="middle">0.025</text>
<text x="1088.5" y="556.8" font-size="26.67" fill="#6f6f6f" text-anchor="middle">0.050</text>
<text x="1200.7" y="556.8" font-size="26.67" fill="#6f6f6f" text-anchor="middle">0.075</text>
<text x="1312.9" y="556.8" font-size="26.67" fill="#6f6f6f" text-anchor="middle">0.100</text>
<text x="1080" y="596.4" font-size="29.33" fill="#3c3c3c" text-anchor="middle">Leverage (h<tspan font-size="20.5" dy="5.5">ii</tspan><tspan dy="-5.5">)</tspan></text>
<text transform="translate(728.8 477.1) rotate(-90)" font-size="29.33" fill="#3c3c3c" text-anchor="middle">Std. Residuals</text>
<text x="707.4" y="374.5" font-size="32" fill="#000" text-anchor="start">Influential Observations</text>
<text x="707.4" y="408.9" font-size="26.67" fill="#000" text-anchor="start">Points should be inside the contour lines</text>
<clipPath id="c5"><rect x="208.4" y="711.2" width="472.6" height="97.19999999999993"/></clipPath>
<rect x="208.4" y="711.2" width="472.6" height="5.3" fill="#f5d6da"/>
<rect x="208.4" y="716.5" width="472.6" height="27.7" fill="#dde3ef"/>
<rect x="208.4" y="744.2" width="472.6" height="64.2" fill="#dff0e7"/>
<path d="M276 711.2V808.4M388.3 711.2V808.4M500.8 711.2V808.4M613.3 711.2V808.4M208.4 716.5H681M208.4 730.3H681M208.4 744.2H681M208.4 754.4H681M208.4 764.6H681M208.4 772.7H681M208.4 780.8H681M208.4 794.7H681" stroke="#5a6a6a" stroke-opacity="0.2" stroke-width="2.3" fill="none"/>
<path d="M208.4 711.2V809.6999999999999M207.1 808.4H681" stroke="#c0c0c0" stroke-width="2.6" fill="none"/>
<g clip-path="url(#c5)" fill="#32a373" fill-opacity="1"><circle cx="276" cy="783.3" r="8.4"/><circle cx="388.3" cy="807.1" r="8.4"/><circle cx="500.8" cy="793.8" r="8.4"/><circle cx="613.3" cy="795.3" r="8.4"/></g>
<text x="196.2" y="726.1" font-size="26.67" fill="#6f6f6f" text-anchor="end">10</text>
<text x="196.2" y="753.8" font-size="26.67" fill="#6f6f6f" text-anchor="end">5</text>
<text x="196.2" y="774.2" font-size="26.67" fill="#6f6f6f" text-anchor="end">3</text>
<text x="196.2" y="790.4" font-size="26.67" fill="#6f6f6f" text-anchor="end">2</text>
<text x="196.2" y="818.1" font-size="26.67" fill="#6f6f6f" text-anchor="end">1</text>
<text x="276" y="840.2" font-size="26.67" fill="#6f6f6f" text-anchor="middle">Age_08_04</text>
<text x="388.3" y="840.2" font-size="26.67" fill="#6f6f6f" text-anchor="middle">Guarantee_Period</text>
<text x="500.8" y="840.2" font-size="26.67" fill="#6f6f6f" text-anchor="middle">KM</text>
<text x="613.3" y="840.2" font-size="26.67" fill="#6f6f6f" text-anchor="middle">Weight</text>
<text transform="translate(48.2 761.8) rotate(-90)" font-size="29.33" fill="#3c3c3c" text-anchor="middle">Variance Inflation</text>
<text transform="translate(80.2 761.9) rotate(-90)" font-size="29.33" fill="#3c3c3c" text-anchor="middle">Factor (VIF, log-scaled)</text>
<text x="27.5" y="658.7" font-size="32" fill="#000" text-anchor="start">Collinearity</text>
<text x="27.5" y="691.7" font-size="26.67" fill="#000" text-anchor="start">High collinearity (VIF) may inflate parameter uncertainty</text>
<path d="M388.8 904V941" stroke="#32a373" stroke-width="4.55"/><circle cx="388.8" cy="922.3" r="8.5" fill="#32a373"/>
<text x="417.5" y="931.5" font-size="26.67" fill="#3c3c3c" text-anchor="start">Low (&lt; 5)</text>
<clipPath id="c6"><rect x="843.3" y="711.2" width="472.9000000000001" height="97.39999999999998"/></clipPath>
<path d="M889.5 711.2V808.6M953 711.2V808.6M1016.5 711.2V808.6M1080 711.2V808.6M1143.5 711.2V808.6M1207 711.2V808.6M1270.5 711.2V808.6M843.3 722.3H1316.2M843.3 737.6H1316.2M843.3 752.9H1316.2M843.3 768.1H1316.2M843.3 783.4H1316.2M843.3 798.7H1316.2" stroke="#e2e2e2" stroke-width="2.3" fill="none"/>
<path d="M843.3 711.2V809.9M842.0 808.6H1316.2" stroke="#c0c0c0" stroke-width="2.6" fill="none"/>
<path d="M843.3 737.6H1316.2" stroke="#32a373" stroke-width="4.55" fill="none"/>
<g clip-path="url(#c6)" fill="#1a5596" fill-opacity="1"><circle cx="922" cy="742.8" r="5.5"/><circle cx="923" cy="742.4" r="5.5"/><circle cx="924" cy="741.9" r="5.5"/><circle cx="925" cy="740.6" r="5.5"/><circle cx="926.1" cy="740.9" r="5.5"/><circle cx="927.1" cy="739.9" r="5.5"/><circle cx="928.1" cy="740.3" r="5.5"/><circle cx="929.1" cy="740" r="5.5"/><circle cx="930.1" cy="739" r="5.5"/><circle cx="931.1" cy="738.1" r="5.5"/><circle cx="932.1" cy="738.4" r="5.5"/><circle cx="933.1" cy="738.1" r="5.5"/><circle cx="934.2" cy="738.1" r="5.5"/><circle cx="935.2" cy="737.6" r="5.5"/><circle cx="936.2" cy="737.1" r="5.5"/><circle cx="937.2" cy="737.4" r="5.5"/><circle cx="938.2" cy="737" r="5.5"/><circle cx="939.2" cy="737.9" r="5.5"/><circle cx="940.2" cy="736.9" r="5.5"/><circle cx="941.3" cy="736.8" r="5.5"/><circle cx="942.3" cy="736.9" r="5.5"/><circle cx="943.3" cy="736.4" r="5.5"/><circle cx="944.3" cy="736.6" r="5.5"/><circle cx="945.3" cy="736.7" r="5.5"/><circle cx="946.3" cy="736.5" r="5.5"/><circle cx="947.3" cy="736.5" r="5.5"/><circle cx="948.3" cy="737" r="5.5"/><circle cx="949.4" cy="736.6" r="5.5"/><circle cx="950.4" cy="735.9" r="5.5"/><circle cx="951.4" cy="736.1" r="5.5"/><circle cx="952.4" cy="736.5" r="5.5"/><circle cx="953.4" cy="735.9" r="5.5"/><circle cx="954.4" cy="736.1" r="5.5"/><circle cx="955.4" cy="735.9" r="5.5"/><circle cx="956.5" cy="736.1" r="5.5"/><circle cx="957.5" cy="735.7" r="5.5"/><circle cx="958.5" cy="735.6" r="5.5"/><circle cx="959.5" cy="735.3" r="5.5"/><circle cx="960.5" cy="735.6" r="5.5"/><circle cx="961.5" cy="735.1" r="5.5"/><circle cx="962.5" cy="735.9" r="5.5"/><circle cx="963.5" cy="735.2" r="5.5"/><circle cx="964.6" cy="735.1" r="5.5"/><circle cx="965.6" cy="735.3" r="5.5"/><circle cx="966.6" cy="735" r="5.5"/><circle cx="967.6" cy="734.9" r="5.5"/><circle cx="968.6" cy="734.8" r="5.5"/><circle cx="969.6" cy="734.5" r="5.5"/><circle cx="970.6" cy="734.4" r="5.5"/><circle cx="971.7" cy="734.4" r="5.5"/><circle cx="972.7" cy="735" r="5.5"/><circle cx="973.7" cy="734.3" r="5.5"/><circle cx="974.7" cy="734.4" r="5.5"/><circle cx="975.7" cy="734.3" r="5.5"/><circle cx="976.7" cy="734.7" r="5.5"/><circle cx="977.7" cy="735.1" r="5.5"/><circle cx="978.7" cy="734" r="5.5"/><circle cx="979.8" cy="734.5" r="5.5"/><circle cx="980.8" cy="734.3" r="5.5"/><circle cx="981.8" cy="734.1" r="5.5"/><circle cx="982.8" cy="734.3" r="5.5"/><circle cx="983.8" cy="733.6" r="5.5"/><circle cx="984.8" cy="734.3" r="5.5"/><circle cx="985.8" cy="734.1" r="5.5"/><circle cx="986.9" cy="733.6" r="5.5"/><circle cx="987.9" cy="734.5" r="5.5"/><circle cx="988.9" cy="734.2" r="5.5"/><circle cx="989.9" cy="734.2" r="5.5"/><circle cx="990.9" cy="733.3" r="5.5"/><circle cx="991.9" cy="733.6" r="5.5"/><circle cx="992.9" cy="733.5" r="5.5"/><circle cx="993.9" cy="733.9" r="5.5"/><circle cx="995" cy="734.1" r="5.5"/><circle cx="996" cy="732.9" r="5.5"/><circle cx="997" cy="733.6" r="5.5"/><circle cx="998" cy="733.5" r="5.5"/><circle cx="999" cy="733.9" r="5.5"/><circle cx="1000" cy="733.5" r="5.5"/><circle cx="1001" cy="733" r="5.5"/><circle cx="1002.1" cy="733.3" r="5.5"/><circle cx="1003.1" cy="733" r="5.5"/><circle cx="1004.1" cy="733.1" r="5.5"/><circle cx="1005.1" cy="733.4" r="5.5"/><circle cx="1006.1" cy="733.1" r="5.5"/><circle cx="1007.1" cy="733.4" r="5.5"/><circle cx="1008.1" cy="732.7" r="5.5"/><circle cx="1009.2" cy="734.1" r="5.5"/><circle cx="1010.2" cy="733.7" r="5.5"/><circle cx="1011.2" cy="733.5" r="5.5"/><circle cx="1012.2" cy="732.8" r="5.5"/><circle cx="1013.2" cy="732.4" r="5.5"/><circle cx="1014.2" cy="732.9" r="5.5"/><circle cx="1015.2" cy="733.1" r="5.5"/><circle cx="1016.2" cy="734" r="5.5"/><circle cx="1017.3" cy="733.7" r="5.5"/><circle cx="1018.3" cy="733" r="5.5"/><circle cx="1019.3" cy="733.7" r="5.5"/><circle cx="1020.3" cy="733.7" r="5.5"/><circle cx="1021.3" cy="733.3" r="5.5"/><circle cx="1022.3" cy="733.8" r="5.5"/><circle cx="1023.3" cy="733.6" r="5.5"/><circle cx="1024.4" cy="733.3" r="5.5"/><circle cx="1025.4" cy="733.2" r="5.5"/><circle cx="1026.4" cy="733.7" r="5.5"/><circle cx="1027.4" cy="734.2" r="5.5"/><circle cx="1028.4" cy="733.4" r="5.5"/><circle cx="1029.4" cy="733.4" r="5.5"/><circle cx="1030.4" cy="734.3" r="5.5"/><circle cx="1031.4" cy="733.3" r="5.5"/><circle cx="1032.5" cy="735" r="5.5"/><circle cx="1033.5" cy="734.3" r="5.5"/><circle cx="1034.5" cy="734.8" r="5.5"/><circle cx="1035.5" cy="735.3" r="5.5"/><circle cx="1036.5" cy="734.3" r="5.5"/><circle cx="1037.5" cy="734.5" r="5.5"/><circle cx="1038.5" cy="735.8" r="5.5"/><circle cx="1039.6" cy="735" r="5.5"/><circle cx="1040.6" cy="735.1" r="5.5"/><circle cx="1041.6" cy="735.3" r="5.5"/><circle cx="1042.6" cy="735.7" r="5.5"/><circle cx="1043.6" cy="735.9" r="5.5"/><circle cx="1044.6" cy="735.5" r="5.5"/><circle cx="1045.6" cy="735.5" r="5.5"/><circle cx="1046.6" cy="735.7" r="5.5"/><circle cx="1047.7" cy="735.9" r="5.5"/><circle cx="1048.7" cy="736.3" r="5.5"/><circle cx="1049.7" cy="736" r="5.5"/><circle cx="1050.7" cy="736.7" r="5.5"/><circle cx="1051.7" cy="735.8" r="5.5"/><circle cx="1052.7" cy="736.4" r="5.5"/><circle cx="1053.7" cy="737" r="5.5"/><circle cx="1054.8" cy="736.9" r="5.5"/><circle cx="1055.8" cy="736.6" r="5.5"/><circle cx="1056.8" cy="736.3" r="5.5"/><circle cx="1057.8" cy="736.4" r="5.5"/><circle cx="1058.8" cy="736.7" r="5.5"/><circle cx="1059.8" cy="737" r="5.5"/><circle cx="1060.8" cy="736.9" r="5.5"/><circle cx="1061.8" cy="736.5" r="5.5"/><circle cx="1062.9" cy="736.8" r="5.5"/><circle cx="1063.9" cy="737.4" r="5.5"/><circle cx="1064.9" cy="737.5" r="5.5"/><circle cx="1065.9" cy="736.8" r="5.5"/><circle cx="1066.9" cy="737.2" r="5.5"/><circle cx="1067.9" cy="736.8" r="5.5"/><circle cx="1068.9" cy="737.3" r="5.5"/><circle cx="1070" cy="738.8" r="5.5"/><circle cx="1071" cy="737.6" r="5.5"/><circle cx="1072" cy="737.5" r="5.5"/><circle cx="1073" cy="737.5" r="5.5"/><circle cx="1074" cy="737.3" r="5.5"/><circle cx="1075" cy="737.1" r="5.5"/><circle cx="1076" cy="737.8" r="5.5"/><circle cx="1077" cy="737.7" r="5.5"/><circle cx="1078.1" cy="738.4" r="5.5"/><circle cx="1079.1" cy="737.3" r="5.5"/><circle cx="1080.1" cy="738.1" r="5.5"/><circle cx="1081.1" cy="738.4" r="5.5"/><circle cx="1082.1" cy="737.3" r="5.5"/><circle cx="1083.1" cy="738.2" r="5.5"/><circle cx="1084.1" cy="737.4" r="5.5"/><circle cx="1085.2" cy="738.2" r="5.5"/><circle cx="1086.2" cy="738.6" r="5.5"/><circle cx="1087.2" cy="738.1" r="5.5"/><circle cx="1088.2" cy="738.3" r="5.5"/><circle cx="1089.2" cy="738" r="5.5"/><circle cx="1090.2" cy="738.4" r="5.5"/><circle cx="1091.2" cy="738.7" r="5.5"/><circle cx="1092.2" cy="738.3" r="5.5"/><circle cx="1093.3" cy="738.4" r="5.5"/><circle cx="1094.3" cy="738.6" r="5.5"/><circle cx="1095.3" cy="738.9" r="5.5"/><circle cx="1096.3" cy="738.1" r="5.5"/><circle cx="1097.3" cy="738.8" r="5.5"/><circle cx="1098.3" cy="738.6" r="5.5"/><circle cx="1099.3" cy="739.1" r="5.5"/><circle cx="1100.4" cy="739.3" r="5.5"/><circle cx="1101.4" cy="739.2" r="5.5"/><circle cx="1102.4" cy="739.6" r="5.5"/><circle cx="1103.4" cy="738.9" r="5.5"/><circle cx="1104.4" cy="739.2" r="5.5"/><circle cx="1105.4" cy="739" r="5.5"/><circle cx="1106.4" cy="739.5" r="5.5"/><circle cx="1107.4" cy="739.5" r="5.5"/><circle cx="1108.5" cy="739.5" r="5.5"/><circle cx="1109.5" cy="739.2" r="5.5"/><circle cx="1110.5" cy="739.6" r="5.5"/><circle cx="1111.5" cy="739.6" r="5.5"/><circle cx="1112.5" cy="740" r="5.5"/><circle cx="1113.5" cy="739.7" r="5.5"/><circle cx="1114.5" cy="740.2" r="5.5"/><circle cx="1115.6" cy="739.9" r="5.5"/><circle cx="1116.6" cy="739.2" r="5.5"/><circle cx="1117.6" cy="739.8" r="5.5"/><circle cx="1118.6" cy="739.4" r="5.5"/><circle cx="1119.6" cy="740.2" r="5.5"/><circle cx="1120.6" cy="740.4" r="5.5"/><circle cx="1121.6" cy="739.9" r="5.5"/><circle cx="1122.6" cy="740.1" r="5.5"/><circle cx="1123.7" cy="739.4" r="5.5"/><circle cx="1124.7" cy="739.2" r="5.5"/><circle cx="1125.7" cy="739.8" r="5.5"/><circle cx="1126.7" cy="739.9" r="5.5"/><circle cx="1127.7" cy="739.5" r="5.5"/><circle cx="1128.7" cy="740.1" r="5.5"/><circle cx="1129.7" cy="740.2" r="5.5"/><circle cx="1130.8" cy="740.3" r="5.5"/><circle cx="1131.8" cy="740.6" r="5.5"/><circle cx="1132.8" cy="740.4" r="5.5"/><circle cx="1133.8" cy="740" r="5.5"/><circle cx="1134.8" cy="740.1" r="5.5"/><circle cx="1135.8" cy="740.3" r="5.5"/><circle cx="1136.8" cy="739.7" r="5.5"/><circle cx="1137.8" cy="740.6" r="5.5"/><circle cx="1138.9" cy="740.5" r="5.5"/><circle cx="1139.9" cy="740.1" r="5.5"/><circle cx="1140.9" cy="739.9" r="5.5"/><circle cx="1141.9" cy="741.5" r="5.5"/><circle cx="1142.9" cy="740.5" r="5.5"/><circle cx="1143.9" cy="740.5" r="5.5"/><circle cx="1144.9" cy="740.8" r="5.5"/><circle cx="1146" cy="740.5" r="5.5"/><circle cx="1147" cy="740.3" r="5.5"/><circle cx="1148" cy="740.4" r="5.5"/><circle cx="1149" cy="739.9" r="5.5"/><circle cx="1150" cy="740.5" r="5.5"/><circle cx="1151" cy="739.6" r="5.5"/><circle cx="1152" cy="740.4" r="5.5"/><circle cx="1153.1" cy="740.4" r="5.5"/><circle cx="1154.1" cy="739.6" r="5.5"/><circle cx="1155.1" cy="740.9" r="5.5"/><circle cx="1156.1" cy="739.8" r="5.5"/><circle cx="1157.1" cy="740.6" r="5.5"/><circle cx="1158.1" cy="740" r="5.5"/><circle cx="1159.1" cy="740.3" r="5.5"/><circle cx="1160.1" cy="739.9" r="5.5"/><circle cx="1161.2" cy="741" r="5.5"/><circle cx="1162.2" cy="740.5" r="5.5"/><circle cx="1163.2" cy="740.7" r="5.5"/><circle cx="1164.2" cy="740.4" r="5.5"/><circle cx="1165.2" cy="740.3" r="5.5"/><circle cx="1166.2" cy="740.1" r="5.5"/><circle cx="1167.2" cy="739.9" r="5.5"/><circle cx="1168.3" cy="740.2" r="5.5"/><circle cx="1169.3" cy="740" r="5.5"/><circle cx="1170.3" cy="739.8" r="5.5"/><circle cx="1171.3" cy="739.4" r="5.5"/><circle cx="1172.3" cy="739.7" r="5.5"/><circle cx="1173.3" cy="740" r="5.5"/><circle cx="1174.3" cy="739.6" r="5.5"/><circle cx="1175.3" cy="739.8" r="5.5"/><circle cx="1176.4" cy="739.6" r="5.5"/><circle cx="1177.4" cy="739.2" r="5.5"/><circle cx="1178.4" cy="739.2" r="5.5"/><circle cx="1179.4" cy="739.3" r="5.5"/><circle cx="1180.4" cy="739.4" r="5.5"/><circle cx="1181.4" cy="739.3" r="5.5"/><circle cx="1182.4" cy="739.8" r="5.5"/><circle cx="1183.5" cy="739" r="5.5"/><circle cx="1184.5" cy="738.6" r="5.5"/><circle cx="1185.5" cy="739.5" r="5.5"/><circle cx="1186.5" cy="739" r="5.5"/><circle cx="1187.5" cy="739.1" r="5.5"/><circle cx="1188.5" cy="740" r="5.5"/><circle cx="1189.5" cy="739.6" r="5.5"/><circle cx="1190.5" cy="739.2" r="5.5"/><circle cx="1191.6" cy="739.3" r="5.5"/><circle cx="1192.6" cy="739" r="5.5"/><circle cx="1193.6" cy="739.3" r="5.5"/><circle cx="1194.6" cy="738.6" r="5.5"/><circle cx="1195.6" cy="738.6" r="5.5"/><circle cx="1196.6" cy="738.6" r="5.5"/><circle cx="1197.6" cy="739.3" r="5.5"/><circle cx="1198.7" cy="739.2" r="5.5"/><circle cx="1199.7" cy="738.4" r="5.5"/><circle cx="1200.7" cy="739" r="5.5"/><circle cx="1201.7" cy="738.4" r="5.5"/><circle cx="1202.7" cy="738.8" r="5.5"/><circle cx="1203.7" cy="738.2" r="5.5"/><circle cx="1204.7" cy="738.6" r="5.5"/><circle cx="1205.7" cy="738.1" r="5.5"/><circle cx="1206.8" cy="738" r="5.5"/><circle cx="1207.8" cy="738" r="5.5"/><circle cx="1208.8" cy="738" r="5.5"/><circle cx="1209.8" cy="737.6" r="5.5"/><circle cx="1210.8" cy="737.2" r="5.5"/><circle cx="1211.8" cy="738.2" r="5.5"/><circle cx="1212.8" cy="737.3" r="5.5"/><circle cx="1213.9" cy="736.7" r="5.5"/><circle cx="1214.9" cy="736.4" r="5.5"/><circle cx="1215.9" cy="735.9" r="5.5"/><circle cx="1216.9" cy="736.3" r="5.5"/><circle cx="1217.9" cy="736.6" r="5.5"/><circle cx="1218.9" cy="735.1" r="5.5"/><circle cx="1219.9" cy="735" r="5.5"/><circle cx="1220.9" cy="733.8" r="5.5"/><circle cx="1222" cy="734.2" r="5.5"/><circle cx="1223" cy="733.1" r="5.5"/><circle cx="1224" cy="732" r="5.5"/><circle cx="1225" cy="731.2" r="5.5"/><circle cx="1225" cy="731.3" r="5.5"/><circle cx="1226.8" cy="729" r="5.5"/><circle cx="1228.6" cy="727.1" r="5.5"/><circle cx="1230.4" cy="725.8" r="5.5"/><circle cx="1232.2" cy="725.5" r="5.5"/><circle cx="1234" cy="724.9" r="5.5"/><circle cx="1235.8" cy="725.9" r="5.5"/><circle cx="1237.7" cy="725" r="5.5"/><circle cx="1239.5" cy="724.9" r="5.5"/><circle cx="1241.3" cy="724.4" r="5.5"/><circle cx="1243.1" cy="723.3" r="5.5"/><circle cx="1244.9" cy="720.3" r="5.5"/><circle cx="1246.7" cy="718.7" r="5.5"/><circle cx="1248.5" cy="716.6" r="5.5"/><circle cx="864.6" cy="804.1" r="5.5"/><circle cx="884.7" cy="792.9" r="5.5"/><circle cx="894.7" cy="790" r="5.5"/><circle cx="901.4" cy="766.3" r="5.5"/><circle cx="906.8" cy="765.3" r="5.5"/><circle cx="910.8" cy="758.3" r="5.5"/><circle cx="914.4" cy="757" r="5.5"/><circle cx="917.4" cy="755.9" r="5.5"/><circle cx="920.4" cy="745.2" r="5.5"/><circle cx="922" cy="743.5" r="5.5"/><circle cx="1258.4" cy="716.7" r="5.5"/><circle cx="1264.8" cy="716.5" r="5.5"/><circle cx="1274.9" cy="716.1" r="5.5"/><circle cx="1294.6" cy="719.7" r="5.5"/><circle cx="1254" cy="716" r="5.5"/><circle cx="1250.8" cy="715.7" r="5.5"/><circle cx="1248.5" cy="716.2" r="5.5"/></g>
<text x="830.9" y="747.2" font-size="26.67" fill="#6f6f6f" text-anchor="end">0</text>
<text x="830.9" y="777.7" font-size="26.67" fill="#6f6f6f" text-anchor="end">-2</text>
<text x="830.9" y="808.3" font-size="26.67" fill="#6f6f6f" text-anchor="end">-4</text>
<text x="952.2" y="839.8" font-size="26.67" fill="#6f6f6f" text-anchor="middle">-2</text>
<text x="1079.2" y="839.8" font-size="26.67" fill="#6f6f6f" text-anchor="middle">0</text>
<text x="1206.2" y="839.8" font-size="26.67" fill="#6f6f6f" text-anchor="middle">2</text>
<text x="1080" y="880.7" font-size="29.33" fill="#3c3c3c" text-anchor="middle">Standard Normal Distribution Quantiles</text>
<text transform="translate(728.3 760) rotate(-90)" font-size="29.33" fill="#3c3c3c" text-anchor="middle">Sample Quantile Deviations</text>
<text x="707.4" y="658.7" font-size="32" fill="#000" text-anchor="start">Normality of Residuals</text>
<text x="707.4" y="691.7" font-size="26.67" fill="#000" text-anchor="start">Dots should fall along the line</text>
</svg>
</body></html>
